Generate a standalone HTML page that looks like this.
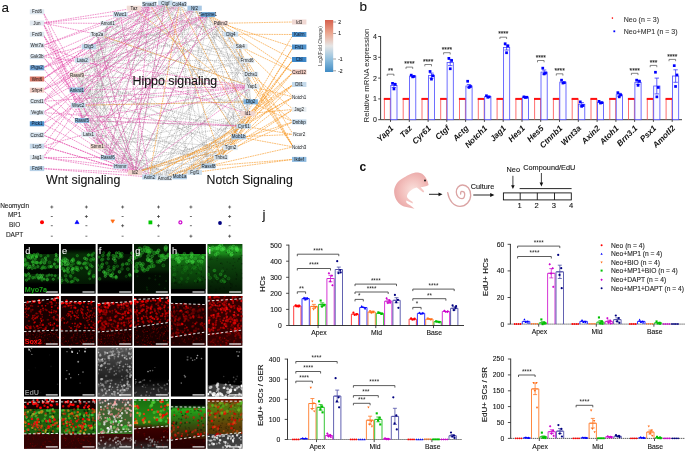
<!DOCTYPE html>
<html><head><meta charset="utf-8"><style>
html,body{margin:0;padding:0;background:#fff;width:685px;height:451px;overflow:hidden}
svg{display:block;will-change:transform;font-family:"Liberation Sans", sans-serif}
text{paint-order:stroke}
</style></head><body>
<svg width="685" height="451" viewBox="0 0 685 451">
<text x="1.6" y="11.6" font-size="13.5" fill="#111" text-anchor="start" stroke="#111" stroke-width="0.1">a</text>
<g stroke="#808080" stroke-width="0.45" stroke-dasharray="1.2 0.8" fill="none" opacity="0.9"><line x1="165.3" y1="3" x2="247" y2="60.6"/><line x1="165.3" y1="3" x2="247.6" y2="113.7"/><line x1="165.3" y1="3" x2="238.6" y2="136.8"/><line x1="165.3" y1="3" x2="208.5" y2="166"/><line x1="165.3" y1="3" x2="135" y2="172.6"/><line x1="165.3" y1="3" x2="120.4" y2="166.3"/><line x1="165.3" y1="3" x2="97.2" y2="146.6"/><line x1="165.3" y1="3" x2="88.6" y2="134.3"/><line x1="165.3" y1="3" x2="82" y2="120.5"/><line x1="165.3" y1="3" x2="78.2" y2="105.3"/><line x1="179.5" y1="4.2" x2="247" y2="60.6"/><line x1="179.5" y1="4.2" x2="252" y2="86.6"/><line x1="179.5" y1="4.2" x2="208.5" y2="166"/><line x1="179.5" y1="4.2" x2="194.8" y2="172.4"/><line x1="179.5" y1="4.2" x2="120.4" y2="166.3"/><line x1="179.5" y1="4.2" x2="88.6" y2="134.3"/><line x1="179.5" y1="4.2" x2="82" y2="120.5"/><line x1="179.5" y1="4.2" x2="82.2" y2="60.3"/><line x1="179.5" y1="4.2" x2="89" y2="46.8"/><line x1="179.5" y1="4.2" x2="97.2" y2="34.3"/><line x1="179.5" y1="4.2" x2="107.7" y2="23.4"/><line x1="179.5" y1="4.2" x2="134" y2="8.2"/><line x1="194.6" y1="8.2" x2="240.3" y2="46.5"/><line x1="194.6" y1="8.2" x2="251" y2="74.3"/><line x1="194.6" y1="8.2" x2="250.7" y2="101.8"/><line x1="194.6" y1="8.2" x2="247.6" y2="113.7"/><line x1="194.6" y1="8.2" x2="208.5" y2="166"/><line x1="194.6" y1="8.2" x2="149.4" y2="177"/><line x1="194.6" y1="8.2" x2="120.4" y2="166.3"/><line x1="194.6" y1="8.2" x2="107.8" y2="157.6"/><line x1="194.6" y1="8.2" x2="78.2" y2="105.3"/><line x1="194.6" y1="8.2" x2="76.8" y2="90"/><line x1="194.6" y1="8.2" x2="82.2" y2="60.3"/><line x1="208" y1="14.6" x2="240.3" y2="46.5"/><line x1="208" y1="14.6" x2="252" y2="86.6"/><line x1="208" y1="14.6" x2="250.7" y2="101.8"/><line x1="208" y1="14.6" x2="238.6" y2="136.8"/><line x1="208" y1="14.6" x2="179.7" y2="176.8"/><line x1="208" y1="14.6" x2="164.7" y2="178"/><line x1="208" y1="14.6" x2="135" y2="172.6"/><line x1="208" y1="14.6" x2="107.8" y2="157.6"/><line x1="208" y1="14.6" x2="78.2" y2="105.3"/><line x1="208" y1="14.6" x2="77" y2="74.9"/><line x1="208" y1="14.6" x2="82.2" y2="60.3"/><line x1="208" y1="14.6" x2="149.4" y2="4.2"/><line x1="220.6" y1="23.3" x2="251" y2="74.3"/><line x1="220.6" y1="23.3" x2="252" y2="86.6"/><line x1="220.6" y1="23.3" x2="243.7" y2="126.2"/><line x1="220.6" y1="23.3" x2="164.7" y2="178"/><line x1="220.6" y1="23.3" x2="149.4" y2="177"/><line x1="220.6" y1="23.3" x2="135" y2="172.6"/><line x1="220.6" y1="23.3" x2="88.6" y2="134.3"/><line x1="220.6" y1="23.3" x2="89" y2="46.8"/><line x1="231" y1="34.2" x2="149.4" y2="177"/><line x1="231" y1="34.2" x2="82.2" y2="60.3"/><line x1="231" y1="34.2" x2="97.2" y2="34.3"/><line x1="231" y1="34.2" x2="134" y2="8.2"/><line x1="240.3" y1="46.5" x2="250.7" y2="101.8"/><line x1="240.3" y1="46.5" x2="247.6" y2="113.7"/><line x1="240.3" y1="46.5" x2="230.5" y2="147.6"/><line x1="240.3" y1="46.5" x2="221" y2="157.3"/><line x1="240.3" y1="46.5" x2="120.4" y2="166.3"/><line x1="240.3" y1="46.5" x2="82.2" y2="60.3"/><line x1="240.3" y1="46.5" x2="149.4" y2="4.2"/><line x1="247" y1="60.6" x2="250.7" y2="101.8"/><line x1="247" y1="60.6" x2="247.6" y2="113.7"/><line x1="247" y1="60.6" x2="164.7" y2="178"/><line x1="247" y1="60.6" x2="149.4" y2="177"/><line x1="247" y1="60.6" x2="120.4" y2="166.3"/><line x1="247" y1="60.6" x2="78.2" y2="105.3"/><line x1="247" y1="60.6" x2="76.8" y2="90"/><line x1="247" y1="60.6" x2="82.2" y2="60.3"/><line x1="247" y1="60.6" x2="97.2" y2="34.3"/><line x1="247" y1="60.6" x2="107.7" y2="23.4"/><line x1="247" y1="60.6" x2="120.4" y2="14.6"/><line x1="251" y1="74.3" x2="230.5" y2="147.6"/><line x1="251" y1="74.3" x2="208.5" y2="166"/><line x1="251" y1="74.3" x2="194.8" y2="172.4"/><line x1="251" y1="74.3" x2="149.4" y2="177"/><line x1="251" y1="74.3" x2="135" y2="172.6"/><line x1="251" y1="74.3" x2="82.2" y2="60.3"/><line x1="251" y1="74.3" x2="107.7" y2="23.4"/><line x1="252" y1="86.6" x2="194.8" y2="172.4"/><line x1="252" y1="86.6" x2="120.4" y2="166.3"/><line x1="252" y1="86.6" x2="97.2" y2="34.3"/><line x1="250.7" y1="101.8" x2="238.6" y2="136.8"/><line x1="250.7" y1="101.8" x2="221" y2="157.3"/><line x1="250.7" y1="101.8" x2="179.7" y2="176.8"/><line x1="250.7" y1="101.8" x2="164.7" y2="178"/><line x1="250.7" y1="101.8" x2="78.2" y2="105.3"/><line x1="250.7" y1="101.8" x2="76.8" y2="90"/><line x1="247.6" y1="113.7" x2="221" y2="157.3"/><line x1="247.6" y1="113.7" x2="149.4" y2="177"/><line x1="247.6" y1="113.7" x2="97.2" y2="146.6"/><line x1="247.6" y1="113.7" x2="97.2" y2="34.3"/><line x1="243.7" y1="126.2" x2="221" y2="157.3"/><line x1="243.7" y1="126.2" x2="135" y2="172.6"/><line x1="243.7" y1="126.2" x2="97.2" y2="146.6"/><line x1="243.7" y1="126.2" x2="82" y2="120.5"/><line x1="243.7" y1="126.2" x2="78.2" y2="105.3"/><line x1="243.7" y1="126.2" x2="76.8" y2="90"/><line x1="243.7" y1="126.2" x2="107.7" y2="23.4"/><line x1="243.7" y1="126.2" x2="134" y2="8.2"/><line x1="238.6" y1="136.8" x2="135" y2="172.6"/><line x1="238.6" y1="136.8" x2="120.4" y2="166.3"/><line x1="238.6" y1="136.8" x2="77" y2="74.9"/><line x1="238.6" y1="136.8" x2="149.4" y2="4.2"/><line x1="230.5" y1="147.6" x2="194.8" y2="172.4"/><line x1="230.5" y1="147.6" x2="179.7" y2="176.8"/><line x1="230.5" y1="147.6" x2="149.4" y2="177"/><line x1="230.5" y1="147.6" x2="135" y2="172.6"/><line x1="230.5" y1="147.6" x2="88.6" y2="134.3"/><line x1="230.5" y1="147.6" x2="76.8" y2="90"/><line x1="230.5" y1="147.6" x2="77" y2="74.9"/><line x1="230.5" y1="147.6" x2="107.7" y2="23.4"/><line x1="221" y1="157.3" x2="179.7" y2="176.8"/><line x1="221" y1="157.3" x2="164.7" y2="178"/><line x1="221" y1="157.3" x2="149.4" y2="177"/><line x1="221" y1="157.3" x2="97.2" y2="146.6"/><line x1="221" y1="157.3" x2="88.6" y2="134.3"/><line x1="221" y1="157.3" x2="82" y2="120.5"/><line x1="221" y1="157.3" x2="82.2" y2="60.3"/><line x1="221" y1="157.3" x2="89" y2="46.8"/><line x1="208.5" y1="166" x2="149.4" y2="177"/><line x1="208.5" y1="166" x2="107.8" y2="157.6"/><line x1="208.5" y1="166" x2="78.2" y2="105.3"/><line x1="208.5" y1="166" x2="76.8" y2="90"/><line x1="208.5" y1="166" x2="82.2" y2="60.3"/><line x1="194.8" y1="172.4" x2="120.4" y2="166.3"/><line x1="194.8" y1="172.4" x2="134" y2="8.2"/><line x1="179.7" y1="176.8" x2="97.2" y2="146.6"/><line x1="164.7" y1="178" x2="107.8" y2="157.6"/><line x1="164.7" y1="178" x2="88.6" y2="134.3"/><line x1="164.7" y1="178" x2="82" y2="120.5"/><line x1="164.7" y1="178" x2="76.8" y2="90"/><line x1="164.7" y1="178" x2="77" y2="74.9"/><line x1="149.4" y1="177" x2="88.6" y2="134.3"/><line x1="149.4" y1="177" x2="78.2" y2="105.3"/><line x1="149.4" y1="177" x2="77" y2="74.9"/><line x1="149.4" y1="177" x2="97.2" y2="34.3"/><line x1="135" y1="172.6" x2="77" y2="74.9"/><line x1="135" y1="172.6" x2="82.2" y2="60.3"/><line x1="135" y1="172.6" x2="89" y2="46.8"/><line x1="135" y1="172.6" x2="97.2" y2="34.3"/><line x1="120.4" y1="166.3" x2="82" y2="120.5"/><line x1="120.4" y1="166.3" x2="89" y2="46.8"/><line x1="107.8" y1="157.6" x2="82" y2="120.5"/><line x1="107.8" y1="157.6" x2="77" y2="74.9"/><line x1="107.8" y1="157.6" x2="82.2" y2="60.3"/><line x1="107.8" y1="157.6" x2="97.2" y2="34.3"/><line x1="107.8" y1="157.6" x2="149.4" y2="4.2"/><line x1="97.2" y1="146.6" x2="97.2" y2="34.3"/><line x1="97.2" y1="146.6" x2="107.7" y2="23.4"/><line x1="88.6" y1="134.3" x2="107.7" y2="23.4"/><line x1="88.6" y1="134.3" x2="120.4" y2="14.6"/><line x1="82" y1="120.5" x2="77" y2="74.9"/><line x1="82" y1="120.5" x2="82.2" y2="60.3"/><line x1="82" y1="120.5" x2="107.7" y2="23.4"/><line x1="82" y1="120.5" x2="134" y2="8.2"/><line x1="82" y1="120.5" x2="149.4" y2="4.2"/><line x1="78.2" y1="105.3" x2="107.7" y2="23.4"/><line x1="76.8" y1="90" x2="120.4" y2="14.6"/><line x1="76.8" y1="90" x2="149.4" y2="4.2"/><line x1="82.2" y1="60.3" x2="120.4" y2="14.6"/><line x1="82.2" y1="60.3" x2="149.4" y2="4.2"/><line x1="97.2" y1="34.3" x2="134" y2="8.2"/></g>
<g stroke="#f7961f" stroke-width="0.62" stroke-dasharray="1.8 0.7" fill="none"><line x1="293.2" y1="22" x2="220.6" y2="23.3"/><line x1="293.2" y1="34.5" x2="231" y2="34.2"/><line x1="293.2" y1="34.5" x2="221" y2="157.3"/><line x1="293.2" y1="47" x2="238.6" y2="136.8"/><line x1="293.2" y1="47" x2="230.5" y2="147.6"/><line x1="293.2" y1="47" x2="220.6" y2="23.3"/><line x1="293.2" y1="59.5" x2="208.5" y2="166"/><line x1="293.2" y1="59.5" x2="243.7" y2="126.2"/><line x1="293.2" y1="59.5" x2="221" y2="157.3"/><line x1="293.2" y1="59.5" x2="208" y2="14.6"/><line x1="293.2" y1="72" x2="208" y2="14.6"/><line x1="293.2" y1="72" x2="179.7" y2="176.8"/><line x1="293.2" y1="72" x2="194.8" y2="172.4"/><line x1="293.2" y1="72" x2="221" y2="157.3"/><line x1="293.2" y1="72" x2="240.3" y2="46.5"/><line x1="293.2" y1="84.5" x2="164.7" y2="178"/><line x1="293.2" y1="84.5" x2="179.7" y2="176.8"/><line x1="293.2" y1="84.5" x2="247.6" y2="113.7"/><line x1="293.2" y1="84.5" x2="230.5" y2="147.6"/><line x1="293.2" y1="96.9" x2="208" y2="14.6"/><line x1="293.2" y1="96.9" x2="149.4" y2="177"/><line x1="293.2" y1="96.9" x2="194.8" y2="172.4"/><line x1="293.2" y1="96.9" x2="243.7" y2="126.2"/><line x1="293.2" y1="96.9" x2="252" y2="86.6"/><line x1="293.2" y1="109.4" x2="179.7" y2="176.8"/><line x1="293.2" y1="109.4" x2="247.6" y2="113.7"/><line x1="293.2" y1="109.4" x2="208.5" y2="166"/><line x1="293.2" y1="109.4" x2="251" y2="74.3"/><line x1="293.2" y1="121.9" x2="252" y2="86.6"/><line x1="293.2" y1="121.9" x2="164.7" y2="178"/><line x1="293.2" y1="121.9" x2="135" y2="172.6"/><line x1="293.2" y1="121.9" x2="250.7" y2="101.8"/><line x1="293.2" y1="134.4" x2="238.6" y2="136.8"/><line x1="293.2" y1="134.4" x2="243.7" y2="126.2"/><line x1="293.2" y1="134.4" x2="247" y2="60.6"/><line x1="293.2" y1="146.9" x2="208" y2="14.6"/><line x1="293.2" y1="146.9" x2="220.6" y2="23.3"/><line x1="293.2" y1="146.9" x2="231" y2="34.2"/><line x1="293.2" y1="146.9" x2="238.6" y2="136.8"/><line x1="293.2" y1="146.9" x2="208.5" y2="166"/><line x1="293.2" y1="146.9" x2="252" y2="86.6"/><line x1="293.2" y1="159.4" x2="194.8" y2="172.4"/><line x1="293.2" y1="159.4" x2="208.5" y2="166"/><line x1="179.5" y1="4.2" x2="149.4" y2="177"/><line x1="165.3" y1="3" x2="221" y2="157.3"/><line x1="149.4" y1="4.2" x2="238.6" y2="136.8"/><line x1="179.5" y1="4.2" x2="243.7" y2="126.2"/><line x1="97.2" y1="34.3" x2="252" y2="86.6"/><line x1="78.2" y1="105.3" x2="250.7" y2="101.8"/><line x1="135" y1="172.6" x2="230.5" y2="147.6"/><line x1="135" y1="172.6" x2="238.6" y2="136.8"/><line x1="149.4" y1="177" x2="243.7" y2="126.2"/><line x1="164.7" y1="178" x2="221" y2="157.3"/><line x1="194.6" y1="8.2" x2="247.6" y2="113.7"/><line x1="134" y1="8.2" x2="250.7" y2="101.8"/></g>
<g stroke="#e23fa3" stroke-width="0.55" stroke-dasharray="1.7 0.8" fill="none"><line x1="43" y1="11.8" x2="77" y2="74.9"/><line x1="43" y1="11.8" x2="88.6" y2="134.3"/><line x1="43" y1="23" x2="134" y2="8.2"/><line x1="43" y1="23" x2="120.4" y2="14.6"/><line x1="43" y1="23" x2="107.7" y2="23.4"/><line x1="43" y1="23" x2="97.2" y2="34.3"/><line x1="43" y1="23" x2="88.6" y2="134.3"/><line x1="43" y1="23" x2="135" y2="172.6"/><line x1="43" y1="23" x2="107.8" y2="157.6"/><line x1="43" y1="34.2" x2="76.8" y2="90"/><line x1="43" y1="34.2" x2="135" y2="172.6"/><line x1="43" y1="34.2" x2="97.2" y2="146.6"/><line x1="43" y1="45.4" x2="165.3" y2="3"/><line x1="43" y1="45.4" x2="149.4" y2="4.2"/><line x1="43" y1="45.4" x2="120.4" y2="166.3"/><line x1="43" y1="45.4" x2="82.2" y2="60.3"/><line x1="43" y1="56.6" x2="208" y2="14.6"/><line x1="43" y1="56.6" x2="165.3" y2="3"/><line x1="43" y1="56.6" x2="252" y2="86.6"/><line x1="43" y1="56.6" x2="135" y2="172.6"/><line x1="43" y1="56.6" x2="149.4" y2="177"/><line x1="43" y1="67.8" x2="208" y2="14.6"/><line x1="43" y1="67.8" x2="149.4" y2="4.2"/><line x1="43" y1="67.8" x2="120.4" y2="166.3"/><line x1="43" y1="67.8" x2="179.5" y2="4.2"/><line x1="43" y1="79" x2="149.4" y2="4.2"/><line x1="43" y1="79" x2="165.3" y2="3"/><line x1="43" y1="79" x2="135" y2="172.6"/><line x1="43" y1="79" x2="89" y2="46.8"/><line x1="43" y1="90.2" x2="165.3" y2="3"/><line x1="43" y1="90.2" x2="208" y2="14.6"/><line x1="43" y1="90.2" x2="135" y2="172.6"/><line x1="43" y1="90.2" x2="97.2" y2="34.3"/><line x1="43" y1="90.2" x2="194.6" y2="8.2"/><line x1="43" y1="101.4" x2="208" y2="14.6"/><line x1="43" y1="101.4" x2="149.4" y2="4.2"/><line x1="43" y1="101.4" x2="252" y2="86.6"/><line x1="43" y1="101.4" x2="135" y2="172.6"/><line x1="43" y1="101.4" x2="149.4" y2="177"/><line x1="43" y1="101.4" x2="120.4" y2="14.6"/><line x1="43" y1="101.4" x2="179.5" y2="4.2"/><line x1="43" y1="112.6" x2="208" y2="14.6"/><line x1="43" y1="112.6" x2="135" y2="172.6"/><line x1="43" y1="112.6" x2="243.7" y2="126.2"/><line x1="43" y1="112.6" x2="194.6" y2="8.2"/><line x1="43" y1="123.8" x2="165.3" y2="3"/><line x1="43" y1="123.8" x2="135" y2="172.6"/><line x1="43" y1="123.8" x2="220.6" y2="23.3"/><line x1="43" y1="135" x2="165.3" y2="3"/><line x1="43" y1="135" x2="135" y2="172.6"/><line x1="43" y1="135" x2="120.4" y2="166.3"/><line x1="43" y1="135" x2="179.5" y2="4.2"/><line x1="43" y1="146.2" x2="149.4" y2="4.2"/><line x1="43" y1="146.2" x2="135" y2="172.6"/><line x1="43" y1="146.2" x2="149.4" y2="177"/><line x1="43" y1="146.2" x2="252" y2="86.6"/><line x1="43" y1="157.4" x2="135" y2="172.6"/><line x1="43" y1="157.4" x2="149.4" y2="4.2"/><line x1="43" y1="157.4" x2="120.4" y2="166.3"/><line x1="43" y1="157.4" x2="107.8" y2="157.6"/><line x1="43" y1="157.4" x2="194.6" y2="8.2"/><line x1="43" y1="168.6" x2="135" y2="172.6"/><line x1="43" y1="168.6" x2="149.4" y2="177"/><line x1="165.3" y1="3" x2="135" y2="172.6"/><line x1="149.4" y1="4.2" x2="135" y2="172.6"/><line x1="208" y1="14.6" x2="135" y2="172.6"/><line x1="135" y1="172.6" x2="252" y2="86.6"/><line x1="76.8" y1="90" x2="252" y2="86.6"/><line x1="82" y1="120.5" x2="243.7" y2="126.2"/><line x1="78.2" y1="105.3" x2="252" y2="86.6"/><line x1="88.6" y1="134.3" x2="208" y2="14.6"/><line x1="97.2" y1="146.6" x2="149.4" y2="4.2"/><line x1="77" y1="74.9" x2="252" y2="86.6"/><line x1="82.2" y1="60.3" x2="247.6" y2="113.7"/><line x1="89" y1="46.8" x2="135" y2="172.6"/><line x1="97.2" y1="34.3" x2="135" y2="172.6"/><line x1="120.4" y1="14.6" x2="149.4" y2="177"/><line x1="149.4" y1="4.2" x2="107.8" y2="157.6"/><line x1="97.2" y1="146.6" x2="208" y2="14.6"/><line x1="107.8" y1="157.6" x2="194.6" y2="8.2"/><line x1="120.4" y1="166.3" x2="179.5" y2="4.2"/><line x1="88.6" y1="134.3" x2="220.6" y2="23.3"/><line x1="82" y1="120.5" x2="252" y2="86.6"/></g>
<rect x="29.8" y="9.3" width="14.4" height="5" fill="#dde7ef"/>
<text x="37" y="13.4" font-size="4.5" fill="#1a1a1a" text-anchor="middle">Fzd6</text>
<rect x="29.8" y="20.5" width="14.4" height="5" fill="#e2e9f0"/>
<text x="37" y="24.6" font-size="4.5" fill="#1a1a1a" text-anchor="middle">Jun</text>
<rect x="29.8" y="31.8" width="14.4" height="5" fill="#dde7ef"/>
<text x="37" y="35.9" font-size="4.5" fill="#1a1a1a" text-anchor="middle">Fzd9</text>
<rect x="29.8" y="42.9" width="14.4" height="5" fill="#dde7ef"/>
<text x="37" y="47" font-size="4.5" fill="#1a1a1a" text-anchor="middle">Wnt7a</text>
<rect x="29.8" y="54.1" width="14.4" height="5" fill="#d9e4ee"/>
<text x="37" y="58.2" font-size="4.5" fill="#1a1a1a" text-anchor="middle">Gsk3b</text>
<rect x="29.8" y="65.3" width="14.4" height="5" fill="#6d9fcf"/>
<text x="37" y="69.4" font-size="4.5" fill="#101828" text-anchor="middle">Ptgs2</text>
<rect x="29.8" y="76.5" width="14.4" height="5" fill="#dc7a6a"/>
<text x="37" y="80.6" font-size="4.5" fill="#1a1a1a" text-anchor="middle">Wnt6</text>
<rect x="29.8" y="87.7" width="14.4" height="5" fill="#f0cbc2"/>
<text x="37" y="91.8" font-size="4.5" fill="#1a1a1a" text-anchor="middle">Sfrp4</text>
<rect x="29.8" y="98.9" width="14.4" height="5" fill="#dce6ee"/>
<text x="37" y="103" font-size="4.5" fill="#1a1a1a" text-anchor="middle">Ccnd1</text>
<rect x="29.8" y="110.1" width="14.4" height="5" fill="#d8e4ee"/>
<text x="37" y="114.2" font-size="4.5" fill="#1a1a1a" text-anchor="middle">Vegfa</text>
<rect x="29.8" y="121.3" width="14.4" height="5" fill="#4f92cc"/>
<text x="37" y="125.4" font-size="4.5" fill="#101828" text-anchor="middle">Pick1</text>
<rect x="29.8" y="132.5" width="14.4" height="5" fill="#d3e1ec"/>
<text x="37" y="136.6" font-size="4.5" fill="#1a1a1a" text-anchor="middle">Ccnd2</text>
<rect x="29.8" y="143.7" width="14.4" height="5" fill="#c5d9ea"/>
<text x="37" y="147.8" font-size="4.5" fill="#1a1a1a" text-anchor="middle">Lrp5</text>
<rect x="29.8" y="154.9" width="14.4" height="5" fill="#dfe8ef"/>
<text x="37" y="159" font-size="4.5" fill="#1a1a1a" text-anchor="middle">Jag1</text>
<rect x="29.8" y="166.1" width="14.4" height="5" fill="#b6d0e6"/>
<text x="37" y="170.2" font-size="4.5" fill="#1a1a1a" text-anchor="middle">Fzd4</text>
<rect x="292" y="19.5" width="14.4" height="5" fill="#f0d8d3"/>
<text x="299.2" y="23.6" font-size="4.5" fill="#1a1a1a" text-anchor="middle">Id3</text>
<rect x="292" y="32" width="14.4" height="5" fill="#4e92cc"/>
<text x="299.2" y="36.1" font-size="4.5" fill="#101828" text-anchor="middle">Kalrn</text>
<rect x="292" y="44.5" width="14.4" height="5" fill="#4e92cc"/>
<text x="299.2" y="48.6" font-size="4.5" fill="#101828" text-anchor="middle">Fhl1</text>
<rect x="292" y="57" width="14.4" height="5" fill="#3d87c8"/>
<text x="299.2" y="61.1" font-size="4.5" fill="#101828" text-anchor="middle">Cbl</text>
<rect x="292" y="69.5" width="14.4" height="5" fill="#ecc5bb"/>
<text x="299.2" y="73.6" font-size="4.5" fill="#1a1a1a" text-anchor="middle">Cxcl12</text>
<rect x="292" y="82" width="14.4" height="5" fill="#c4d9ea"/>
<text x="299.2" y="86" font-size="4.5" fill="#1a1a1a" text-anchor="middle">Dll1</text>
<rect x="292" y="94.4" width="14.4" height="5" fill="#f4f6f8"/>
<text x="299.2" y="98.5" font-size="4.5" fill="#1a1a1a" text-anchor="middle">Notch1</text>
<rect x="292" y="106.9" width="14.4" height="5" fill="#e8eef2"/>
<text x="299.2" y="111" font-size="4.5" fill="#1a1a1a" text-anchor="middle">Jag2</text>
<rect x="292" y="119.4" width="14.4" height="5" fill="#c4d9ea"/>
<text x="299.2" y="123.5" font-size="4.5" fill="#1a1a1a" text-anchor="middle">Dnbbp</text>
<rect x="292" y="131.9" width="14.4" height="5" fill="#f7f8f9"/>
<text x="299.2" y="136" font-size="4.5" fill="#1a1a1a" text-anchor="middle">Ncor2</text>
<rect x="292" y="144.4" width="14.4" height="5" fill="#f3f5f7"/>
<text x="299.2" y="148.5" font-size="4.5" fill="#1a1a1a" text-anchor="middle">Notch3</text>
<rect x="292" y="156.9" width="14.4" height="5" fill="#8fbbe0"/>
<text x="299.2" y="161" font-size="4.5" fill="#1a1a1a" text-anchor="middle">Ikdef</text>
<rect x="158.1" y="0.5" width="14.4" height="5" fill="#c8dcec"/>
<text x="165.3" y="4.6" font-size="4.5" fill="#1a1a1a" text-anchor="middle">Ctgf</text>
<rect x="172.3" y="1.7" width="14.4" height="5" fill="#c3d8ea"/>
<text x="179.5" y="5.8" font-size="4.5" fill="#1a1a1a" text-anchor="middle">Col4a3</text>
<rect x="187.4" y="5.7" width="14.4" height="5" fill="#a8c8e4"/>
<text x="194.6" y="9.8" font-size="4.5" fill="#1a1a1a" text-anchor="middle">Nf2</text>
<rect x="200.8" y="12.1" width="14.4" height="5" fill="#6aa2d2"/>
<text x="208" y="16.2" font-size="4.5" fill="#101828" text-anchor="middle">Serpine1</text>
<rect x="213.4" y="20.8" width="14.4" height="5" fill="#eed5cf"/>
<text x="220.6" y="24.9" font-size="4.5" fill="#1a1a1a" text-anchor="middle">Pdlim2</text>
<rect x="223.8" y="31.7" width="14.4" height="5" fill="#c8dcec"/>
<text x="231" y="35.8" font-size="4.5" fill="#1a1a1a" text-anchor="middle">Dlg4</text>
<rect x="233.1" y="44" width="14.4" height="5" fill="#dde6ee"/>
<text x="240.3" y="48.1" font-size="4.5" fill="#1a1a1a" text-anchor="middle">Stk4</text>
<rect x="239.8" y="58.1" width="14.4" height="5" fill="#e2e9ef"/>
<text x="247" y="62.2" font-size="4.5" fill="#1a1a1a" text-anchor="middle">Frmd6</text>
<rect x="243.8" y="71.8" width="14.4" height="5" fill="#d8e4ee"/>
<text x="251" y="75.9" font-size="4.5" fill="#1a1a1a" text-anchor="middle">Dchs1</text>
<rect x="244.8" y="84.1" width="14.4" height="5" fill="#e5ebf0"/>
<text x="252" y="88.2" font-size="4.5" fill="#1a1a1a" text-anchor="middle">Yap1</text>
<rect x="243.5" y="99.3" width="14.4" height="5" fill="#7aaed9"/>
<text x="250.7" y="103.4" font-size="4.5" fill="#1a1a1a" text-anchor="middle">Dlg2</text>
<rect x="240.4" y="111.2" width="14.4" height="5" fill="#f0d5d0"/>
<text x="247.6" y="115.3" font-size="4.5" fill="#1a1a1a" text-anchor="middle">Id1</text>
<rect x="236.5" y="123.7" width="14.4" height="5" fill="#c8dced"/>
<text x="243.7" y="127.8" font-size="4.5" fill="#1a1a1a" text-anchor="middle">Cyr61</text>
<rect x="231.4" y="134.3" width="14.4" height="5" fill="#aecbe5"/>
<text x="238.6" y="138.4" font-size="4.5" fill="#1a1a1a" text-anchor="middle">Mob1b</text>
<rect x="223.3" y="145.1" width="14.4" height="5" fill="#dde6ee"/>
<text x="230.5" y="149.2" font-size="4.5" fill="#1a1a1a" text-anchor="middle">Tgm2</text>
<rect x="213.8" y="154.8" width="14.4" height="5" fill="#d8e4ee"/>
<text x="221" y="158.9" font-size="4.5" fill="#1a1a1a" text-anchor="middle">Thbs1</text>
<rect x="201.3" y="163.5" width="14.4" height="5" fill="#b5d0e7"/>
<text x="208.5" y="167.6" font-size="4.5" fill="#1a1a1a" text-anchor="middle">Rassf8</text>
<rect x="187.6" y="169.9" width="14.4" height="5" fill="#cfe0ed"/>
<text x="194.8" y="174" font-size="4.5" fill="#1a1a1a" text-anchor="middle">Fgf1</text>
<rect x="172.5" y="174.3" width="14.4" height="5" fill="#b0cde6"/>
<text x="179.7" y="178.4" font-size="4.5" fill="#1a1a1a" text-anchor="middle">Mob1a</text>
<rect x="157.5" y="175.5" width="14.4" height="5" fill="#d9e4ee"/>
<text x="164.7" y="179.6" font-size="4.5" fill="#1a1a1a" text-anchor="middle">Amotl2</text>
<rect x="142.2" y="174.5" width="14.4" height="5" fill="#c0d7ea"/>
<text x="149.4" y="178.6" font-size="4.5" fill="#1a1a1a" text-anchor="middle">Axin2</text>
<rect x="127.8" y="170.1" width="14.4" height="5" fill="#f0d3cb"/>
<text x="135" y="174.2" font-size="4.5" fill="#1a1a1a" text-anchor="middle">Id2</text>
<rect x="113.2" y="163.8" width="14.4" height="5" fill="#c5d9eb"/>
<text x="120.4" y="167.9" font-size="4.5" fill="#1a1a1a" text-anchor="middle">Hmmr</text>
<rect x="100.6" y="155.1" width="14.4" height="5" fill="#b7d1e8"/>
<text x="107.8" y="159.2" font-size="4.5" fill="#1a1a1a" text-anchor="middle">Rassf6</text>
<rect x="90" y="144.1" width="14.4" height="5" fill="#efd8d0"/>
<text x="97.2" y="148.2" font-size="4.5" fill="#1a1a1a" text-anchor="middle">Stmn1</text>
<rect x="81.4" y="131.8" width="14.4" height="5" fill="#dde6ee"/>
<text x="88.6" y="135.9" font-size="4.5" fill="#1a1a1a" text-anchor="middle">Lats1</text>
<rect x="74.8" y="118" width="14.4" height="5" fill="#8fbadf"/>
<text x="82" y="122.1" font-size="4.5" fill="#1a1a1a" text-anchor="middle">Rassf5</text>
<rect x="71" y="102.8" width="14.4" height="5" fill="#c5d9ea"/>
<text x="78.2" y="106.9" font-size="4.5" fill="#1a1a1a" text-anchor="middle">Wwc2</text>
<rect x="69.6" y="87.5" width="14.4" height="5" fill="#98c0e1"/>
<text x="76.8" y="91.6" font-size="4.5" fill="#1a1a1a" text-anchor="middle">Ankrd1</text>
<rect x="69.8" y="72.4" width="14.4" height="5" fill="#eddad3"/>
<text x="77" y="76.5" font-size="4.5" fill="#1a1a1a" text-anchor="middle">Rassf9</text>
<rect x="75" y="57.8" width="14.4" height="5" fill="#c8dcec"/>
<text x="82.2" y="61.9" font-size="4.5" fill="#1a1a1a" text-anchor="middle">Lats2</text>
<rect x="81.8" y="44.3" width="14.4" height="5" fill="#bcd5e9"/>
<text x="89" y="48.4" font-size="4.5" fill="#1a1a1a" text-anchor="middle">Dlg5</text>
<rect x="90" y="31.8" width="14.4" height="5" fill="#dfe7ee"/>
<text x="97.2" y="35.9" font-size="4.5" fill="#1a1a1a" text-anchor="middle">Top2a</text>
<rect x="100.5" y="20.9" width="14.4" height="5" fill="#dde6ee"/>
<text x="107.7" y="25" font-size="4.5" fill="#1a1a1a" text-anchor="middle">Amotl1</text>
<rect x="113.2" y="12.1" width="14.4" height="5" fill="#c7dbea"/>
<text x="120.4" y="16.2" font-size="4.5" fill="#1a1a1a" text-anchor="middle">Wwc1</text>
<rect x="126.8" y="5.7" width="14.4" height="5" fill="#f2ddd7"/>
<text x="134" y="9.8" font-size="4.5" fill="#1a1a1a" text-anchor="middle">Taz</text>
<rect x="142.2" y="1.7" width="14.4" height="5" fill="#c5d9ea"/>
<text x="149.4" y="5.8" font-size="4.5" fill="#1a1a1a" text-anchor="middle">Smad7</text>
<text x="132.5" y="84.6" font-size="12.4" fill="#111" text-anchor="start" stroke="#111" stroke-width="0.1">Hippo signaling</text>
<text x="46" y="183.7" font-size="12.4" fill="#111" text-anchor="start" stroke="#111" stroke-width="0.1">Wnt signaling</text>
<text x="206.6" y="183.7" font-size="12.3" fill="#111" text-anchor="start" stroke="#111" stroke-width="0.1">Notch Signaling</text>
<defs><linearGradient id="cb" x1="0" y1="0" x2="0" y2="1"><stop offset="0" stop-color="#d6604d"/><stop offset="0.25" stop-color="#eba68f"/><stop offset="0.5" stop-color="#e6e6e6"/><stop offset="0.75" stop-color="#92c0de"/><stop offset="1" stop-color="#3f8bc4"/></linearGradient></defs>
<rect x="325" y="20" width="8.2" height="52" fill="url(#cb)" stroke="none" stroke-width="0.8"/>
<line x1="333.2" y1="22" x2="336" y2="22" stroke="#444" stroke-width="0.5"/>
<text x="338.2" y="23.7" font-size="5" fill="#222" text-anchor="start" stroke="#222" stroke-width="0.1">2</text>
<line x1="333.2" y1="33.5" x2="336" y2="33.5" stroke="#444" stroke-width="0.5"/>
<text x="338.2" y="35.2" font-size="5" fill="#222" text-anchor="start" stroke="#222" stroke-width="0.1">1</text>
<line x1="333.2" y1="59" x2="336" y2="59" stroke="#444" stroke-width="0.5"/>
<text x="338.2" y="60.7" font-size="5" fill="#222" text-anchor="start" stroke="#222" stroke-width="0.1">-1</text>
<line x1="333.2" y1="70.8" x2="336" y2="70.8" stroke="#444" stroke-width="0.5"/>
<text x="338.2" y="72.5" font-size="5" fill="#222" text-anchor="start" stroke="#222" stroke-width="0.1">-2</text>
<text x="0" y="0" font-size="4.6" fill="#333" text-anchor="middle" transform="translate(321.7,46) rotate(-90)">Log2(Fold Change)</text>
<text x="359.6" y="10.6" font-size="13.5" fill="#111" text-anchor="start" stroke="#111" stroke-width="0.1">b</text>
<line x1="380.6" y1="36.2" x2="380.6" y2="119.7" stroke="#222" stroke-width="0.9"/>
<line x1="378.2" y1="119.7" x2="380.6" y2="119.7" stroke="#222" stroke-width="0.8"/>
<text x="377" y="122.2" font-size="7" fill="#222" text-anchor="end" stroke="#222" stroke-width="0.1">0</text>
<line x1="378.2" y1="98.9" x2="380.6" y2="98.9" stroke="#222" stroke-width="0.8"/>
<text x="377" y="101.4" font-size="7" fill="#222" text-anchor="end" stroke="#222" stroke-width="0.1">1</text>
<line x1="378.2" y1="78.1" x2="380.6" y2="78.1" stroke="#222" stroke-width="0.8"/>
<text x="377" y="80.6" font-size="7" fill="#222" text-anchor="end" stroke="#222" stroke-width="0.1">2</text>
<line x1="378.2" y1="57.3" x2="380.6" y2="57.3" stroke="#222" stroke-width="0.8"/>
<text x="377" y="59.8" font-size="7" fill="#222" text-anchor="end" stroke="#222" stroke-width="0.1">3</text>
<line x1="378.2" y1="36.5" x2="380.6" y2="36.5" stroke="#222" stroke-width="0.8"/>
<text x="377" y="39" font-size="7" fill="#222" text-anchor="end" stroke="#222" stroke-width="0.1">4</text>
<text x="0" y="0" font-size="7.9" fill="#222" text-anchor="middle" transform="translate(369.0,75.5) rotate(-90)">Relative mRNA expression</text>
<line x1="380.6" y1="119.7" x2="682" y2="119.7" stroke="#222" stroke-width="0.9"/>
<path d="M384.4 119.7 V98.9 H390.3 V119.7" fill="none" stroke="#ff4a4a" stroke-width="0.8"/>
<rect x="383.8" y="97.9" width="6.7" height="2" fill="#ff1010"/>
<rect x="390.8" y="85.4" width="6.2" height="34.3" fill="#fbfbff" stroke="#4a4aff" stroke-width="0.8"/>
<line x1="393.9" y1="83.3" x2="393.9" y2="87.5" stroke="#2020ff" stroke-width="0.7"/>
<line x1="391.7" y1="83.3" x2="396.1" y2="83.3" stroke="#2020ff" stroke-width="0.7"/>
<line x1="391.7" y1="87.5" x2="396.1" y2="87.5" stroke="#2020ff" stroke-width="0.7"/>
<rect x="391.2" y="82" width="2.7" height="2.7" fill="#0000ff"/>
<rect x="393.9" y="83" width="2.7" height="2.7" fill="#0000ff"/>
<rect x="392.6" y="87.6" width="2.7" height="2.7" fill="#0000ff"/>
<line x1="390.5" y1="119.7" x2="390.5" y2="121.9" stroke="#222" stroke-width="0.8"/>
<text x="0" y="0" font-size="8.2" font-weight="bold" font-style="italic" fill="#111" text-anchor="end" transform="translate(393.9,128.7) rotate(-45)">Yap1</text>
<path d="M387.2 76 V74.2 H393.9 V76" fill="none" stroke="#333" stroke-width="0.6"/>
<text x="390.6" y="73.4" font-size="6.6" fill="#222" text-anchor="middle" stroke="#222" stroke-width="0.1">**</text>
<path d="M403.2 119.7 V98.9 H409.1 V119.7" fill="none" stroke="#ff4a4a" stroke-width="0.8"/>
<rect x="402.6" y="97.9" width="6.7" height="2" fill="#ff1010"/>
<rect x="409.6" y="76" width="6.2" height="43.7" fill="#fbfbff" stroke="#4a4aff" stroke-width="0.8"/>
<rect x="409.9" y="73.8" width="2.7" height="2.7" fill="#0000ff"/>
<rect x="412.7" y="75.1" width="2.7" height="2.7" fill="#0000ff"/>
<rect x="411.3" y="75.5" width="2.7" height="2.7" fill="#0000ff"/>
<line x1="409.3" y1="119.7" x2="409.3" y2="121.9" stroke="#222" stroke-width="0.8"/>
<text x="0" y="0" font-size="8.2" font-weight="bold" font-style="italic" fill="#111" text-anchor="end" transform="translate(412.7,128.7) rotate(-45)">Taz</text>
<path d="M406 68.9 V67.1 H412.7 V68.9" fill="none" stroke="#333" stroke-width="0.6"/>
<text x="409.4" y="66.3" font-size="6.6" fill="#222" text-anchor="middle" stroke="#222" stroke-width="0.1">****</text>
<path d="M422 119.7 V98.9 H427.9 V119.7" fill="none" stroke="#ff4a4a" stroke-width="0.8"/>
<rect x="421.4" y="97.9" width="6.7" height="2" fill="#ff1010"/>
<rect x="428.4" y="75.6" width="6.2" height="44.1" fill="#fbfbff" stroke="#4a4aff" stroke-width="0.8"/>
<line x1="431.5" y1="73.1" x2="431.5" y2="78.1" stroke="#2020ff" stroke-width="0.7"/>
<line x1="429.3" y1="73.1" x2="433.7" y2="73.1" stroke="#2020ff" stroke-width="0.7"/>
<line x1="429.3" y1="78.1" x2="433.7" y2="78.1" stroke="#2020ff" stroke-width="0.7"/>
<rect x="428.7" y="70.1" width="2.7" height="2.7" fill="#0000ff"/>
<rect x="431.5" y="74.3" width="2.7" height="2.7" fill="#0000ff"/>
<rect x="430.1" y="77.8" width="2.7" height="2.7" fill="#0000ff"/>
<line x1="428.1" y1="119.7" x2="428.1" y2="121.9" stroke="#222" stroke-width="0.8"/>
<text x="0" y="0" font-size="8.2" font-weight="bold" font-style="italic" fill="#111" text-anchor="end" transform="translate(431.5,128.7) rotate(-45)">Cyr61</text>
<path d="M424.8 66.3 V64.5 H431.5 V66.3" fill="none" stroke="#333" stroke-width="0.6"/>
<text x="428.1" y="63.7" font-size="6.6" fill="#222" text-anchor="middle" stroke="#222" stroke-width="0.1">****</text>
<path d="M440.7 119.7 V98.9 H446.6 V119.7" fill="none" stroke="#ff4a4a" stroke-width="0.8"/>
<rect x="440.1" y="97.9" width="6.7" height="2" fill="#ff1010"/>
<rect x="447.1" y="62.5" width="6.2" height="57.2" fill="#fbfbff" stroke="#4a4aff" stroke-width="0.8"/>
<line x1="450.2" y1="59.4" x2="450.2" y2="65.6" stroke="#2020ff" stroke-width="0.7"/>
<line x1="448" y1="59.4" x2="452.4" y2="59.4" stroke="#2020ff" stroke-width="0.7"/>
<line x1="448" y1="65.6" x2="452.4" y2="65.6" stroke="#2020ff" stroke-width="0.7"/>
<rect x="447.5" y="57" width="2.7" height="2.7" fill="#0000ff"/>
<rect x="450.3" y="59.1" width="2.7" height="2.7" fill="#0000ff"/>
<rect x="448.9" y="67.4" width="2.7" height="2.7" fill="#0000ff"/>
<line x1="446.8" y1="119.7" x2="446.8" y2="121.9" stroke="#222" stroke-width="0.8"/>
<text x="0" y="0" font-size="8.2" font-weight="bold" font-style="italic" fill="#111" text-anchor="end" transform="translate(450.2,128.7) rotate(-45)">Ctgf</text>
<path d="M443.6 54.5 V52.7 H450.2 V54.5" fill="none" stroke="#333" stroke-width="0.6"/>
<text x="446.9" y="51.9" font-size="6.6" fill="#222" text-anchor="middle" stroke="#222" stroke-width="0.1">****</text>
<path d="M459.5 119.7 V98.9 H465.4 V119.7" fill="none" stroke="#ff4a4a" stroke-width="0.8"/>
<rect x="458.9" y="97.9" width="6.7" height="2" fill="#ff1010"/>
<rect x="465.9" y="86" width="6.2" height="33.7" fill="#fbfbff" stroke="#4a4aff" stroke-width="0.8"/>
<line x1="469" y1="84.5" x2="469" y2="87.5" stroke="#2020ff" stroke-width="0.7"/>
<line x1="466.8" y1="84.5" x2="471.2" y2="84.5" stroke="#2020ff" stroke-width="0.7"/>
<line x1="466.8" y1="87.5" x2="471.2" y2="87.5" stroke="#2020ff" stroke-width="0.7"/>
<rect x="466.3" y="79.9" width="2.7" height="2.7" fill="#0000ff"/>
<rect x="469.1" y="85.1" width="2.7" height="2.7" fill="#0000ff"/>
<rect x="467.7" y="86.1" width="2.7" height="2.7" fill="#0000ff"/>
<line x1="465.6" y1="119.7" x2="465.6" y2="121.9" stroke="#222" stroke-width="0.8"/>
<text x="0" y="0" font-size="8.2" font-weight="bold" font-style="italic" fill="#111" text-anchor="end" transform="translate(469,128.7) rotate(-45)">Actg</text>
<path d="M478.3 119.7 V98.9 H484.2 V119.7" fill="none" stroke="#ff4a4a" stroke-width="0.8"/>
<rect x="477.7" y="97.9" width="6.7" height="2" fill="#ff1010"/>
<rect x="484.7" y="96.4" width="6.2" height="23.3" fill="#fbfbff" stroke="#4a4aff" stroke-width="0.8"/>
<rect x="485.1" y="94.4" width="2.7" height="2.7" fill="#0000ff"/>
<rect x="487.8" y="95.5" width="2.7" height="2.7" fill="#0000ff"/>
<rect x="486.4" y="95.9" width="2.7" height="2.7" fill="#0000ff"/>
<line x1="484.4" y1="119.7" x2="484.4" y2="121.9" stroke="#222" stroke-width="0.8"/>
<text x="0" y="0" font-size="8.2" font-weight="bold" font-style="italic" fill="#111" text-anchor="end" transform="translate(487.8,128.7) rotate(-45)">Notch1</text>
<path d="M497.1 119.7 V98.9 H503 V119.7" fill="none" stroke="#ff4a4a" stroke-width="0.8"/>
<rect x="496.5" y="97.9" width="6.7" height="2" fill="#ff1010"/>
<rect x="503.5" y="47.5" width="6.2" height="72.2" fill="#fbfbff" stroke="#4a4aff" stroke-width="0.8"/>
<line x1="506.6" y1="45" x2="506.6" y2="50" stroke="#2020ff" stroke-width="0.7"/>
<line x1="504.4" y1="45" x2="508.8" y2="45" stroke="#2020ff" stroke-width="0.7"/>
<line x1="504.4" y1="50" x2="508.8" y2="50" stroke="#2020ff" stroke-width="0.7"/>
<rect x="503.8" y="42.4" width="2.7" height="2.7" fill="#0000ff"/>
<rect x="506.6" y="44.5" width="2.7" height="2.7" fill="#0000ff"/>
<rect x="505.2" y="51.4" width="2.7" height="2.7" fill="#0000ff"/>
<line x1="503.2" y1="119.7" x2="503.2" y2="121.9" stroke="#222" stroke-width="0.8"/>
<text x="0" y="0" font-size="8.2" font-weight="bold" font-style="italic" fill="#111" text-anchor="end" transform="translate(506.6,128.7) rotate(-45)">Jag1</text>
<path d="M499.9 39 V37.2 H506.6 V39" fill="none" stroke="#333" stroke-width="0.6"/>
<text x="503.3" y="36.4" font-size="6.6" fill="#222" text-anchor="middle" stroke="#222" stroke-width="0.1">****</text>
<path d="M515.9 119.7 V98.9 H521.8 V119.7" fill="none" stroke="#ff4a4a" stroke-width="0.8"/>
<rect x="515.3" y="97.9" width="6.7" height="2" fill="#ff1010"/>
<rect x="522.3" y="97" width="6.2" height="22.7" fill="#fbfbff" stroke="#4a4aff" stroke-width="0.8"/>
<rect x="522.6" y="95.5" width="2.7" height="2.7" fill="#0000ff"/>
<rect x="525.4" y="95.9" width="2.7" height="2.7" fill="#0000ff"/>
<rect x="524" y="96.1" width="2.7" height="2.7" fill="#0000ff"/>
<line x1="522" y1="119.7" x2="522" y2="121.9" stroke="#222" stroke-width="0.8"/>
<text x="0" y="0" font-size="8.2" font-weight="bold" font-style="italic" fill="#111" text-anchor="end" transform="translate(525.4,128.7) rotate(-45)">Hes1</text>
<path d="M534.6 119.7 V98.9 H540.5 V119.7" fill="none" stroke="#ff4a4a" stroke-width="0.8"/>
<rect x="534" y="97.9" width="6.7" height="2" fill="#ff1010"/>
<rect x="541" y="72.1" width="6.2" height="47.6" fill="#fbfbff" stroke="#4a4aff" stroke-width="0.8"/>
<line x1="544.1" y1="70" x2="544.1" y2="74.1" stroke="#2020ff" stroke-width="0.7"/>
<line x1="541.9" y1="70" x2="546.3" y2="70" stroke="#2020ff" stroke-width="0.7"/>
<line x1="541.9" y1="74.1" x2="546.3" y2="74.1" stroke="#2020ff" stroke-width="0.7"/>
<rect x="541.4" y="66.8" width="2.7" height="2.7" fill="#0000ff"/>
<rect x="544.2" y="71.6" width="2.7" height="2.7" fill="#0000ff"/>
<rect x="542.8" y="72.6" width="2.7" height="2.7" fill="#0000ff"/>
<line x1="540.7" y1="119.7" x2="540.7" y2="121.9" stroke="#222" stroke-width="0.8"/>
<text x="0" y="0" font-size="8.2" font-weight="bold" font-style="italic" fill="#111" text-anchor="end" transform="translate(544.1,128.7) rotate(-45)">Hes5</text>
<path d="M537.5 62.3 V60.5 H544.1 V62.3" fill="none" stroke="#333" stroke-width="0.6"/>
<text x="540.8" y="59.7" font-size="6.6" fill="#222" text-anchor="middle" stroke="#222" stroke-width="0.1">****</text>
<path d="M553.4 119.7 V98.9 H559.3 V119.7" fill="none" stroke="#ff4a4a" stroke-width="0.8"/>
<rect x="552.8" y="97.9" width="6.7" height="2" fill="#ff1010"/>
<rect x="559.8" y="82.1" width="6.2" height="37.6" fill="#fbfbff" stroke="#4a4aff" stroke-width="0.8"/>
<rect x="560.2" y="78.8" width="2.7" height="2.7" fill="#0000ff"/>
<rect x="563" y="81.3" width="2.7" height="2.7" fill="#0000ff"/>
<rect x="561.6" y="81.7" width="2.7" height="2.7" fill="#0000ff"/>
<line x1="559.5" y1="119.7" x2="559.5" y2="121.9" stroke="#222" stroke-width="0.8"/>
<text x="0" y="0" font-size="8.2" font-weight="bold" font-style="italic" fill="#111" text-anchor="end" transform="translate(562.9,128.7) rotate(-45)">Ctnnb1</text>
<path d="M556.3 75.6 V73.8 H562.9 V75.6" fill="none" stroke="#333" stroke-width="0.6"/>
<text x="559.6" y="73" font-size="6.6" fill="#222" text-anchor="middle" stroke="#222" stroke-width="0.1">****</text>
<path d="M572.2 119.7 V98.9 H578.1 V119.7" fill="none" stroke="#ff4a4a" stroke-width="0.8"/>
<rect x="571.6" y="97.9" width="6.7" height="2" fill="#ff1010"/>
<rect x="578.6" y="104.3" width="6.2" height="15.4" fill="#fbfbff" stroke="#4a4aff" stroke-width="0.8"/>
<line x1="581.7" y1="102.6" x2="581.7" y2="106" stroke="#2020ff" stroke-width="0.7"/>
<line x1="579.5" y1="102.6" x2="583.9" y2="102.6" stroke="#2020ff" stroke-width="0.7"/>
<line x1="579.5" y1="106" x2="583.9" y2="106" stroke="#2020ff" stroke-width="0.7"/>
<rect x="578.9" y="100.5" width="2.7" height="2.7" fill="#0000ff"/>
<rect x="581.7" y="104.2" width="2.7" height="2.7" fill="#0000ff"/>
<rect x="580.3" y="105" width="2.7" height="2.7" fill="#0000ff"/>
<line x1="578.3" y1="119.7" x2="578.3" y2="121.9" stroke="#222" stroke-width="0.8"/>
<text x="0" y="0" font-size="8.2" font-weight="bold" font-style="italic" fill="#111" text-anchor="end" transform="translate(581.7,128.7) rotate(-45)">Wnt3a</text>
<path d="M591 119.7 V98.9 H596.9 V119.7" fill="none" stroke="#ff4a4a" stroke-width="0.8"/>
<rect x="590.4" y="97.9" width="6.7" height="2" fill="#ff1010"/>
<rect x="597.4" y="102.2" width="6.2" height="17.5" fill="#fbfbff" stroke="#4a4aff" stroke-width="0.8"/>
<rect x="597.7" y="100" width="2.7" height="2.7" fill="#0000ff"/>
<rect x="600.5" y="101.3" width="2.7" height="2.7" fill="#0000ff"/>
<rect x="599.1" y="101.7" width="2.7" height="2.7" fill="#0000ff"/>
<line x1="597.1" y1="119.7" x2="597.1" y2="121.9" stroke="#222" stroke-width="0.8"/>
<text x="0" y="0" font-size="8.2" font-weight="bold" font-style="italic" fill="#111" text-anchor="end" transform="translate(600.5,128.7) rotate(-45)">Axin2</text>
<path d="M609.8 119.7 V98.9 H615.7 V119.7" fill="none" stroke="#ff4a4a" stroke-width="0.8"/>
<rect x="609.2" y="97.9" width="6.7" height="2" fill="#ff1010"/>
<rect x="616.2" y="94.7" width="6.2" height="25" fill="#fbfbff" stroke="#4a4aff" stroke-width="0.8"/>
<line x1="619.3" y1="93.3" x2="619.3" y2="96.2" stroke="#2020ff" stroke-width="0.7"/>
<line x1="617.1" y1="93.3" x2="621.5" y2="93.3" stroke="#2020ff" stroke-width="0.7"/>
<line x1="617.1" y1="96.2" x2="621.5" y2="96.2" stroke="#2020ff" stroke-width="0.7"/>
<rect x="616.5" y="91.3" width="2.7" height="2.7" fill="#0000ff"/>
<rect x="619.3" y="93.4" width="2.7" height="2.7" fill="#0000ff"/>
<rect x="617.9" y="95.5" width="2.7" height="2.7" fill="#0000ff"/>
<line x1="615.9" y1="119.7" x2="615.9" y2="121.9" stroke="#222" stroke-width="0.8"/>
<text x="0" y="0" font-size="8.2" font-weight="bold" font-style="italic" fill="#111" text-anchor="end" transform="translate(619.3,128.7) rotate(-45)">Atoh1</text>
<path d="M628.5 119.7 V98.9 H634.4 V119.7" fill="none" stroke="#ff4a4a" stroke-width="0.8"/>
<rect x="627.9" y="97.9" width="6.7" height="2" fill="#ff1010"/>
<rect x="634.9" y="82.3" width="6.2" height="37.4" fill="#fbfbff" stroke="#4a4aff" stroke-width="0.8"/>
<line x1="638" y1="80.2" x2="638" y2="84.3" stroke="#2020ff" stroke-width="0.7"/>
<line x1="635.8" y1="80.2" x2="640.2" y2="80.2" stroke="#2020ff" stroke-width="0.7"/>
<line x1="635.8" y1="84.3" x2="640.2" y2="84.3" stroke="#2020ff" stroke-width="0.7"/>
<rect x="635.3" y="78.8" width="2.7" height="2.7" fill="#0000ff"/>
<rect x="638.1" y="79.9" width="2.7" height="2.7" fill="#0000ff"/>
<rect x="636.7" y="84" width="2.7" height="2.7" fill="#0000ff"/>
<line x1="634.6" y1="119.7" x2="634.6" y2="121.9" stroke="#222" stroke-width="0.8"/>
<text x="0" y="0" font-size="8.2" font-weight="bold" font-style="italic" fill="#111" text-anchor="end" transform="translate(638,128.7) rotate(-45)">Brn3.1</text>
<path d="M631.4 75.1 V73.3 H638 V75.1" fill="none" stroke="#333" stroke-width="0.6"/>
<text x="634.7" y="72.5" font-size="6.6" fill="#222" text-anchor="middle" stroke="#222" stroke-width="0.1">****</text>
<path d="M647.3 119.7 V98.9 H653.2 V119.7" fill="none" stroke="#ff4a4a" stroke-width="0.8"/>
<rect x="646.7" y="97.9" width="6.7" height="2" fill="#ff1010"/>
<rect x="653.7" y="86" width="6.2" height="33.7" fill="#fbfbff" stroke="#4a4aff" stroke-width="0.8"/>
<line x1="656.8" y1="78.1" x2="656.8" y2="93.9" stroke="#2020ff" stroke-width="0.7"/>
<line x1="654.6" y1="78.1" x2="659" y2="78.1" stroke="#2020ff" stroke-width="0.7"/>
<line x1="654.6" y1="93.9" x2="659" y2="93.9" stroke="#2020ff" stroke-width="0.7"/>
<rect x="654.1" y="70.9" width="2.7" height="2.7" fill="#0000ff"/>
<rect x="656.9" y="86.1" width="2.7" height="2.7" fill="#0000ff"/>
<rect x="655.5" y="95.5" width="2.7" height="2.7" fill="#0000ff"/>
<line x1="653.4" y1="119.7" x2="653.4" y2="121.9" stroke="#222" stroke-width="0.8"/>
<text x="0" y="0" font-size="8.2" font-weight="bold" font-style="italic" fill="#111" text-anchor="end" transform="translate(656.8,128.7) rotate(-45)">Psx1</text>
<path d="M650.2 67.2 V65.4 H656.8 V67.2" fill="none" stroke="#333" stroke-width="0.6"/>
<text x="653.5" y="64.6" font-size="6.6" fill="#222" text-anchor="middle" stroke="#222" stroke-width="0.1">***</text>
<path d="M666.1 119.7 V98.9 H672 V119.7" fill="none" stroke="#ff4a4a" stroke-width="0.8"/>
<rect x="665.5" y="97.9" width="6.7" height="2" fill="#ff1010"/>
<rect x="672.5" y="76" width="6.2" height="43.7" fill="#fbfbff" stroke="#4a4aff" stroke-width="0.8"/>
<line x1="675.6" y1="69.8" x2="675.6" y2="82.3" stroke="#2020ff" stroke-width="0.7"/>
<line x1="673.4" y1="69.8" x2="677.8" y2="69.8" stroke="#2020ff" stroke-width="0.7"/>
<line x1="673.4" y1="82.3" x2="677.8" y2="82.3" stroke="#2020ff" stroke-width="0.7"/>
<rect x="672.9" y="64.3" width="2.7" height="2.7" fill="#0000ff"/>
<rect x="675.6" y="73.6" width="2.7" height="2.7" fill="#0000ff"/>
<rect x="674.2" y="85.1" width="2.7" height="2.7" fill="#0000ff"/>
<line x1="672.2" y1="119.7" x2="672.2" y2="121.9" stroke="#222" stroke-width="0.8"/>
<text x="0" y="0" font-size="8.2" font-weight="bold" font-style="italic" fill="#111" text-anchor="end" transform="translate(675.6,128.7) rotate(-45)">Amotl2</text>
<path d="M669 61.2 V59.4 H675.6 V61.2" fill="none" stroke="#333" stroke-width="0.6"/>
<text x="672.3" y="58.6" font-size="6.6" fill="#222" text-anchor="middle" stroke="#222" stroke-width="0.1">****</text>
<circle cx="612.4" cy="18.1" r="0.8" fill="#ff0000"/>
<text x="623.8" y="22.4" font-size="7" fill="#333" text-anchor="start" stroke="#333" stroke-width="0.1">Neo (n = 3)</text>
<rect x="613.4" y="30.4" width="1.8" height="1.8" fill="#0000ff"/>
<text x="623.8" y="33.6" font-size="7" fill="#333" text-anchor="start" stroke="#333" stroke-width="0.1">Neo+MP1 (n = 3)</text>
<text x="359.6" y="171.2" font-size="12" fill="#111" text-anchor="start" font-weight="bold">c</text>
<defs><radialGradient id="mg" cx="0.55" cy="0.5" r="0.6"><stop offset="0" stop-color="#fae2de"/><stop offset="0.55" stop-color="#f3c0bd"/><stop offset="1" stop-color="#e8a3a3"/></radialGradient></defs>
<path d="M428.6 185 C428 180 424 172.6 418 172.4 C412 172.3 408 175 404 177.5 C397 181 393.6 187 394.2 193 C394.8 199 398 204 404 206.5 L414.5 208.8 L410.5 205.4 C407.5 204.2 405.5 202.6 406.3 200.6 L413 203.6 L412.4 201.8 C409 199.6 406.8 198 406.9 196 C408 192 412 189 416.8 187.6 L423.2 192.6 L424.2 191.2 L420.6 187.2 C423 186.6 426.5 187 428.6 185 Z" fill="url(#mg)"/>
<circle cx="425.0" cy="180.6" r="1.0" fill="#111"/>
<line x1="429" y1="194.3" x2="439.5" y2="194.3" stroke="#111" stroke-width="0.9"/>
<path d="M442.5 194.3 L438.5 192.4 L438.5 196.2 Z" fill="#111"/>
<path d="M447.7 192.7 C449 201 454 206.3 460 206.3 C466 206.3 470.7 201 470.7 195.3 C470.7 189 467 185 462.6 185 C459 185 456.3 188 456.3 192 C456.3 196 459 198.7 462 198.7 C464 198.7 464.7 196 464.7 194 C464.7 192 463 191.3 461.8 191.3 C460.8 191.3 460.5 193 460.7 194" fill="none" stroke="#dba4a4" stroke-width="1.3" stroke-linecap="round"/>
<text x="470.8" y="189.2" font-size="7.3" fill="#111" text-anchor="start" stroke="#111" stroke-width="0.1">Culture</text>
<line x1="473.3" y1="195" x2="491" y2="195" stroke="#111" stroke-width="0.9"/>
<path d="M494.4 195.0 L490.2 193.1 L490.2 196.9 Z" fill="#111"/>
<rect x="503.4" y="192.9" width="67.9" height="7" fill="#fff" stroke="#111" stroke-width="0.9"/>
<line x1="520.2" y1="192.9" x2="520.2" y2="199.9" stroke="#111" stroke-width="0.9"/>
<line x1="537.3" y1="192.9" x2="537.3" y2="199.9" stroke="#111" stroke-width="0.9"/>
<line x1="554.5" y1="192.9" x2="554.5" y2="199.9" stroke="#111" stroke-width="0.9"/>
<text x="519.6" y="208.4" font-size="7.6" fill="#111" text-anchor="middle" stroke="#111" stroke-width="0.1">1</text>
<text x="536.7" y="208.4" font-size="7.6" fill="#111" text-anchor="middle" stroke="#111" stroke-width="0.1">2</text>
<text x="553.9" y="208.4" font-size="7.6" fill="#111" text-anchor="middle" stroke="#111" stroke-width="0.1">3</text>
<text x="571" y="208.4" font-size="7.6" fill="#111" text-anchor="middle" stroke="#111" stroke-width="0.1">4</text>
<text x="506.6" y="172.4" font-size="7.3" fill="#111" text-anchor="start" stroke="#111" stroke-width="0.1">Neo</text>
<line x1="512.9" y1="175.8" x2="512.9" y2="186" stroke="#111" stroke-width="0.8"/>
<path d="M512.9 189.0 L511.1 185.2 L514.7 185.2 Z" fill="#111"/>
<line x1="519.6" y1="188.6" x2="571.6" y2="188.6" stroke="#111" stroke-width="0.9"/>
<text x="523.3" y="169.9" font-size="7.3" fill="#111" text-anchor="start" stroke="#111" stroke-width="0.1">Compound/EdU</text>
<line x1="541.4" y1="173" x2="541.4" y2="183.4" stroke="#111" stroke-width="0.8"/>
<path d="M541.4 186.4 L539.6 182.6 L543.2 182.6 Z" fill="#111"/>
<text x="14.6" y="208" font-size="6.5" fill="#222" text-anchor="middle" stroke="#222" stroke-width="0.1">Neomycin</text>
<text x="14.6" y="217.3" font-size="6.5" fill="#222" text-anchor="middle" stroke="#222" stroke-width="0.1">MP1</text>
<text x="14.6" y="226.9" font-size="6.5" fill="#222" text-anchor="middle" stroke="#222" stroke-width="0.1">BIO</text>
<text x="14.6" y="237" font-size="6.5" fill="#222" text-anchor="middle" stroke="#222" stroke-width="0.1">DAPT</text>
<line x1="50.3" y1="207" x2="53.3" y2="207" stroke="#333" stroke-width="0.7"/>
<line x1="51.8" y1="205.5" x2="51.8" y2="208.5" stroke="#333" stroke-width="0.7"/>
<line x1="50.8" y1="216.5" x2="52.8" y2="216.5" stroke="#333" stroke-width="0.7"/>
<line x1="50.8" y1="225.7" x2="52.8" y2="225.7" stroke="#333" stroke-width="0.7"/>
<line x1="50.8" y1="236.2" x2="52.8" y2="236.2" stroke="#333" stroke-width="0.7"/>
<line x1="84.9" y1="207" x2="87.9" y2="207" stroke="#333" stroke-width="0.7"/>
<line x1="86.4" y1="205.5" x2="86.4" y2="208.5" stroke="#333" stroke-width="0.7"/>
<line x1="84.9" y1="216.5" x2="87.9" y2="216.5" stroke="#333" stroke-width="0.7"/>
<line x1="86.4" y1="215" x2="86.4" y2="218" stroke="#333" stroke-width="0.7"/>
<line x1="85.4" y1="225.7" x2="87.4" y2="225.7" stroke="#333" stroke-width="0.7"/>
<line x1="85.4" y1="236.2" x2="87.4" y2="236.2" stroke="#333" stroke-width="0.7"/>
<line x1="121.1" y1="207" x2="124.1" y2="207" stroke="#333" stroke-width="0.7"/>
<line x1="122.6" y1="205.5" x2="122.6" y2="208.5" stroke="#333" stroke-width="0.7"/>
<line x1="121.6" y1="216.5" x2="123.6" y2="216.5" stroke="#333" stroke-width="0.7"/>
<line x1="121.1" y1="225.7" x2="124.1" y2="225.7" stroke="#333" stroke-width="0.7"/>
<line x1="122.6" y1="224.2" x2="122.6" y2="227.2" stroke="#333" stroke-width="0.7"/>
<line x1="121.6" y1="236.2" x2="123.6" y2="236.2" stroke="#333" stroke-width="0.7"/>
<line x1="157" y1="207" x2="160" y2="207" stroke="#333" stroke-width="0.7"/>
<line x1="158.5" y1="205.5" x2="158.5" y2="208.5" stroke="#333" stroke-width="0.7"/>
<line x1="157" y1="216.5" x2="160" y2="216.5" stroke="#333" stroke-width="0.7"/>
<line x1="158.5" y1="215" x2="158.5" y2="218" stroke="#333" stroke-width="0.7"/>
<line x1="157" y1="225.7" x2="160" y2="225.7" stroke="#333" stroke-width="0.7"/>
<line x1="158.5" y1="224.2" x2="158.5" y2="227.2" stroke="#333" stroke-width="0.7"/>
<line x1="157.5" y1="236.2" x2="159.5" y2="236.2" stroke="#333" stroke-width="0.7"/>
<line x1="189.4" y1="207" x2="192.4" y2="207" stroke="#333" stroke-width="0.7"/>
<line x1="190.9" y1="205.5" x2="190.9" y2="208.5" stroke="#333" stroke-width="0.7"/>
<line x1="189.9" y1="216.5" x2="191.9" y2="216.5" stroke="#333" stroke-width="0.7"/>
<line x1="189.9" y1="225.7" x2="191.9" y2="225.7" stroke="#333" stroke-width="0.7"/>
<line x1="189.4" y1="236.2" x2="192.4" y2="236.2" stroke="#333" stroke-width="0.7"/>
<line x1="190.9" y1="234.7" x2="190.9" y2="237.7" stroke="#333" stroke-width="0.7"/>
<line x1="228.1" y1="207" x2="231.1" y2="207" stroke="#333" stroke-width="0.7"/>
<line x1="229.6" y1="205.5" x2="229.6" y2="208.5" stroke="#333" stroke-width="0.7"/>
<line x1="228.1" y1="216.5" x2="231.1" y2="216.5" stroke="#333" stroke-width="0.7"/>
<line x1="229.6" y1="215" x2="229.6" y2="218" stroke="#333" stroke-width="0.7"/>
<line x1="228.6" y1="225.7" x2="230.6" y2="225.7" stroke="#333" stroke-width="0.7"/>
<line x1="228.1" y1="236.2" x2="231.1" y2="236.2" stroke="#333" stroke-width="0.7"/>
<line x1="229.6" y1="234.7" x2="229.6" y2="237.7" stroke="#333" stroke-width="0.7"/>
<circle cx="42.0" cy="222.3" r="2.0" fill="#ff0000"/>
<path d="M77 220.2 L79 223.6 L75 223.6 Z" fill="#0000ff" stroke="#0000ff" stroke-width="0.7" stroke-linejoin="round"/>
<path d="M110.9 219.9 L114.5 219.9 L112.7 223.1 Z" fill="#ff6a13" stroke="#ff6a13" stroke-width="0.7" stroke-linejoin="round"/>
<rect x="148.5" y="220.5" width="3.8" height="3.8" fill="#00c800"/>
<circle cx="180.4" cy="222.4" r="1.5" fill="none" stroke="#cc00cc" stroke-width="1.2"/>
<circle cx="220.0" cy="223.0" r="1.9" fill="#000080"/>
<defs><clipPath id="cp0_0"><rect x="24" y="244" width="35.1" height="49.8"/></clipPath><clipPath id="cp0_1"><rect x="60.7" y="244" width="35.1" height="49.8"/></clipPath><clipPath id="cp0_2"><rect x="97.4" y="244" width="35.1" height="49.8"/></clipPath><clipPath id="cp0_3"><rect x="134" y="244" width="35.1" height="49.8"/></clipPath><clipPath id="cp0_4"><rect x="170.7" y="244" width="35.1" height="49.8"/></clipPath><clipPath id="cp0_5"><rect x="207.4" y="244" width="35.1" height="49.8"/></clipPath><clipPath id="cp1_0"><rect x="24" y="296" width="35.1" height="49.8"/></clipPath><clipPath id="cp1_1"><rect x="60.7" y="296" width="35.1" height="49.8"/></clipPath><clipPath id="cp1_2"><rect x="97.4" y="296" width="35.1" height="49.8"/></clipPath><clipPath id="cp1_3"><rect x="134" y="296" width="35.1" height="49.8"/></clipPath><clipPath id="cp1_4"><rect x="170.7" y="296" width="35.1" height="49.8"/></clipPath><clipPath id="cp1_5"><rect x="207.4" y="296" width="35.1" height="49.8"/></clipPath><clipPath id="cp2_0"><rect x="24" y="347.4" width="35.1" height="49.3"/></clipPath><clipPath id="cp2_1"><rect x="60.7" y="347.4" width="35.1" height="49.3"/></clipPath><clipPath id="cp2_2"><rect x="97.4" y="347.4" width="35.1" height="49.3"/></clipPath><clipPath id="cp2_3"><rect x="134" y="347.4" width="35.1" height="49.3"/></clipPath><clipPath id="cp2_4"><rect x="170.7" y="347.4" width="35.1" height="49.3"/></clipPath><clipPath id="cp2_5"><rect x="207.4" y="347.4" width="35.1" height="49.3"/></clipPath><clipPath id="cp3_0"><rect x="24" y="398.9" width="35.1" height="49.8"/></clipPath><clipPath id="cp3_1"><rect x="60.7" y="398.9" width="35.1" height="49.8"/></clipPath><clipPath id="cp3_2"><rect x="97.4" y="398.9" width="35.1" height="49.8"/></clipPath><clipPath id="cp3_3"><rect x="134" y="398.9" width="35.1" height="49.8"/></clipPath><clipPath id="cp3_4"><rect x="170.7" y="398.9" width="35.1" height="49.8"/></clipPath><clipPath id="cp3_5"><rect x="207.4" y="398.9" width="35.1" height="49.8"/></clipPath></defs>
<g clip-path="url(#cp0_0)"><rect x="24" y="244" width="35.1" height="49.8" fill="#000"/><linearGradient id="mg1" x1="0" y1="0" x2="0" y2="1"><stop offset="0" stop-color="#000" stop-opacity="0"/><stop offset="0.2" stop-color="#0a4a0a" stop-opacity="0"/><stop offset="0.2" stop-color="#0a4a0a" stop-opacity="0.6"/><stop offset="0.5" stop-color="#0a4a0a" stop-opacity="0.5"/><stop offset="0.5" stop-color="#0a4a0a" stop-opacity="0.1"/><stop offset="0.6" stop-color="#0a4a0a" stop-opacity="0.1"/><stop offset="0.6" stop-color="#0a4a0a" stop-opacity="0.5"/><stop offset="0.7" stop-color="#0a4a0a" stop-opacity="0.5"/><stop offset="0.8" stop-color="#0a4a0a" stop-opacity="0"/><stop offset="1" stop-color="#000" stop-opacity="0"/></linearGradient><polygon points="24,244 59.1,244 59.1,294 24,294" fill="url(#mg1)"/><circle cx="32.4" cy="261.9" r="1.1" fill="#40d040" fill-opacity="0.4" stroke="#40d040" stroke-width="0.55" stroke-opacity="0.8"/><circle cx="44.4" cy="262.8" r="1.4" fill="#40d040" fill-opacity="0.4" stroke="#40d040" stroke-width="0.55" stroke-opacity="0.8"/><circle cx="32.2" cy="268.4" r="1.2" fill="#229a22" fill-opacity="0.4" stroke="#229a22" stroke-width="0.55" stroke-opacity="0.9"/><circle cx="37.9" cy="266.5" r="1.1" fill="#40d040" fill-opacity="0.3" stroke="#40d040" stroke-width="0.55" stroke-opacity="0.7"/><circle cx="37.7" cy="254.2" r="1.3" fill="#40d040" fill-opacity="0.3" stroke="#40d040" stroke-width="0.55" stroke-opacity="0.7"/><circle cx="25.5" cy="265.3" r="1.3" fill="#40d040" fill-opacity="0.3" stroke="#40d040" stroke-width="0.55" stroke-opacity="0.7"/><circle cx="49.2" cy="266.7" r="1.3" fill="#229a22" fill-opacity="0.4" stroke="#229a22" stroke-width="0.55" stroke-opacity="1"/><circle cx="49.6" cy="262.4" r="1.4" fill="#229a22" fill-opacity="0.3" stroke="#229a22" stroke-width="0.55" stroke-opacity="0.7"/><circle cx="27.4" cy="256" r="1.1" fill="#229a22" fill-opacity="0.4" stroke="#229a22" stroke-width="0.55" stroke-opacity="1"/><circle cx="51.3" cy="266.4" r="1.2" fill="#40d040" fill-opacity="0.4" stroke="#40d040" stroke-width="0.55" stroke-opacity="0.9"/><circle cx="36.3" cy="262.5" r="1.2" fill="#40d040" fill-opacity="0.4" stroke="#40d040" stroke-width="0.55" stroke-opacity="1"/><circle cx="56.1" cy="254.4" r="1.1" fill="#40d040" fill-opacity="0.4" stroke="#40d040" stroke-width="0.55" stroke-opacity="0.8"/><circle cx="29.7" cy="266.5" r="1.4" fill="#40d040" fill-opacity="0.4" stroke="#40d040" stroke-width="0.55" stroke-opacity="1"/><circle cx="27.7" cy="263.5" r="1.3" fill="#229a22" fill-opacity="0.4" stroke="#229a22" stroke-width="0.55" stroke-opacity="1"/><circle cx="34" cy="254.9" r="1.3" fill="#2cb82c" fill-opacity="0.4" stroke="#2cb82c" stroke-width="0.55" stroke-opacity="1"/><circle cx="36.1" cy="255" r="1.4" fill="#229a22" fill-opacity="0.3" stroke="#229a22" stroke-width="0.55" stroke-opacity="0.6"/><circle cx="51" cy="266.7" r="1" fill="#2cb82c" fill-opacity="0.4" stroke="#2cb82c" stroke-width="0.55" stroke-opacity="0.8"/><circle cx="37.3" cy="262.5" r="1.2" fill="#229a22" fill-opacity="0.4" stroke="#229a22" stroke-width="0.55" stroke-opacity="1"/><circle cx="41.7" cy="268.5" r="1.1" fill="#40d040" fill-opacity="0.3" stroke="#40d040" stroke-width="0.55" stroke-opacity="0.6"/><circle cx="42.8" cy="267.8" r="1.4" fill="#229a22" fill-opacity="0.3" stroke="#229a22" stroke-width="0.55" stroke-opacity="0.7"/><circle cx="29.5" cy="254.6" r="1.3" fill="#2cb82c" fill-opacity="0.3" stroke="#2cb82c" stroke-width="0.55" stroke-opacity="0.7"/><circle cx="55.5" cy="259.5" r="1.2" fill="#40d040" fill-opacity="0.4" stroke="#40d040" stroke-width="0.55" stroke-opacity="0.8"/><circle cx="54.4" cy="263.9" r="1" fill="#40d040" fill-opacity="0.4" stroke="#40d040" stroke-width="0.55" stroke-opacity="1"/><circle cx="33.5" cy="263.2" r="1.3" fill="#229a22" fill-opacity="0.4" stroke="#229a22" stroke-width="0.55" stroke-opacity="1"/><circle cx="58.3" cy="261.6" r="1.2" fill="#229a22" fill-opacity="0.3" stroke="#229a22" stroke-width="0.55" stroke-opacity="0.6"/><circle cx="58.7" cy="258.6" r="1.2" fill="#2cb82c" fill-opacity="0.4" stroke="#2cb82c" stroke-width="0.55" stroke-opacity="0.8"/><circle cx="26.1" cy="263.1" r="1.2" fill="#229a22" fill-opacity="0.4" stroke="#229a22" stroke-width="0.55" stroke-opacity="0.9"/><circle cx="45.4" cy="258" r="1.2" fill="#40d040" fill-opacity="0.4" stroke="#40d040" stroke-width="0.55" stroke-opacity="0.8"/><circle cx="24.7" cy="259.4" r="1.3" fill="#40d040" fill-opacity="0.3" stroke="#40d040" stroke-width="0.55" stroke-opacity="0.7"/><circle cx="35.2" cy="259.3" r="1.1" fill="#40d040" fill-opacity="0.3" stroke="#40d040" stroke-width="0.55" stroke-opacity="0.7"/><circle cx="33.3" cy="265.4" r="1" fill="#40d040" fill-opacity="0.4" stroke="#40d040" stroke-width="0.55" stroke-opacity="0.9"/><circle cx="48" cy="255.9" r="1.2" fill="#229a22" fill-opacity="0.4" stroke="#229a22" stroke-width="0.55" stroke-opacity="0.9"/><circle cx="32.4" cy="256.7" r="1.2" fill="#2cb82c" fill-opacity="0.4" stroke="#2cb82c" stroke-width="0.55" stroke-opacity="0.9"/><circle cx="45.1" cy="267.8" r="1.3" fill="#2cb82c" fill-opacity="0.3" stroke="#2cb82c" stroke-width="0.55" stroke-opacity="0.7"/><circle cx="26.8" cy="264.8" r="1.1" fill="#229a22" fill-opacity="0.4" stroke="#229a22" stroke-width="0.55" stroke-opacity="0.8"/><circle cx="31.9" cy="255.8" r="1.2" fill="#40d040" fill-opacity="0.3" stroke="#40d040" stroke-width="0.55" stroke-opacity="0.7"/><circle cx="30.4" cy="258" r="1.3" fill="#40d040" fill-opacity="0.4" stroke="#40d040" stroke-width="0.55" stroke-opacity="0.9"/><circle cx="36.1" cy="255.9" r="1.1" fill="#229a22" fill-opacity="0.4" stroke="#229a22" stroke-width="0.55" stroke-opacity="0.9"/><circle cx="40.3" cy="263.2" r="1.1" fill="#2cb82c" fill-opacity="0.4" stroke="#2cb82c" stroke-width="0.55" stroke-opacity="0.8"/><circle cx="56.3" cy="256.3" r="1" fill="#40d040" fill-opacity="0.4" stroke="#40d040" stroke-width="0.55" stroke-opacity="1"/><circle cx="58.6" cy="260.3" r="1.4" fill="#2cb82c" fill-opacity="0.4" stroke="#2cb82c" stroke-width="0.55" stroke-opacity="1"/><circle cx="25.1" cy="260.6" r="1.3" fill="#229a22" fill-opacity="0.4" stroke="#229a22" stroke-width="0.55" stroke-opacity="0.9"/><circle cx="43.1" cy="266.9" r="1.3" fill="#229a22" fill-opacity="0.4" stroke="#229a22" stroke-width="0.55" stroke-opacity="0.9"/><circle cx="28.2" cy="257.5" r="1" fill="#40d040" fill-opacity="0.4" stroke="#40d040" stroke-width="0.55" stroke-opacity="0.9"/><circle cx="56.4" cy="267" r="1.4" fill="#2cb82c" fill-opacity="0.4" stroke="#2cb82c" stroke-width="0.55" stroke-opacity="0.8"/><circle cx="40.9" cy="255.8" r="1.2" fill="#2cb82c" fill-opacity="0.3" stroke="#2cb82c" stroke-width="0.55" stroke-opacity="0.7"/><circle cx="42.4" cy="260" r="1.4" fill="#229a22" fill-opacity="0.4" stroke="#229a22" stroke-width="0.55" stroke-opacity="0.8"/><circle cx="28.4" cy="268.1" r="1.2" fill="#2cb82c" fill-opacity="0.4" stroke="#2cb82c" stroke-width="0.55" stroke-opacity="0.9"/><circle cx="36.3" cy="256.9" r="1.2" fill="#2cb82c" fill-opacity="0.4" stroke="#2cb82c" stroke-width="0.55" stroke-opacity="0.9"/><circle cx="32.4" cy="258" r="1.4" fill="#2cb82c" fill-opacity="0.3" stroke="#2cb82c" stroke-width="0.55" stroke-opacity="0.7"/><circle cx="41.1" cy="262.3" r="1.2" fill="#2cb82c" fill-opacity="0.4" stroke="#2cb82c" stroke-width="0.55" stroke-opacity="0.9"/><circle cx="33.4" cy="261.6" r="1.2" fill="#2cb82c" fill-opacity="0.4" stroke="#2cb82c" stroke-width="0.55" stroke-opacity="0.8"/><circle cx="54.1" cy="265.2" r="1" fill="#229a22" fill-opacity="0.3" stroke="#229a22" stroke-width="0.55" stroke-opacity="0.6"/><circle cx="58.2" cy="266.4" r="1" fill="#229a22" fill-opacity="0.4" stroke="#229a22" stroke-width="0.55" stroke-opacity="0.8"/><circle cx="29.5" cy="255" r="1.2" fill="#229a22" fill-opacity="0.3" stroke="#229a22" stroke-width="0.55" stroke-opacity="0.8"/><circle cx="36.7" cy="256.8" r="1.1" fill="#40d040" fill-opacity="0.3" stroke="#40d040" stroke-width="0.55" stroke-opacity="0.6"/><circle cx="24.1" cy="264.5" r="1.3" fill="#2cb82c" fill-opacity="0.4" stroke="#2cb82c" stroke-width="0.55" stroke-opacity="0.8"/><circle cx="37.1" cy="262.8" r="1.3" fill="#2cb82c" fill-opacity="0.3" stroke="#2cb82c" stroke-width="0.55" stroke-opacity="0.8"/><circle cx="45.9" cy="260.3" r="1.1" fill="#40d040" fill-opacity="0.4" stroke="#40d040" stroke-width="0.55" stroke-opacity="0.8"/><circle cx="35.1" cy="267.8" r="1.2" fill="#2cb82c" fill-opacity="0.3" stroke="#2cb82c" stroke-width="0.55" stroke-opacity="0.6"/><circle cx="42.8" cy="278.4" r="0.9" fill="#229a22" fill-opacity="0.3" stroke="#229a22" stroke-width="0.55" stroke-opacity="0.7"/><circle cx="28.6" cy="273.7" r="1" fill="#40d040" fill-opacity="0.4" stroke="#40d040" stroke-width="0.55" stroke-opacity="1"/><circle cx="51.8" cy="275.3" r="1.1" fill="#40d040" fill-opacity="0.3" stroke="#40d040" stroke-width="0.55" stroke-opacity="0.6"/><circle cx="47.2" cy="279.7" r="1.2" fill="#40d040" fill-opacity="0.4" stroke="#40d040" stroke-width="0.55" stroke-opacity="0.9"/><circle cx="35.2" cy="277.2" r="1.2" fill="#229a22" fill-opacity="0.4" stroke="#229a22" stroke-width="0.55" stroke-opacity="0.9"/><circle cx="29" cy="278.9" r="0.9" fill="#2cb82c" fill-opacity="0.3" stroke="#2cb82c" stroke-width="0.55" stroke-opacity="0.6"/><circle cx="47.1" cy="276.1" r="1.2" fill="#2cb82c" fill-opacity="0.3" stroke="#2cb82c" stroke-width="0.55" stroke-opacity="0.7"/><circle cx="24.9" cy="274.3" r="1.1" fill="#229a22" fill-opacity="0.4" stroke="#229a22" stroke-width="0.55" stroke-opacity="0.9"/><circle cx="44.3" cy="279.1" r="0.9" fill="#40d040" fill-opacity="0.4" stroke="#40d040" stroke-width="0.55" stroke-opacity="0.9"/><circle cx="42.6" cy="275.2" r="1.1" fill="#40d040" fill-opacity="0.3" stroke="#40d040" stroke-width="0.55" stroke-opacity="0.6"/><circle cx="26.1" cy="275.8" r="1.1" fill="#2cb82c" fill-opacity="0.4" stroke="#2cb82c" stroke-width="0.55" stroke-opacity="0.9"/><circle cx="59" cy="278" r="1.1" fill="#229a22" fill-opacity="0.4" stroke="#229a22" stroke-width="0.55" stroke-opacity="0.9"/><circle cx="32.9" cy="277.7" r="1.3" fill="#2cb82c" fill-opacity="0.4" stroke="#2cb82c" stroke-width="0.55" stroke-opacity="0.8"/><circle cx="37.2" cy="275.1" r="1.3" fill="#2cb82c" fill-opacity="0.4" stroke="#2cb82c" stroke-width="0.55" stroke-opacity="0.9"/><circle cx="38.6" cy="277.5" r="1.1" fill="#40d040" fill-opacity="0.4" stroke="#40d040" stroke-width="0.55" stroke-opacity="1"/><circle cx="41" cy="278" r="1.3" fill="#2cb82c" fill-opacity="0.3" stroke="#2cb82c" stroke-width="0.55" stroke-opacity="0.6"/><circle cx="41.5" cy="276.9" r="1.2" fill="#40d040" fill-opacity="0.4" stroke="#40d040" stroke-width="0.55" stroke-opacity="1"/><circle cx="49.2" cy="274.8" r="1" fill="#40d040" fill-opacity="0.3" stroke="#40d040" stroke-width="0.55" stroke-opacity="0.6"/><circle cx="42.1" cy="280" r="1.2" fill="#229a22" fill-opacity="0.4" stroke="#229a22" stroke-width="0.55" stroke-opacity="0.8"/><circle cx="47.6" cy="279.5" r="1.1" fill="#229a22" fill-opacity="0.4" stroke="#229a22" stroke-width="0.55" stroke-opacity="0.8"/><circle cx="55.2" cy="275.7" r="1" fill="#2cb82c" fill-opacity="0.4" stroke="#2cb82c" stroke-width="0.55" stroke-opacity="0.9"/><circle cx="30" cy="276" r="1" fill="#2cb82c" fill-opacity="0.4" stroke="#2cb82c" stroke-width="0.55" stroke-opacity="0.9"/><circle cx="38.7" cy="278.4" r="1.2" fill="#40d040" fill-opacity="0.3" stroke="#40d040" stroke-width="0.55" stroke-opacity="0.6"/><circle cx="53.3" cy="279.3" r="1.1" fill="#40d040" fill-opacity="0.3" stroke="#40d040" stroke-width="0.55" stroke-opacity="0.8"/><circle cx="26.5" cy="280.1" r="1.2" fill="#2cb82c" fill-opacity="0.4" stroke="#2cb82c" stroke-width="0.55" stroke-opacity="0.9"/><circle cx="40.4" cy="275.1" r="1" fill="#40d040" fill-opacity="0.4" stroke="#40d040" stroke-width="0.55" stroke-opacity="0.9"/><circle cx="26.4" cy="275" r="1" fill="#229a22" fill-opacity="0.4" stroke="#229a22" stroke-width="0.55" stroke-opacity="1"/><circle cx="28.8" cy="277.9" r="1.2" fill="#229a22" fill-opacity="0.3" stroke="#229a22" stroke-width="0.55" stroke-opacity="0.6"/><rect x="45.8" y="291.4" width="12" height="1.2" fill="#f0f0f0"/></g>
<text x="25.3" y="254" font-size="9.2" fill="#f0f0f0" text-anchor="start" stroke="#f0f0f0" stroke-width="0.1">d</text>
<text x="24.7" y="292.1" font-size="7.2" fill="#18a818" text-anchor="start" font-weight="bold">Myo7a</text>
<g clip-path="url(#cp0_1)"><rect x="60.7" y="244" width="35.1" height="49.8" fill="#000"/><linearGradient id="mg2" x1="0" y1="0" x2="0" y2="1"><stop offset="0" stop-color="#000" stop-opacity="0"/><stop offset="0.1" stop-color="#0a4a0a" stop-opacity="0"/><stop offset="0.2" stop-color="#0a4a0a" stop-opacity="0.6"/><stop offset="0.6" stop-color="#0a4a0a" stop-opacity="0.5"/><stop offset="0.8" stop-color="#0a4a0a" stop-opacity="0.3"/><stop offset="0.8" stop-color="#000" stop-opacity="0"/><stop offset="1" stop-color="#000" stop-opacity="0"/></linearGradient><polygon points="60.7,244 95.8,244 95.8,294 60.7,294" fill="url(#mg2)"/><circle cx="88.7" cy="254.8" r="1.1" fill="#2cb82c" fill-opacity="0.4" stroke="#2cb82c" stroke-width="0.55" stroke-opacity="1"/><circle cx="73.2" cy="263.8" r="1.3" fill="#229a22" fill-opacity="0.3" stroke="#229a22" stroke-width="0.55" stroke-opacity="0.6"/><circle cx="72.3" cy="259.9" r="1" fill="#40d040" fill-opacity="0.4" stroke="#40d040" stroke-width="0.55" stroke-opacity="0.9"/><circle cx="94.2" cy="260.1" r="1.2" fill="#229a22" fill-opacity="0.3" stroke="#229a22" stroke-width="0.55" stroke-opacity="0.6"/><circle cx="63.4" cy="260.9" r="1.2" fill="#229a22" fill-opacity="0.4" stroke="#229a22" stroke-width="0.55" stroke-opacity="0.8"/><circle cx="64.1" cy="270.9" r="1.1" fill="#229a22" fill-opacity="0.4" stroke="#229a22" stroke-width="0.55" stroke-opacity="0.9"/><circle cx="71.1" cy="265.7" r="1.3" fill="#229a22" fill-opacity="0.4" stroke="#229a22" stroke-width="0.55" stroke-opacity="0.9"/><circle cx="64.4" cy="270.9" r="1.1" fill="#40d040" fill-opacity="0.4" stroke="#40d040" stroke-width="0.55" stroke-opacity="0.8"/><circle cx="64.7" cy="262.1" r="1.1" fill="#40d040" fill-opacity="0.4" stroke="#40d040" stroke-width="0.55" stroke-opacity="0.9"/><circle cx="86.2" cy="267" r="1.3" fill="#2cb82c" fill-opacity="0.4" stroke="#2cb82c" stroke-width="0.55" stroke-opacity="0.9"/><circle cx="67" cy="269.9" r="1.3" fill="#40d040" fill-opacity="0.3" stroke="#40d040" stroke-width="0.55" stroke-opacity="0.6"/><circle cx="65.6" cy="259" r="1.3" fill="#40d040" fill-opacity="0.4" stroke="#40d040" stroke-width="0.55" stroke-opacity="0.8"/><circle cx="77.6" cy="267.8" r="1.3" fill="#2cb82c" fill-opacity="0.3" stroke="#2cb82c" stroke-width="0.55" stroke-opacity="0.6"/><circle cx="87.2" cy="263.1" r="1.3" fill="#229a22" fill-opacity="0.3" stroke="#229a22" stroke-width="0.55" stroke-opacity="0.7"/><circle cx="65.5" cy="261.8" r="1.1" fill="#40d040" fill-opacity="0.4" stroke="#40d040" stroke-width="0.55" stroke-opacity="0.9"/><circle cx="73.1" cy="259" r="1.2" fill="#2cb82c" fill-opacity="0.4" stroke="#2cb82c" stroke-width="0.55" stroke-opacity="0.8"/><circle cx="73.1" cy="269" r="1" fill="#2cb82c" fill-opacity="0.3" stroke="#2cb82c" stroke-width="0.55" stroke-opacity="0.7"/><circle cx="84.6" cy="263.5" r="1.4" fill="#40d040" fill-opacity="0.3" stroke="#40d040" stroke-width="0.55" stroke-opacity="0.6"/><circle cx="67.3" cy="260.6" r="1.3" fill="#40d040" fill-opacity="0.4" stroke="#40d040" stroke-width="0.55" stroke-opacity="0.9"/><circle cx="65.2" cy="264.4" r="1.3" fill="#40d040" fill-opacity="0.4" stroke="#40d040" stroke-width="0.55" stroke-opacity="0.9"/><circle cx="79.2" cy="263.6" r="1.1" fill="#229a22" fill-opacity="0.3" stroke="#229a22" stroke-width="0.55" stroke-opacity="0.7"/><circle cx="61.7" cy="268.2" r="1.4" fill="#229a22" fill-opacity="0.4" stroke="#229a22" stroke-width="0.55" stroke-opacity="1"/><circle cx="71.8" cy="270.2" r="1.1" fill="#40d040" fill-opacity="0.4" stroke="#40d040" stroke-width="0.55" stroke-opacity="0.8"/><circle cx="84.8" cy="258.3" r="1.3" fill="#40d040" fill-opacity="0.4" stroke="#40d040" stroke-width="0.55" stroke-opacity="0.8"/><circle cx="67.4" cy="264.9" r="1" fill="#2cb82c" fill-opacity="0.4" stroke="#2cb82c" stroke-width="0.55" stroke-opacity="0.9"/><circle cx="77.9" cy="262.7" r="1.2" fill="#40d040" fill-opacity="0.3" stroke="#40d040" stroke-width="0.55" stroke-opacity="0.7"/><circle cx="68.1" cy="268.3" r="1.4" fill="#2cb82c" fill-opacity="0.4" stroke="#2cb82c" stroke-width="0.55" stroke-opacity="1"/><circle cx="92" cy="255.1" r="1.3" fill="#2cb82c" fill-opacity="0.4" stroke="#2cb82c" stroke-width="0.55" stroke-opacity="0.8"/><circle cx="61.6" cy="264.6" r="1.2" fill="#2cb82c" fill-opacity="0.4" stroke="#2cb82c" stroke-width="0.55" stroke-opacity="0.8"/><circle cx="93.3" cy="258.8" r="1.3" fill="#2cb82c" fill-opacity="0.4" stroke="#2cb82c" stroke-width="0.55" stroke-opacity="0.9"/><circle cx="63.5" cy="268.9" r="1.3" fill="#2cb82c" fill-opacity="0.3" stroke="#2cb82c" stroke-width="0.55" stroke-opacity="0.6"/><circle cx="86.6" cy="259.2" r="1.3" fill="#2cb82c" fill-opacity="0.4" stroke="#2cb82c" stroke-width="0.55" stroke-opacity="1"/><circle cx="76" cy="267.3" r="1.2" fill="#2cb82c" fill-opacity="0.3" stroke="#2cb82c" stroke-width="0.55" stroke-opacity="0.6"/><circle cx="75" cy="269" r="1.3" fill="#229a22" fill-opacity="0.3" stroke="#229a22" stroke-width="0.55" stroke-opacity="0.8"/><circle cx="85.2" cy="263" r="1.2" fill="#229a22" fill-opacity="0.4" stroke="#229a22" stroke-width="0.55" stroke-opacity="0.9"/><circle cx="61.5" cy="261.4" r="1.3" fill="#229a22" fill-opacity="0.3" stroke="#229a22" stroke-width="0.55" stroke-opacity="0.8"/><circle cx="92.2" cy="266.5" r="1.1" fill="#40d040" fill-opacity="0.3" stroke="#40d040" stroke-width="0.55" stroke-opacity="0.7"/><circle cx="73.4" cy="260.3" r="1.4" fill="#229a22" fill-opacity="0.4" stroke="#229a22" stroke-width="0.55" stroke-opacity="0.9"/><circle cx="88.2" cy="255.3" r="1.2" fill="#2cb82c" fill-opacity="0.3" stroke="#2cb82c" stroke-width="0.55" stroke-opacity="0.7"/><circle cx="61.5" cy="263.9" r="1.2" fill="#2cb82c" fill-opacity="0.4" stroke="#2cb82c" stroke-width="0.55" stroke-opacity="0.9"/><circle cx="61.5" cy="261.2" r="1.2" fill="#2cb82c" fill-opacity="0.4" stroke="#2cb82c" stroke-width="0.55" stroke-opacity="0.9"/><circle cx="78" cy="270.2" r="1.4" fill="#229a22" fill-opacity="0.3" stroke="#229a22" stroke-width="0.55" stroke-opacity="0.7"/><circle cx="77.3" cy="255.7" r="1.2" fill="#2cb82c" fill-opacity="0.3" stroke="#2cb82c" stroke-width="0.55" stroke-opacity="0.7"/><circle cx="81.5" cy="268.2" r="1.1" fill="#229a22" fill-opacity="0.4" stroke="#229a22" stroke-width="0.55" stroke-opacity="1"/><circle cx="77.8" cy="263.4" r="1" fill="#229a22" fill-opacity="0.3" stroke="#229a22" stroke-width="0.55" stroke-opacity="0.7"/><circle cx="78.3" cy="261.9" r="1.1" fill="#229a22" fill-opacity="0.4" stroke="#229a22" stroke-width="0.55" stroke-opacity="0.8"/><circle cx="67.7" cy="271.5" r="1.2" fill="#229a22" fill-opacity="0.4" stroke="#229a22" stroke-width="0.55" stroke-opacity="0.9"/><circle cx="93.7" cy="253.2" r="1.1" fill="#229a22" fill-opacity="0.4" stroke="#229a22" stroke-width="0.55" stroke-opacity="0.8"/><circle cx="63.8" cy="258.2" r="1.3" fill="#229a22" fill-opacity="0.3" stroke="#229a22" stroke-width="0.55" stroke-opacity="0.6"/><circle cx="79.9" cy="263" r="1.3" fill="#40d040" fill-opacity="0.3" stroke="#40d040" stroke-width="0.55" stroke-opacity="0.8"/><circle cx="91" cy="260" r="1.4" fill="#2cb82c" fill-opacity="0.3" stroke="#2cb82c" stroke-width="0.55" stroke-opacity="0.7"/><circle cx="73.4" cy="260.6" r="1.1" fill="#229a22" fill-opacity="0.4" stroke="#229a22" stroke-width="0.55" stroke-opacity="0.9"/><circle cx="72.8" cy="268.5" r="1.2" fill="#40d040" fill-opacity="0.4" stroke="#40d040" stroke-width="0.55" stroke-opacity="0.9"/><circle cx="87.1" cy="268.5" r="1" fill="#40d040" fill-opacity="0.4" stroke="#40d040" stroke-width="0.55" stroke-opacity="0.9"/><circle cx="90.3" cy="265" r="1.4" fill="#229a22" fill-opacity="0.4" stroke="#229a22" stroke-width="0.55" stroke-opacity="0.9"/><circle cx="77.1" cy="269.4" r="1.3" fill="#2cb82c" fill-opacity="0.4" stroke="#2cb82c" stroke-width="0.55" stroke-opacity="1"/><circle cx="63.2" cy="260.3" r="1.4" fill="#40d040" fill-opacity="0.3" stroke="#40d040" stroke-width="0.55" stroke-opacity="0.6"/><circle cx="71.6" cy="261.3" r="1.3" fill="#40d040" fill-opacity="0.3" stroke="#40d040" stroke-width="0.55" stroke-opacity="0.7"/><circle cx="83.3" cy="263.9" r="1" fill="#2cb82c" fill-opacity="0.3" stroke="#2cb82c" stroke-width="0.55" stroke-opacity="0.7"/><circle cx="68.4" cy="263.5" r="1.2" fill="#40d040" fill-opacity="0.4" stroke="#40d040" stroke-width="0.55" stroke-opacity="0.9"/><circle cx="71.9" cy="281.5" r="1.3" fill="#2cb82c" fill-opacity="0.3" stroke="#2cb82c" stroke-width="0.55" stroke-opacity="0.7"/><circle cx="62.1" cy="280.5" r="1.2" fill="#2cb82c" fill-opacity="0.4" stroke="#2cb82c" stroke-width="0.55" stroke-opacity="0.8"/><circle cx="67.7" cy="281.6" r="1" fill="#2cb82c" fill-opacity="0.3" stroke="#2cb82c" stroke-width="0.55" stroke-opacity="0.7"/><circle cx="89.7" cy="278.8" r="1" fill="#229a22" fill-opacity="0.3" stroke="#229a22" stroke-width="0.55" stroke-opacity="0.7"/><circle cx="74.8" cy="278.6" r="1.3" fill="#229a22" fill-opacity="0.3" stroke="#229a22" stroke-width="0.55" stroke-opacity="0.6"/><circle cx="89.3" cy="272.7" r="1.2" fill="#2cb82c" fill-opacity="0.3" stroke="#2cb82c" stroke-width="0.55" stroke-opacity="0.7"/><circle cx="72.7" cy="272.5" r="1.3" fill="#229a22" fill-opacity="0.4" stroke="#229a22" stroke-width="0.55" stroke-opacity="0.9"/><circle cx="75.5" cy="278.4" r="1.2" fill="#229a22" fill-opacity="0.2" stroke="#229a22" stroke-width="0.55" stroke-opacity="0.5"/><circle cx="90.1" cy="270.8" r="1.1" fill="#229a22" fill-opacity="0.3" stroke="#229a22" stroke-width="0.55" stroke-opacity="0.6"/><circle cx="68.3" cy="272.1" r="1.4" fill="#229a22" fill-opacity="0.3" stroke="#229a22" stroke-width="0.55" stroke-opacity="0.8"/><circle cx="93.4" cy="277" r="1.2" fill="#229a22" fill-opacity="0.4" stroke="#229a22" stroke-width="0.55" stroke-opacity="0.9"/><circle cx="77.7" cy="280.1" r="1.2" fill="#2cb82c" fill-opacity="0.4" stroke="#2cb82c" stroke-width="0.55" stroke-opacity="0.9"/><circle cx="70.9" cy="282.1" r="1.1" fill="#2cb82c" fill-opacity="0.2" stroke="#2cb82c" stroke-width="0.55" stroke-opacity="0.5"/><circle cx="71" cy="276.8" r="1.3" fill="#2cb82c" fill-opacity="0.2" stroke="#2cb82c" stroke-width="0.55" stroke-opacity="0.5"/><circle cx="70.4" cy="275.6" r="1.1" fill="#229a22" fill-opacity="0.4" stroke="#229a22" stroke-width="0.55" stroke-opacity="0.8"/><circle cx="65.7" cy="275.8" r="1.4" fill="#2cb82c" fill-opacity="0.3" stroke="#2cb82c" stroke-width="0.55" stroke-opacity="0.6"/><circle cx="66.1" cy="279.9" r="1.3" fill="#229a22" fill-opacity="0.4" stroke="#229a22" stroke-width="0.55" stroke-opacity="0.9"/><circle cx="93.8" cy="275.6" r="1.4" fill="#2cb82c" fill-opacity="0.3" stroke="#2cb82c" stroke-width="0.55" stroke-opacity="0.7"/><circle cx="73.3" cy="281.1" r="1.1" fill="#229a22" fill-opacity="0.3" stroke="#229a22" stroke-width="0.55" stroke-opacity="0.7"/><circle cx="89" cy="273.9" r="1.1" fill="#2cb82c" fill-opacity="0.4" stroke="#2cb82c" stroke-width="0.55" stroke-opacity="0.8"/><circle cx="61.2" cy="278.2" r="1.1" fill="#2cb82c" fill-opacity="0.2" stroke="#2cb82c" stroke-width="0.55" stroke-opacity="0.5"/><circle cx="60.7" cy="282.8" r="1.3" fill="#229a22" fill-opacity="0.3" stroke="#229a22" stroke-width="0.55" stroke-opacity="0.6"/><rect x="82.5" y="291.4" width="12" height="1.2" fill="#f0f0f0"/></g>
<text x="62" y="254" font-size="9.2" fill="#f0f0f0" text-anchor="start" stroke="#f0f0f0" stroke-width="0.1">e</text>
<g clip-path="url(#cp0_2)"><rect x="97.4" y="244" width="35.1" height="49.8" fill="#000"/><linearGradient id="mg3" x1="0" y1="0" x2="0" y2="1"><stop offset="0" stop-color="#000" stop-opacity="0"/><stop offset="0.2" stop-color="#062a06" stop-opacity="0"/><stop offset="0.2" stop-color="#062a06" stop-opacity="0.5"/><stop offset="0.7" stop-color="#062a06" stop-opacity="0.4"/><stop offset="0.8" stop-color="#000" stop-opacity="0"/><stop offset="1" stop-color="#000" stop-opacity="0"/></linearGradient><polygon points="97.4,244 132.5,244 132.5,294 97.4,294" fill="url(#mg3)"/><circle cx="131.7" cy="252.8" r="1.2" fill="#229a22" fill-opacity="0.2" stroke="#229a22" stroke-width="0.55" stroke-opacity="0.6"/><circle cx="129.1" cy="260.4" r="1.3" fill="#229a22" fill-opacity="0.4" stroke="#229a22" stroke-width="0.55" stroke-opacity="0.9"/><circle cx="108.3" cy="254.8" r="1.4" fill="#229a22" fill-opacity="0.3" stroke="#229a22" stroke-width="0.55" stroke-opacity="0.7"/><circle cx="109.3" cy="252.8" r="1.1" fill="#2cb82c" fill-opacity="0.4" stroke="#2cb82c" stroke-width="0.55" stroke-opacity="0.9"/><circle cx="129.4" cy="260.2" r="1.2" fill="#229a22" fill-opacity="0.3" stroke="#229a22" stroke-width="0.55" stroke-opacity="0.6"/><circle cx="115.2" cy="260.4" r="1.3" fill="#2cb82c" fill-opacity="0.3" stroke="#2cb82c" stroke-width="0.55" stroke-opacity="0.7"/><circle cx="99" cy="257.1" r="1.1" fill="#229a22" fill-opacity="0.4" stroke="#229a22" stroke-width="0.55" stroke-opacity="0.9"/><circle cx="113.8" cy="258.8" r="1.5" fill="#40d040" fill-opacity="0.4" stroke="#40d040" stroke-width="0.55" stroke-opacity="0.9"/><circle cx="115.4" cy="256" r="1.4" fill="#2cb82c" fill-opacity="0.3" stroke="#2cb82c" stroke-width="0.55" stroke-opacity="0.7"/><circle cx="116.6" cy="256.4" r="1.2" fill="#229a22" fill-opacity="0.3" stroke="#229a22" stroke-width="0.55" stroke-opacity="0.7"/><circle cx="102.8" cy="255.5" r="1.3" fill="#2cb82c" fill-opacity="0.3" stroke="#2cb82c" stroke-width="0.55" stroke-opacity="0.7"/><circle cx="118.9" cy="252.8" r="1.3" fill="#229a22" fill-opacity="0.3" stroke="#229a22" stroke-width="0.55" stroke-opacity="0.8"/><circle cx="101.8" cy="260" r="1.4" fill="#229a22" fill-opacity="0.3" stroke="#229a22" stroke-width="0.55" stroke-opacity="0.7"/><circle cx="120.8" cy="256" r="1.3" fill="#40d040" fill-opacity="0.4" stroke="#40d040" stroke-width="0.55" stroke-opacity="0.9"/><circle cx="113.1" cy="255.5" r="1.2" fill="#229a22" fill-opacity="0.4" stroke="#229a22" stroke-width="0.55" stroke-opacity="0.8"/><circle cx="108.5" cy="255.1" r="1.5" fill="#229a22" fill-opacity="0.4" stroke="#229a22" stroke-width="0.55" stroke-opacity="0.9"/><circle cx="118.8" cy="257.8" r="1.1" fill="#229a22" fill-opacity="0.3" stroke="#229a22" stroke-width="0.55" stroke-opacity="0.7"/><circle cx="131.8" cy="253.3" r="1.2" fill="#2cb82c" fill-opacity="0.3" stroke="#2cb82c" stroke-width="0.55" stroke-opacity="0.6"/><circle cx="121.9" cy="253.6" r="1.4" fill="#2cb82c" fill-opacity="0.3" stroke="#2cb82c" stroke-width="0.55" stroke-opacity="0.6"/><circle cx="121.7" cy="256.6" r="1.5" fill="#229a22" fill-opacity="0.3" stroke="#229a22" stroke-width="0.55" stroke-opacity="0.7"/><circle cx="116.5" cy="252.9" r="1.2" fill="#2cb82c" fill-opacity="0.4" stroke="#2cb82c" stroke-width="0.55" stroke-opacity="0.9"/><circle cx="102.6" cy="259.2" r="1.4" fill="#229a22" fill-opacity="0.3" stroke="#229a22" stroke-width="0.55" stroke-opacity="0.7"/><circle cx="120.1" cy="253.9" r="1.1" fill="#2cb82c" fill-opacity="0.4" stroke="#2cb82c" stroke-width="0.55" stroke-opacity="0.9"/><circle cx="108.3" cy="258.7" r="1.2" fill="#40d040" fill-opacity="0.3" stroke="#40d040" stroke-width="0.55" stroke-opacity="0.6"/><circle cx="131.1" cy="257.6" r="1.3" fill="#229a22" fill-opacity="0.3" stroke="#229a22" stroke-width="0.55" stroke-opacity="0.6"/><circle cx="103.7" cy="252.7" r="1.1" fill="#229a22" fill-opacity="0.3" stroke="#229a22" stroke-width="0.55" stroke-opacity="0.6"/><circle cx="101.8" cy="265.2" r="1.5" fill="#2cb82c" fill-opacity="0.2" stroke="#2cb82c" stroke-width="0.55" stroke-opacity="0.5"/><circle cx="97.6" cy="265.3" r="1.2" fill="#2cb82c" fill-opacity="0.3" stroke="#2cb82c" stroke-width="0.55" stroke-opacity="0.6"/><circle cx="109.8" cy="270.6" r="1.3" fill="#229a22" fill-opacity="0.3" stroke="#229a22" stroke-width="0.55" stroke-opacity="0.7"/><circle cx="114" cy="268.7" r="1.3" fill="#229a22" fill-opacity="0.4" stroke="#229a22" stroke-width="0.55" stroke-opacity="0.8"/><circle cx="117.3" cy="266.2" r="1.3" fill="#229a22" fill-opacity="0.3" stroke="#229a22" stroke-width="0.55" stroke-opacity="0.6"/><circle cx="126.6" cy="263.8" r="1.3" fill="#2cb82c" fill-opacity="0.4" stroke="#2cb82c" stroke-width="0.55" stroke-opacity="0.8"/><circle cx="107.9" cy="269.7" r="1.5" fill="#2cb82c" fill-opacity="0.3" stroke="#2cb82c" stroke-width="0.55" stroke-opacity="0.6"/><circle cx="101.9" cy="267.4" r="1.1" fill="#2cb82c" fill-opacity="0.3" stroke="#2cb82c" stroke-width="0.55" stroke-opacity="0.7"/><circle cx="127.9" cy="269.1" r="1.5" fill="#229a22" fill-opacity="0.3" stroke="#229a22" stroke-width="0.55" stroke-opacity="0.7"/><circle cx="100.6" cy="266.9" r="1.3" fill="#2cb82c" fill-opacity="0.2" stroke="#2cb82c" stroke-width="0.55" stroke-opacity="0.5"/><circle cx="108.7" cy="266.6" r="1.2" fill="#229a22" fill-opacity="0.3" stroke="#229a22" stroke-width="0.55" stroke-opacity="0.6"/><circle cx="122" cy="268.9" r="1.4" fill="#229a22" fill-opacity="0.3" stroke="#229a22" stroke-width="0.55" stroke-opacity="0.6"/><circle cx="106.8" cy="263.1" r="1.3" fill="#229a22" fill-opacity="0.3" stroke="#229a22" stroke-width="0.55" stroke-opacity="0.7"/><circle cx="122.9" cy="264.2" r="1.3" fill="#2cb82c" fill-opacity="0.3" stroke="#2cb82c" stroke-width="0.55" stroke-opacity="0.6"/><circle cx="114.1" cy="266.8" r="1.4" fill="#229a22" fill-opacity="0.4" stroke="#229a22" stroke-width="0.55" stroke-opacity="0.8"/><circle cx="132.3" cy="262.5" r="1.3" fill="#229a22" fill-opacity="0.3" stroke="#229a22" stroke-width="0.55" stroke-opacity="0.7"/><circle cx="99.4" cy="269.7" r="1.3" fill="#229a22" fill-opacity="0.4" stroke="#229a22" stroke-width="0.55" stroke-opacity="0.8"/><circle cx="115.4" cy="262.5" r="1.3" fill="#229a22" fill-opacity="0.2" stroke="#229a22" stroke-width="0.55" stroke-opacity="0.5"/><circle cx="122.3" cy="265.3" r="1.2" fill="#229a22" fill-opacity="0.3" stroke="#229a22" stroke-width="0.55" stroke-opacity="0.7"/><circle cx="112.8" cy="270.2" r="1.4" fill="#229a22" fill-opacity="0.2" stroke="#229a22" stroke-width="0.55" stroke-opacity="0.5"/><circle cx="102.5" cy="264" r="1.2" fill="#2cb82c" fill-opacity="0.3" stroke="#2cb82c" stroke-width="0.55" stroke-opacity="0.7"/><circle cx="128.4" cy="263.9" r="1.3" fill="#2cb82c" fill-opacity="0.2" stroke="#2cb82c" stroke-width="0.55" stroke-opacity="0.5"/><circle cx="116.1" cy="277.6" r="1.4" fill="#2cb82c" fill-opacity="0.4" stroke="#2cb82c" stroke-width="0.55" stroke-opacity="0.9"/><circle cx="112.9" cy="277.1" r="1.1" fill="#229a22" fill-opacity="0.4" stroke="#229a22" stroke-width="0.55" stroke-opacity="0.9"/><circle cx="105.3" cy="272.3" r="1.2" fill="#2cb82c" fill-opacity="0.3" stroke="#2cb82c" stroke-width="0.55" stroke-opacity="0.7"/><circle cx="126.3" cy="276.4" r="1.1" fill="#229a22" fill-opacity="0.2" stroke="#229a22" stroke-width="0.55" stroke-opacity="0.5"/><circle cx="110.8" cy="275.4" r="1.5" fill="#2cb82c" fill-opacity="0.3" stroke="#2cb82c" stroke-width="0.55" stroke-opacity="0.7"/><circle cx="111" cy="275.6" r="1.3" fill="#40d040" fill-opacity="0.4" stroke="#40d040" stroke-width="0.55" stroke-opacity="0.8"/><circle cx="107.8" cy="273.6" r="1.4" fill="#2cb82c" fill-opacity="0.4" stroke="#2cb82c" stroke-width="0.55" stroke-opacity="0.8"/><circle cx="99.6" cy="278.9" r="1.4" fill="#2cb82c" fill-opacity="0.3" stroke="#2cb82c" stroke-width="0.55" stroke-opacity="0.6"/><circle cx="119.5" cy="271.8" r="1.4" fill="#40d040" fill-opacity="0.4" stroke="#40d040" stroke-width="0.55" stroke-opacity="0.8"/><circle cx="105.3" cy="273.9" r="1.4" fill="#2cb82c" fill-opacity="0.4" stroke="#2cb82c" stroke-width="0.55" stroke-opacity="0.9"/><circle cx="130.2" cy="275.7" r="1.3" fill="#2cb82c" fill-opacity="0.2" stroke="#2cb82c" stroke-width="0.55" stroke-opacity="0.5"/><circle cx="129.6" cy="274.6" r="1.2" fill="#40d040" fill-opacity="0.3" stroke="#40d040" stroke-width="0.55" stroke-opacity="0.7"/><circle cx="105.3" cy="276.2" r="1.2" fill="#40d040" fill-opacity="0.3" stroke="#40d040" stroke-width="0.55" stroke-opacity="0.8"/><circle cx="116" cy="276.6" r="1.2" fill="#40d040" fill-opacity="0.4" stroke="#40d040" stroke-width="0.55" stroke-opacity="0.8"/><circle cx="112.6" cy="273.8" r="1.2" fill="#2cb82c" fill-opacity="0.4" stroke="#2cb82c" stroke-width="0.55" stroke-opacity="0.9"/><circle cx="103.8" cy="271.9" r="1.3" fill="#40d040" fill-opacity="0.4" stroke="#40d040" stroke-width="0.55" stroke-opacity="0.9"/><rect x="119.2" y="291.4" width="12" height="1.2" fill="#f0f0f0"/></g>
<text x="98.7" y="254" font-size="9.2" fill="#f0f0f0" text-anchor="start" stroke="#f0f0f0" stroke-width="0.1">f</text>
<g clip-path="url(#cp0_3)"><rect x="134" y="244" width="35.1" height="49.8" fill="#000"/><linearGradient id="mg4" x1="0" y1="0" x2="0" y2="1"><stop offset="0" stop-color="#0a4a0a" stop-opacity="0.3"/><stop offset="0.5" stop-color="#0a4a0a" stop-opacity="0.5"/><stop offset="0.6" stop-color="#031503" stop-opacity="0.5"/><stop offset="1" stop-color="#031503" stop-opacity="0.5"/></linearGradient><polygon points="134,244 169.1,244 169.1,294 134,294" fill="url(#mg4)"/><circle cx="148" cy="251.5" r="1.5" fill="#40d040" fill-opacity="0.3" stroke="#40d040" stroke-width="0.55" stroke-opacity="0.6"/><circle cx="142.7" cy="268.9" r="1.7" fill="#2cb82c" fill-opacity="0.4" stroke="#2cb82c" stroke-width="0.55" stroke-opacity="0.8"/><circle cx="148.1" cy="256.1" r="1.5" fill="#40d040" fill-opacity="0.3" stroke="#40d040" stroke-width="0.55" stroke-opacity="0.7"/><circle cx="135.9" cy="271.1" r="1.7" fill="#40d040" fill-opacity="0.3" stroke="#40d040" stroke-width="0.55" stroke-opacity="0.6"/><circle cx="149.6" cy="260.7" r="1.5" fill="#2cb82c" fill-opacity="0.4" stroke="#2cb82c" stroke-width="0.55" stroke-opacity="0.8"/><circle cx="162.5" cy="255.5" r="1.5" fill="#2cb82c" fill-opacity="0.4" stroke="#2cb82c" stroke-width="0.55" stroke-opacity="0.8"/><circle cx="147.9" cy="260" r="1.6" fill="#40d040" fill-opacity="0.4" stroke="#40d040" stroke-width="0.55" stroke-opacity="0.8"/><circle cx="147.2" cy="248" r="1.6" fill="#2cb82c" fill-opacity="0.3" stroke="#2cb82c" stroke-width="0.55" stroke-opacity="0.7"/><circle cx="154.4" cy="253" r="1.8" fill="#2cb82c" fill-opacity="0.4" stroke="#2cb82c" stroke-width="0.55" stroke-opacity="0.8"/><circle cx="147.7" cy="259" r="1.6" fill="#2cb82c" fill-opacity="0.3" stroke="#2cb82c" stroke-width="0.55" stroke-opacity="0.7"/><circle cx="151" cy="250.6" r="1.7" fill="#2cb82c" fill-opacity="0.3" stroke="#2cb82c" stroke-width="0.55" stroke-opacity="0.7"/><circle cx="139.1" cy="254.4" r="1.5" fill="#40d040" fill-opacity="0.3" stroke="#40d040" stroke-width="0.55" stroke-opacity="0.6"/><circle cx="150.8" cy="260" r="1.7" fill="#40d040" fill-opacity="0.3" stroke="#40d040" stroke-width="0.55" stroke-opacity="0.7"/><circle cx="135.5" cy="255" r="1.7" fill="#2cb82c" fill-opacity="0.4" stroke="#2cb82c" stroke-width="0.55" stroke-opacity="0.8"/><circle cx="160.8" cy="260.4" r="1.5" fill="#40d040" fill-opacity="0.4" stroke="#40d040" stroke-width="0.55" stroke-opacity="0.9"/><circle cx="163.4" cy="265.4" r="1.5" fill="#2cb82c" fill-opacity="0.2" stroke="#2cb82c" stroke-width="0.55" stroke-opacity="0.6"/><circle cx="153.6" cy="265.9" r="1.6" fill="#2cb82c" fill-opacity="0.3" stroke="#2cb82c" stroke-width="0.55" stroke-opacity="0.7"/><circle cx="142.8" cy="264.1" r="1.6" fill="#2cb82c" fill-opacity="0.3" stroke="#2cb82c" stroke-width="0.55" stroke-opacity="0.7"/><circle cx="145.4" cy="250.2" r="1.8" fill="#2cb82c" fill-opacity="0.3" stroke="#2cb82c" stroke-width="0.55" stroke-opacity="0.7"/><circle cx="147.9" cy="251.1" r="1.6" fill="#2cb82c" fill-opacity="0.4" stroke="#2cb82c" stroke-width="0.55" stroke-opacity="0.8"/><circle cx="159.4" cy="261.8" r="1.7" fill="#2cb82c" fill-opacity="0.3" stroke="#2cb82c" stroke-width="0.55" stroke-opacity="0.6"/><circle cx="139.9" cy="248.6" r="1.6" fill="#2cb82c" fill-opacity="0.4" stroke="#2cb82c" stroke-width="0.55" stroke-opacity="0.9"/><circle cx="152.1" cy="256.3" r="1.4" fill="#40d040" fill-opacity="0.3" stroke="#40d040" stroke-width="0.55" stroke-opacity="0.7"/><circle cx="142.1" cy="252.8" r="1.5" fill="#40d040" fill-opacity="0.3" stroke="#40d040" stroke-width="0.55" stroke-opacity="0.6"/><circle cx="149.3" cy="252.8" r="1.8" fill="#2cb82c" fill-opacity="0.3" stroke="#2cb82c" stroke-width="0.55" stroke-opacity="0.6"/><circle cx="157.4" cy="252.4" r="1.5" fill="#40d040" fill-opacity="0.3" stroke="#40d040" stroke-width="0.55" stroke-opacity="0.7"/><circle cx="165.7" cy="248.6" r="1.7" fill="#2cb82c" fill-opacity="0.4" stroke="#2cb82c" stroke-width="0.55" stroke-opacity="0.9"/><circle cx="168.6" cy="254.7" r="1.4" fill="#2cb82c" fill-opacity="0.4" stroke="#2cb82c" stroke-width="0.55" stroke-opacity="0.9"/><circle cx="139.8" cy="263.3" r="1.5" fill="#40d040" fill-opacity="0.3" stroke="#40d040" stroke-width="0.55" stroke-opacity="0.8"/><circle cx="165.6" cy="257.5" r="1.6" fill="#2cb82c" fill-opacity="0.3" stroke="#2cb82c" stroke-width="0.55" stroke-opacity="0.8"/><circle cx="149.1" cy="266.9" r="1.5" fill="#2cb82c" fill-opacity="0.3" stroke="#2cb82c" stroke-width="0.55" stroke-opacity="0.8"/><circle cx="165.7" cy="250" r="1.4" fill="#2cb82c" fill-opacity="0.3" stroke="#2cb82c" stroke-width="0.55" stroke-opacity="0.7"/><circle cx="141.5" cy="265.7" r="1.6" fill="#2cb82c" fill-opacity="0.4" stroke="#2cb82c" stroke-width="0.55" stroke-opacity="0.9"/><circle cx="159.6" cy="255.7" r="1.4" fill="#2cb82c" fill-opacity="0.3" stroke="#2cb82c" stroke-width="0.55" stroke-opacity="0.8"/><circle cx="167.9" cy="255.3" r="1.4" fill="#2cb82c" fill-opacity="0.3" stroke="#2cb82c" stroke-width="0.55" stroke-opacity="0.6"/><circle cx="136.6" cy="257.1" r="1.5" fill="#40d040" fill-opacity="0.3" stroke="#40d040" stroke-width="0.55" stroke-opacity="0.6"/><circle cx="157.5" cy="261.7" r="1.5" fill="#2cb82c" fill-opacity="0.3" stroke="#2cb82c" stroke-width="0.55" stroke-opacity="0.6"/><circle cx="136.8" cy="263.7" r="1.4" fill="#2cb82c" fill-opacity="0.4" stroke="#2cb82c" stroke-width="0.55" stroke-opacity="0.8"/><circle cx="161.6" cy="256.2" r="1.6" fill="#2cb82c" fill-opacity="0.4" stroke="#2cb82c" stroke-width="0.55" stroke-opacity="0.9"/><circle cx="149.6" cy="250.6" r="1.7" fill="#2cb82c" fill-opacity="0.3" stroke="#2cb82c" stroke-width="0.55" stroke-opacity="0.6"/><circle cx="158.6" cy="250.4" r="1.4" fill="#40d040" fill-opacity="0.3" stroke="#40d040" stroke-width="0.55" stroke-opacity="0.8"/><circle cx="163.3" cy="255.4" r="1.4" fill="#2cb82c" fill-opacity="0.3" stroke="#2cb82c" stroke-width="0.55" stroke-opacity="0.6"/><circle cx="162.3" cy="257.6" r="1.7" fill="#2cb82c" fill-opacity="0.3" stroke="#2cb82c" stroke-width="0.55" stroke-opacity="0.7"/><circle cx="149.5" cy="252.2" r="1.4" fill="#2cb82c" fill-opacity="0.3" stroke="#2cb82c" stroke-width="0.55" stroke-opacity="0.6"/><circle cx="148.6" cy="248.5" r="1.5" fill="#2cb82c" fill-opacity="0.4" stroke="#2cb82c" stroke-width="0.55" stroke-opacity="0.8"/><circle cx="157.4" cy="252.3" r="1.4" fill="#2cb82c" fill-opacity="0.3" stroke="#2cb82c" stroke-width="0.55" stroke-opacity="0.7"/><circle cx="145.9" cy="251.1" r="1.6" fill="#2cb82c" fill-opacity="0.3" stroke="#2cb82c" stroke-width="0.55" stroke-opacity="0.7"/><circle cx="147.4" cy="269.4" r="1.5" fill="#2cb82c" fill-opacity="0.4" stroke="#2cb82c" stroke-width="0.55" stroke-opacity="0.8"/><circle cx="144.9" cy="247.6" r="1.7" fill="#2cb82c" fill-opacity="0.3" stroke="#2cb82c" stroke-width="0.55" stroke-opacity="0.8"/><circle cx="144" cy="270.4" r="1.8" fill="#2cb82c" fill-opacity="0.3" stroke="#2cb82c" stroke-width="0.55" stroke-opacity="0.6"/><circle cx="139.9" cy="255.5" r="1.8" fill="#40d040" fill-opacity="0.3" stroke="#40d040" stroke-width="0.55" stroke-opacity="0.6"/><circle cx="136.4" cy="266.9" r="1.7" fill="#2cb82c" fill-opacity="0.4" stroke="#2cb82c" stroke-width="0.55" stroke-opacity="0.9"/><circle cx="134.4" cy="258.3" r="1.4" fill="#40d040" fill-opacity="0.4" stroke="#40d040" stroke-width="0.55" stroke-opacity="0.8"/><circle cx="165.8" cy="247.2" r="1.7" fill="#40d040" fill-opacity="0.3" stroke="#40d040" stroke-width="0.55" stroke-opacity="0.7"/><circle cx="151.3" cy="266.2" r="1.7" fill="#2cb82c" fill-opacity="0.3" stroke="#2cb82c" stroke-width="0.55" stroke-opacity="0.7"/><circle cx="137.1" cy="271.1" r="1.4" fill="#2cb82c" fill-opacity="0.4" stroke="#2cb82c" stroke-width="0.55" stroke-opacity="0.9"/><circle cx="142.4" cy="250.1" r="1.6" fill="#2cb82c" fill-opacity="0.4" stroke="#2cb82c" stroke-width="0.55" stroke-opacity="0.8"/><circle cx="151.9" cy="262.4" r="1.4" fill="#2cb82c" fill-opacity="0.4" stroke="#2cb82c" stroke-width="0.55" stroke-opacity="0.8"/><circle cx="164" cy="259.3" r="1.6" fill="#40d040" fill-opacity="0.3" stroke="#40d040" stroke-width="0.55" stroke-opacity="0.7"/><circle cx="166.5" cy="257" r="1.7" fill="#40d040" fill-opacity="0.3" stroke="#40d040" stroke-width="0.55" stroke-opacity="0.8"/><path d="M149.3 278.2h0" stroke="#229a22" stroke-width="2.4" stroke-opacity="0.2" stroke-linecap="round"/><path d="M159.9 276.2h0M137.5 276.3h0M159.3 284.4h0M166.1 280.9h0M147.3 289.7h0M146.8 287.4h0M155.3 279.6h0" stroke="#229a22" stroke-width="2" stroke-opacity="0.2" stroke-linecap="round"/><path d="M155.5 275.8h0M164.9 288.4h0" stroke="#229a22" stroke-width="1.6" stroke-opacity="0.2" stroke-linecap="round"/><rect x="155.8" y="291.4" width="12" height="1.2" fill="#f0f0f0"/></g>
<text x="135.3" y="254" font-size="9.2" fill="#f0f0f0" text-anchor="start" stroke="#f0f0f0" stroke-width="0.1">g</text>
<g clip-path="url(#cp0_4)"><rect x="170.7" y="244" width="35.1" height="49.8" fill="#000"/><linearGradient id="mg5" x1="0" y1="0" x2="0" y2="1"><stop offset="0" stop-color="#000" stop-opacity="0"/><stop offset="0.2" stop-color="#000" stop-opacity="0"/><stop offset="0.2" stop-color="#22a822" stop-opacity="0.9"/><stop offset="0.3" stop-color="#188818" stop-opacity="0.9"/><stop offset="0.5" stop-color="#106410" stop-opacity="0.8"/><stop offset="0.7" stop-color="#0b4c0b" stop-opacity="0.8"/><stop offset="0.9" stop-color="#062806" stop-opacity="0.7"/><stop offset="0.9" stop-color="#000" stop-opacity="0"/><stop offset="1" stop-color="#000" stop-opacity="0"/></linearGradient><polygon points="170.7,244 205.8,244 205.8,294 170.7,294" fill="url(#mg5)"/><polygon points="170.7,244 181.7,244 181.7,252.8 170.7,252.4" fill="['#000']" opacity="1"/><polygon points="181.7,244 192.7,244 192.7,252 181.7,252" fill="['#000']" opacity="0.6"/><polygon points="192.7,244 205.8,244 205.8,254 192.7,253.6" fill="['#000']" opacity="1"/><path d="M202.5 268.2h0M199.5 255.5h0M180.5 282.7h0M190.5 271.7h0M181.7 265.7h0M183 270h0M194.1 260.1h0M197.6 280.2h0M195.7 260.1h0M187.4 264.4h0M194.8 282.6h0M179.3 258.5h0M201.8 279.6h0M190.3 268.2h0M198.1 256.8h0M194.4 282.7h0" stroke="#000" stroke-width="1.2" stroke-opacity="0.2" stroke-linecap="round"/><path d="M188.2 274.9h0M191.5 265h0M180.6 256h0M201.3 264.7h0M186.7 261.8h0M199.8 271.4h0M194.1 256.7h0M171.6 283.5h0M172.4 280.3h0M171.7 260.4h0M182.2 268.6h0M177.5 271.8h0M173.5 279.5h0M179.2 284.8h0M192.4 270.3h0M194.4 257.2h0M170.8 268.4h0M200.9 271.2h0M183.5 271.8h0M187.4 270.8h0M201 281.7h0M194.2 267.2h0M185 254.5h0M177.2 284.8h0M183.7 265.4h0M181.4 284.7h0M181.7 265.5h0M199 269.5h0M199.3 265.4h0M187 259.8h0M177.6 260.9h0M173.3 270h0M193.3 262.7h0" stroke="#000" stroke-width="1.6" stroke-opacity="0.2" stroke-linecap="round"/><path d="M192.2 269.6h0M197.9 282.2h0M182.8 260.6h0M198.6 280.3h0M187.7 257.2h0M183.4 265.8h0M174.7 283.3h0M172.6 266.3h0M201.4 272.2h0M196.5 268.4h0M170.7 259.2h0M185.4 265.8h0M197.4 266.7h0M176.1 265h0M201.3 262.2h0M180 255.4h0M201.1 254.7h0M202.3 281.7h0" stroke="#000" stroke-width="1.2" stroke-opacity="0.4" stroke-linecap="round"/><path d="M202.8 259.8h0M205.1 257.8h0M174.4 260.5h0M188.5 263.4h0M190.2 253.7h0M175.2 282.6h0M175.5 278.5h0M196.3 273.8h0M173.8 277.2h0M198.2 259.3h0M194.5 264.2h0M203.4 277.5h0M203.3 277.4h0M205.1 279.6h0M201.7 258.8h0M201.4 276.2h0M193.6 260.5h0M205.2 256.9h0M200.7 254.1h0M176.4 283h0M177.5 265.4h0M197.3 281.9h0M189.4 256h0" stroke="#000" stroke-width="1.6" stroke-opacity="0.4" stroke-linecap="round"/><circle cx="192.6" cy="261.2" r="1.3" fill="#40d040" fill-opacity="0.2" stroke="#40d040" stroke-width="0.55" stroke-opacity="0.5"/><circle cx="176.3" cy="259.2" r="1.4" fill="#40d040" fill-opacity="0.3" stroke="#40d040" stroke-width="0.55" stroke-opacity="0.8"/><circle cx="201.5" cy="261.6" r="1.5" fill="#48e048" fill-opacity="0.3" stroke="#48e048" stroke-width="0.55" stroke-opacity="0.7"/><circle cx="195.2" cy="258.6" r="1.4" fill="#40d040" fill-opacity="0.2" stroke="#40d040" stroke-width="0.55" stroke-opacity="0.5"/><circle cx="186.1" cy="258" r="1.3" fill="#40d040" fill-opacity="0.3" stroke="#40d040" stroke-width="0.55" stroke-opacity="0.6"/><circle cx="178.7" cy="261.9" r="1.6" fill="#40d040" fill-opacity="0.3" stroke="#40d040" stroke-width="0.55" stroke-opacity="0.6"/><circle cx="187.2" cy="261.6" r="1.6" fill="#40d040" fill-opacity="0.4" stroke="#40d040" stroke-width="0.55" stroke-opacity="0.8"/><circle cx="191.9" cy="254.1" r="1.3" fill="#40d040" fill-opacity="0.3" stroke="#40d040" stroke-width="0.55" stroke-opacity="0.6"/><circle cx="179" cy="261.2" r="1.5" fill="#48e048" fill-opacity="0.4" stroke="#48e048" stroke-width="0.55" stroke-opacity="0.8"/><circle cx="202.8" cy="257.6" r="1.2" fill="#48e048" fill-opacity="0.4" stroke="#48e048" stroke-width="0.55" stroke-opacity="0.8"/><circle cx="191.5" cy="253.6" r="1.6" fill="#40d040" fill-opacity="0.3" stroke="#40d040" stroke-width="0.55" stroke-opacity="0.6"/><circle cx="177" cy="254.2" r="1.5" fill="#48e048" fill-opacity="0.3" stroke="#48e048" stroke-width="0.55" stroke-opacity="0.7"/><circle cx="192.9" cy="261.5" r="1.5" fill="#48e048" fill-opacity="0.3" stroke="#48e048" stroke-width="0.55" stroke-opacity="0.7"/><circle cx="172.5" cy="256.4" r="1.5" fill="#40d040" fill-opacity="0.3" stroke="#40d040" stroke-width="0.55" stroke-opacity="0.6"/><circle cx="182" cy="258.8" r="1.4" fill="#40d040" fill-opacity="0.3" stroke="#40d040" stroke-width="0.55" stroke-opacity="0.7"/><circle cx="184.4" cy="253.8" r="1.4" fill="#40d040" fill-opacity="0.3" stroke="#40d040" stroke-width="0.55" stroke-opacity="0.6"/><circle cx="192.3" cy="262.4" r="1.4" fill="#40d040" fill-opacity="0.3" stroke="#40d040" stroke-width="0.55" stroke-opacity="0.8"/><circle cx="177.6" cy="258.2" r="1.4" fill="#48e048" fill-opacity="0.3" stroke="#48e048" stroke-width="0.55" stroke-opacity="0.6"/><circle cx="198.6" cy="261.1" r="1.3" fill="#40d040" fill-opacity="0.3" stroke="#40d040" stroke-width="0.55" stroke-opacity="0.7"/><circle cx="179.2" cy="258.1" r="1.4" fill="#48e048" fill-opacity="0.3" stroke="#48e048" stroke-width="0.55" stroke-opacity="0.7"/><circle cx="191.5" cy="257" r="1.4" fill="#48e048" fill-opacity="0.3" stroke="#48e048" stroke-width="0.55" stroke-opacity="0.7"/><circle cx="189.4" cy="260.9" r="1.3" fill="#48e048" fill-opacity="0.3" stroke="#48e048" stroke-width="0.55" stroke-opacity="0.7"/><circle cx="201.6" cy="263.8" r="1.4" fill="#2cb82c" fill-opacity="0.1" stroke="#2cb82c" stroke-width="0.55" stroke-opacity="0.3"/><circle cx="195.5" cy="268.5" r="1.4" fill="#2cb82c" fill-opacity="0.1" stroke="#2cb82c" stroke-width="0.55" stroke-opacity="0.2"/><circle cx="176.4" cy="264.4" r="1.2" fill="#2cb82c" fill-opacity="0.1" stroke="#2cb82c" stroke-width="0.55" stroke-opacity="0.2"/><circle cx="181.2" cy="278.2" r="1.2" fill="#2cb82c" fill-opacity="0.1" stroke="#2cb82c" stroke-width="0.55" stroke-opacity="0.2"/><circle cx="173.3" cy="275" r="1.1" fill="#2cb82c" fill-opacity="0.1" stroke="#2cb82c" stroke-width="0.55" stroke-opacity="0.2"/><circle cx="185.2" cy="270.5" r="1.3" fill="#2cb82c" fill-opacity="0.1" stroke="#2cb82c" stroke-width="0.55" stroke-opacity="0.3"/><circle cx="198.2" cy="265.4" r="1" fill="#2cb82c" fill-opacity="0.2" stroke="#2cb82c" stroke-width="0.55" stroke-opacity="0.3"/><circle cx="186.5" cy="267.4" r="1.3" fill="#2cb82c" fill-opacity="0.1" stroke="#2cb82c" stroke-width="0.55" stroke-opacity="0.3"/><circle cx="174.7" cy="274.5" r="1.4" fill="#2cb82c" fill-opacity="0.1" stroke="#2cb82c" stroke-width="0.55" stroke-opacity="0.3"/><circle cx="192.7" cy="268.8" r="1.3" fill="#2cb82c" fill-opacity="0.1" stroke="#2cb82c" stroke-width="0.55" stroke-opacity="0.3"/><circle cx="187.9" cy="278.5" r="1.1" fill="#2cb82c" fill-opacity="0.1" stroke="#2cb82c" stroke-width="0.55" stroke-opacity="0.3"/><circle cx="171" cy="267.5" r="1.1" fill="#2cb82c" fill-opacity="0.1" stroke="#2cb82c" stroke-width="0.55" stroke-opacity="0.2"/><circle cx="200.5" cy="268.7" r="1.4" fill="#2cb82c" fill-opacity="0.1" stroke="#2cb82c" stroke-width="0.55" stroke-opacity="0.3"/><circle cx="194.1" cy="267.4" r="1.2" fill="#2cb82c" fill-opacity="0.1" stroke="#2cb82c" stroke-width="0.55" stroke-opacity="0.3"/><circle cx="173.3" cy="264.6" r="1.3" fill="#2cb82c" fill-opacity="0.1" stroke="#2cb82c" stroke-width="0.55" stroke-opacity="0.2"/><circle cx="181.7" cy="279.4" r="1" fill="#2cb82c" fill-opacity="0.1" stroke="#2cb82c" stroke-width="0.55" stroke-opacity="0.2"/><circle cx="182.7" cy="272.5" r="1.3" fill="#2cb82c" fill-opacity="0.1" stroke="#2cb82c" stroke-width="0.55" stroke-opacity="0.2"/><circle cx="200.1" cy="280.2" r="1.1" fill="#2cb82c" fill-opacity="0.2" stroke="#2cb82c" stroke-width="0.55" stroke-opacity="0.3"/><circle cx="183.8" cy="269.3" r="1" fill="#2cb82c" fill-opacity="0.1" stroke="#2cb82c" stroke-width="0.55" stroke-opacity="0.3"/><circle cx="173.7" cy="280.4" r="1.1" fill="#2cb82c" fill-opacity="0.1" stroke="#2cb82c" stroke-width="0.55" stroke-opacity="0.2"/><circle cx="187.2" cy="268.7" r="1.2" fill="#2cb82c" fill-opacity="0.1" stroke="#2cb82c" stroke-width="0.55" stroke-opacity="0.2"/><circle cx="184.7" cy="266.2" r="1.3" fill="#2cb82c" fill-opacity="0.1" stroke="#2cb82c" stroke-width="0.55" stroke-opacity="0.3"/><circle cx="179.6" cy="282.1" r="1.1" fill="#2cb82c" fill-opacity="0.1" stroke="#2cb82c" stroke-width="0.55" stroke-opacity="0.2"/><circle cx="195.4" cy="281" r="1.1" fill="#2cb82c" fill-opacity="0.1" stroke="#2cb82c" stroke-width="0.55" stroke-opacity="0.3"/><circle cx="198.5" cy="278.6" r="1" fill="#2cb82c" fill-opacity="0.1" stroke="#2cb82c" stroke-width="0.55" stroke-opacity="0.3"/><circle cx="195.9" cy="267.4" r="1.1" fill="#2cb82c" fill-opacity="0.1" stroke="#2cb82c" stroke-width="0.55" stroke-opacity="0.2"/><circle cx="186.7" cy="281.8" r="1.1" fill="#2cb82c" fill-opacity="0.1" stroke="#2cb82c" stroke-width="0.55" stroke-opacity="0.2"/><circle cx="174.2" cy="269.4" r="1.3" fill="#2cb82c" fill-opacity="0.1" stroke="#2cb82c" stroke-width="0.55" stroke-opacity="0.3"/><circle cx="191" cy="272.6" r="1.2" fill="#2cb82c" fill-opacity="0.1" stroke="#2cb82c" stroke-width="0.55" stroke-opacity="0.2"/><circle cx="199.2" cy="272.5" r="1" fill="#2cb82c" fill-opacity="0.1" stroke="#2cb82c" stroke-width="0.55" stroke-opacity="0.2"/><rect x="192.5" y="291.4" width="12" height="1.2" fill="#f0f0f0"/></g>
<text x="172" y="254" font-size="9.2" fill="#f0f0f0" text-anchor="start" stroke="#f0f0f0" stroke-width="0.1">h</text>
<g clip-path="url(#cp0_5)"><rect x="207.4" y="244" width="35.1" height="49.8" fill="#000"/><linearGradient id="mg6" x1="0" y1="0" x2="0" y2="1"><stop offset="0" stop-color="#106010" stop-opacity="0.7"/><stop offset="0.1" stop-color="#22a822" stop-opacity="0.9"/><stop offset="0.2" stop-color="#1c921c" stop-opacity="0.9"/><stop offset="0.3" stop-color="#125e12" stop-opacity="0.8"/><stop offset="0.6" stop-color="#0c420c" stop-opacity="0.8"/><stop offset="0.8" stop-color="#082e08" stop-opacity="0.8"/><stop offset="1" stop-color="#041a04" stop-opacity="0.8"/></linearGradient><polygon points="207.4,244 242.5,244 242.5,294 207.4,294" fill="url(#mg6)"/><circle cx="219.3" cy="246.5" r="1.4" fill="#48e048" fill-opacity="0.4" stroke="#48e048" stroke-width="0.55" stroke-opacity="0.9"/><circle cx="207.5" cy="247.4" r="1.4" fill="#48e048" fill-opacity="0.3" stroke="#48e048" stroke-width="0.55" stroke-opacity="0.7"/><circle cx="231.2" cy="254.9" r="1.4" fill="#40d040" fill-opacity="0.4" stroke="#40d040" stroke-width="0.55" stroke-opacity="0.9"/><circle cx="231.9" cy="253.8" r="1.5" fill="#48e048" fill-opacity="0.4" stroke="#48e048" stroke-width="0.55" stroke-opacity="0.8"/><circle cx="215.6" cy="254.8" r="1.3" fill="#40d040" fill-opacity="0.3" stroke="#40d040" stroke-width="0.55" stroke-opacity="0.8"/><circle cx="237.1" cy="250.2" r="1.5" fill="#48e048" fill-opacity="0.3" stroke="#48e048" stroke-width="0.55" stroke-opacity="0.7"/><circle cx="217.3" cy="247.9" r="1.6" fill="#40d040" fill-opacity="0.3" stroke="#40d040" stroke-width="0.55" stroke-opacity="0.6"/><circle cx="211.6" cy="249.3" r="1.6" fill="#40d040" fill-opacity="0.4" stroke="#40d040" stroke-width="0.55" stroke-opacity="0.9"/><circle cx="237.3" cy="249.5" r="1.4" fill="#40d040" fill-opacity="0.4" stroke="#40d040" stroke-width="0.55" stroke-opacity="0.8"/><circle cx="221.2" cy="245.1" r="1.6" fill="#48e048" fill-opacity="0.3" stroke="#48e048" stroke-width="0.55" stroke-opacity="0.8"/><circle cx="230.5" cy="247.6" r="1.7" fill="#40d040" fill-opacity="0.3" stroke="#40d040" stroke-width="0.55" stroke-opacity="0.7"/><circle cx="233.4" cy="246.7" r="1.6" fill="#40d040" fill-opacity="0.4" stroke="#40d040" stroke-width="0.55" stroke-opacity="0.8"/><circle cx="222" cy="249.4" r="1.7" fill="#48e048" fill-opacity="0.4" stroke="#48e048" stroke-width="0.55" stroke-opacity="0.9"/><circle cx="215.8" cy="248.3" r="1.5" fill="#48e048" fill-opacity="0.3" stroke="#48e048" stroke-width="0.55" stroke-opacity="0.7"/><circle cx="208.3" cy="250.9" r="1.5" fill="#48e048" fill-opacity="0.4" stroke="#48e048" stroke-width="0.55" stroke-opacity="0.9"/><circle cx="228.5" cy="251.5" r="1.6" fill="#48e048" fill-opacity="0.4" stroke="#48e048" stroke-width="0.55" stroke-opacity="0.9"/><circle cx="223.6" cy="248.4" r="1.7" fill="#48e048" fill-opacity="0.4" stroke="#48e048" stroke-width="0.55" stroke-opacity="0.9"/><circle cx="236.3" cy="247.5" r="1.5" fill="#40d040" fill-opacity="0.3" stroke="#40d040" stroke-width="0.55" stroke-opacity="0.7"/><circle cx="208.4" cy="250.5" r="1.4" fill="#40d040" fill-opacity="0.4" stroke="#40d040" stroke-width="0.55" stroke-opacity="0.9"/><circle cx="217.7" cy="253.3" r="1.5" fill="#48e048" fill-opacity="0.3" stroke="#48e048" stroke-width="0.55" stroke-opacity="0.6"/><circle cx="217.8" cy="248.6" r="1.4" fill="#48e048" fill-opacity="0.3" stroke="#48e048" stroke-width="0.55" stroke-opacity="0.6"/><circle cx="212.8" cy="247.4" r="1.4" fill="#40d040" fill-opacity="0.3" stroke="#40d040" stroke-width="0.55" stroke-opacity="0.7"/><circle cx="208.2" cy="249.9" r="1.5" fill="#48e048" fill-opacity="0.4" stroke="#48e048" stroke-width="0.55" stroke-opacity="0.8"/><circle cx="231.9" cy="248.8" r="1.4" fill="#40d040" fill-opacity="0.4" stroke="#40d040" stroke-width="0.55" stroke-opacity="0.8"/><circle cx="236.8" cy="249.2" r="1.3" fill="#40d040" fill-opacity="0.4" stroke="#40d040" stroke-width="0.55" stroke-opacity="0.8"/><circle cx="236.3" cy="248.5" r="1.4" fill="#48e048" fill-opacity="0.3" stroke="#48e048" stroke-width="0.55" stroke-opacity="0.7"/><path d="M216.5 289.8h0M228.5 251h0M240.3 252.9h0M213.6 252.8h0M218.1 256.4h0M229.7 282.3h0M210.8 286.4h0M219.9 288.6h0M223.2 267.8h0M234.4 247h0M218.1 280.7h0M221.4 263.1h0M212 281.9h0M217.8 282.4h0M222.2 264h0M210.6 258.7h0M224.1 271.9h0M237.8 261.1h0M217.1 258.2h0M237 275.8h0M226.9 269.2h0M210 290h0M214.1 273.3h0M240.8 280.8h0M208.1 266.8h0M232.5 269.2h0M215.8 289.4h0M232 253.8h0M232.2 284.2h0M232.1 285.9h0M210 274.3h0M235.2 268.2h0M208.8 256.7h0M230.8 284.8h0M235.9 285.9h0M240.9 248h0M238.7 259h0M241.9 273.5h0M234.5 291.4h0M211.5 257.2h0M241.1 269.7h0M242.3 278h0M210 259.7h0M227.3 262.1h0M225.4 271.7h0M212 259.2h0M217.2 281.2h0M227.3 280.3h0M228.6 255.3h0M218.2 254.1h0M240.1 256.1h0M231.8 283.7h0M220.6 277.7h0M230 263.2h0" stroke="#000" stroke-width="1.6" stroke-opacity="0.2" stroke-linecap="round"/><path d="M219.1 273.9h0M217.1 258.2h0M220.9 256h0M234.8 262.4h0M235.9 272.4h0M208.5 266.7h0M241 259.8h0M224.5 288.1h0M221.4 283.5h0M223.6 287.3h0M217.1 260.7h0M211.3 291.4h0M214.1 256.8h0" stroke="#000" stroke-width="1.2" stroke-opacity="0.2" stroke-linecap="round"/><path d="M226.9 277.4h0M233.1 265.8h0M233.7 253h0M236.2 279h0M226.4 252.2h0M215.7 280h0M230.7 287.8h0M241.8 263.8h0M226.5 282.2h0M239.1 258.9h0M236.7 274.3h0M209.2 267.5h0M242 255.5h0M230.8 250h0" stroke="#000" stroke-width="1.6" stroke-opacity="0.4" stroke-linecap="round"/><path d="M220.5 263.3h0M236.4 252.4h0M240.5 257.7h0M230.4 283.6h0M225.3 283.6h0M226 248h0M233.7 258.7h0M215.6 291.6h0M235.4 290.7h0" stroke="#000" stroke-width="1.2" stroke-opacity="0.4" stroke-linecap="round"/><circle cx="214.7" cy="270.5" r="1.3" fill="#2cb82c" fill-opacity="0.2" stroke="#2cb82c" stroke-width="0.55" stroke-opacity="0.5"/><circle cx="222.4" cy="271.1" r="1.2" fill="#2cb82c" fill-opacity="0.2" stroke="#2cb82c" stroke-width="0.55" stroke-opacity="0.4"/><circle cx="215.2" cy="275.9" r="1.4" fill="#2cb82c" fill-opacity="0.2" stroke="#2cb82c" stroke-width="0.55" stroke-opacity="0.5"/><circle cx="217.1" cy="278.4" r="1.4" fill="#2cb82c" fill-opacity="0.2" stroke="#2cb82c" stroke-width="0.55" stroke-opacity="0.5"/><circle cx="208.3" cy="274.6" r="1.4" fill="#2cb82c" fill-opacity="0.3" stroke="#2cb82c" stroke-width="0.55" stroke-opacity="0.7"/><circle cx="220.6" cy="274.3" r="1.4" fill="#2cb82c" fill-opacity="0.3" stroke="#2cb82c" stroke-width="0.55" stroke-opacity="0.7"/><circle cx="224.2" cy="281.9" r="1.2" fill="#2cb82c" fill-opacity="0.2" stroke="#2cb82c" stroke-width="0.55" stroke-opacity="0.4"/><circle cx="214.1" cy="270.6" r="1.3" fill="#2cb82c" fill-opacity="0.2" stroke="#2cb82c" stroke-width="0.55" stroke-opacity="0.4"/><circle cx="225" cy="281.6" r="1.1" fill="#2cb82c" fill-opacity="0.2" stroke="#2cb82c" stroke-width="0.55" stroke-opacity="0.4"/><circle cx="223.1" cy="279.6" r="1.2" fill="#2cb82c" fill-opacity="0.2" stroke="#2cb82c" stroke-width="0.55" stroke-opacity="0.4"/><circle cx="225.3" cy="276.3" r="1.2" fill="#2cb82c" fill-opacity="0.3" stroke="#2cb82c" stroke-width="0.55" stroke-opacity="0.7"/><circle cx="228.5" cy="278.4" r="1.5" fill="#2cb82c" fill-opacity="0.2" stroke="#2cb82c" stroke-width="0.55" stroke-opacity="0.4"/><circle cx="221.4" cy="281.1" r="1.4" fill="#2cb82c" fill-opacity="0.2" stroke="#2cb82c" stroke-width="0.55" stroke-opacity="0.5"/><circle cx="210.1" cy="277.9" r="1.5" fill="#2cb82c" fill-opacity="0.2" stroke="#2cb82c" stroke-width="0.55" stroke-opacity="0.5"/><rect x="229.2" y="291.4" width="12" height="1.2" fill="#f0f0f0"/></g>
<text x="208.7" y="254" font-size="9.2" fill="#f0f0f0" text-anchor="start" stroke="#f0f0f0" stroke-width="0.1">i</text>
<g clip-path="url(#cp1_0)"><rect x="24" y="296" width="35.1" height="49.8" fill="#000"/><polygon points="24,302.5 59.1,298 59.1,330 24,331.6" fill="#1a0000" opacity="0.9"/><polygon points="24,331.6 59.1,330 59.1,346 24,346" fill="#1a0000" opacity="0.9"/><path d="M29 344.9h0M26.5 332.8h0M27.3 335.5h0M52.3 340.2h0M50.2 344.7h0M43.9 338h0M44.6 332.7h0" stroke="#800000" stroke-width="0.8" stroke-opacity="0.4" stroke-linecap="round"/><path d="M57.3 341.5h0M37.1 340.8h0M25 339.5h0M42 333.4h0M47.1 343.4h0M37.7 337.6h0M47.4 335h0" stroke="#a00000" stroke-width="1.2" stroke-opacity="0.4" stroke-linecap="round"/><path d="M34.6 340.8h0M39.4 335.8h0M37.1 341.3h0M30.2 332.1h0M33.4 335.5h0M55.2 338.3h0M30.9 333.8h0M39.3 343.1h0M25.1 340.7h0" stroke="#a00000" stroke-width="0.8" stroke-opacity="0.4" stroke-linecap="round"/><path d="M55 344.8h0M36.9 333.4h0M56.7 343.9h0M43.7 332.4h0M35.2 336.8h0" stroke="#800000" stroke-width="1.2" stroke-opacity="0.4" stroke-linecap="round"/><path d="M25.5 339.6h0M28.8 337.9h0M39.4 332.8h0M37.2 339h0M48.2 340.3h0M54.5 342h0M48 344.7h0M40.1 345h0M42 341.7h0M40.3 344.9h0M25.9 332.4h0M26.1 338.3h0M53.1 340.8h0M30.2 335.8h0M56.6 331.5h0M53.3 345h0M52.6 336.1h0M51.3 333.8h0M39.5 334.7h0" stroke="#a00000" stroke-width="0.8" stroke-opacity="0.6" stroke-linecap="round"/><path d="M43.1 331h0M30.6 334.1h0M43.1 337.6h0M38.9 337.1h0M56.3 334.8h0M43.9 341.1h0M58 330.2h0M56.1 334.6h0M52 346h0M53.7 334.1h0M56.2 334.9h0M37.2 341.1h0" stroke="#800000" stroke-width="0.8" stroke-opacity="0.6" stroke-linecap="round"/><path d="M58.3 343.9h0M36.9 335.1h0M33.5 341.6h0M24.6 344.9h0M35.3 337.5h0M58.6 337.5h0M35.7 336.9h0M49.3 334.6h0M26.7 334.2h0M30.5 342.4h0M44.8 335.7h0" stroke="#a00000" stroke-width="1.2" stroke-opacity="0.6" stroke-linecap="round"/><path d="M29.9 337.5h0M38.9 331.1h0M41.1 345.9h0M26.8 333h0M40.6 342.7h0M24.3 342.8h0M52.7 333.6h0" stroke="#800000" stroke-width="1.2" stroke-opacity="0.6" stroke-linecap="round"/><path d="M38.6 345.5h0M33.1 334.5h0M54 333.9h0M44.6 343.6h0M41.9 343h0M28.2 333.9h0M57.9 337.1h0M41.5 336.8h0M32.5 343.8h0M50.7 332.4h0M35.7 344.5h0M40.9 342.4h0M34.4 332.2h0" stroke="#a00000" stroke-width="1.2" stroke-opacity="0.8" stroke-linecap="round"/><path d="M41.2 334.1h0M36.4 341h0M40 341.6h0M25.6 339.1h0M47.5 338.7h0M34 340.9h0M58 338.1h0M45.1 334.8h0M30.7 338.9h0M31.9 341.5h0M40.6 339.7h0M26.3 335.3h0M56.8 336.4h0M50.6 342.7h0M25.3 338.9h0" stroke="#a00000" stroke-width="0.8" stroke-opacity="0.8" stroke-linecap="round"/><path d="M28.7 331.6h0M44.9 332.6h0M40.2 332.2h0M39.7 344.6h0M53.8 343.4h0M33 344.1h0M40.7 332.4h0M46.8 344h0" stroke="#800000" stroke-width="1.2" stroke-opacity="0.8" stroke-linecap="round"/><path d="M39 336.3h0M29.7 340.2h0M33.1 338.2h0M36.5 339.2h0M50.1 336.6h0M35.6 340.2h0M48.9 334.4h0M39.1 340h0M29.5 341.1h0M44.4 340.1h0M35.8 339.1h0M38.8 331.6h0M39.8 336.5h0M42.7 333.5h0M55.5 332.5h0M33.2 331.9h0M28.9 339.3h0" stroke="#800000" stroke-width="0.8" stroke-opacity="0.8" stroke-linecap="round"/><polygon points="24,296 59.1,296 59.1,298 24,302.5" fill="#1a0000" opacity="0.5"/><path d="M36.9 313.4h0M24.8 316.8h0M40.3 322.5h0M56.5 312.3h0M26.2 328.4h0" stroke="#b00000" stroke-width="1.6" stroke-opacity="0.4" stroke-linecap="round"/><path d="M52.3 317.6h0M37.8 313.8h0M48.4 303.7h0M48.5 319.7h0M49.4 302h0" stroke="#c00000" stroke-width="1.6" stroke-opacity="0.4" stroke-linecap="round"/><path d="M35 322h0M58.4 320.7h0M51.2 304.5h0M50.3 302.2h0" stroke="#d00000" stroke-width="2" stroke-opacity="0.4" stroke-linecap="round"/><path d="M45.4 327.4h0M58.4 317h0M55 305.7h0M36.9 316.7h0M48.8 311.6h0" stroke="#ff0000" stroke-width="1.6" stroke-opacity="0.4" stroke-linecap="round"/><path d="M46.8 326.1h0M25.4 308.8h0M33.1 302.1h0" stroke="#b00000" stroke-width="2" stroke-opacity="0.4" stroke-linecap="round"/><path d="M55.9 305.2h0M46.1 327.5h0" stroke="#d00000" stroke-width="1.6" stroke-opacity="0.4" stroke-linecap="round"/><path d="M35.4 329.9h0M43.2 329h0M47.6 319.7h0M37.6 326.5h0" stroke="#c00000" stroke-width="2" stroke-opacity="0.4" stroke-linecap="round"/><path d="M57.4 315h0M34.5 327.7h0M52.1 304h0" stroke="#ff0000" stroke-width="2" stroke-opacity="0.4" stroke-linecap="round"/><path d="M32.1 318.6h0M52.8 325h0M28.1 309.1h0M46.7 310.2h0M51.8 302.7h0M34.1 322.7h0M30.9 305.8h0M53.9 318.7h0M26.8 316.9h0M28.1 302.6h0M34.6 315.4h0M53.6 327.7h0" stroke="#c00000" stroke-width="2" stroke-opacity="0.6" stroke-linecap="round"/><path d="M34.8 322.4h0M27.7 328.6h0M49.8 312.6h0M45.8 329.3h0M28.9 326.5h0M38.1 328.6h0M55.5 311.2h0M56.5 311.4h0M26.7 314.2h0M28.5 315.4h0M33.4 319.9h0" stroke="#ff0000" stroke-width="1.6" stroke-opacity="0.6" stroke-linecap="round"/><path d="M45.2 328.6h0M28.2 308.7h0M31 311.7h0M26.7 306.9h0M54.5 324.1h0M49.5 312.2h0M43.2 310.4h0M26.4 311h0M31.8 303.6h0M25.7 327h0M46.3 328.1h0M42.3 316.9h0M39.6 325h0M47.2 303.6h0M55.4 313h0M58.5 306h0" stroke="#b00000" stroke-width="1.6" stroke-opacity="0.6" stroke-linecap="round"/><path d="M31 310.1h0M30.6 326.4h0M40.6 323h0M45.6 329.1h0M41 325.1h0M41.7 301.8h0M57.9 319.1h0M30.9 326.4h0M58.5 303.1h0M29.7 327.1h0" stroke="#c00000" stroke-width="1.6" stroke-opacity="0.6" stroke-linecap="round"/><path d="M30.7 328.3h0M42.1 305.7h0M56.9 325.8h0M43 308.4h0M30.6 327.6h0" stroke="#ff0000" stroke-width="2" stroke-opacity="0.6" stroke-linecap="round"/><path d="M53.7 312.2h0M43.1 320.1h0M33.5 326.2h0M38.2 316.1h0M51.6 309.7h0M39.4 327.7h0M32.6 306h0M25.2 312.4h0M49.5 315.3h0M37.3 317.4h0" stroke="#d00000" stroke-width="1.6" stroke-opacity="0.6" stroke-linecap="round"/><path d="M58 308.4h0M32.9 315.7h0M26.9 303h0M36.7 326.3h0M28.9 308.2h0M37.3 326.2h0M48.8 323.7h0M33 317.4h0" stroke="#d00000" stroke-width="2" stroke-opacity="0.6" stroke-linecap="round"/><path d="M36.2 313.5h0M29.3 308.2h0M45.5 309.5h0M54.1 310.7h0M37.1 317.6h0M29 321h0M59 315.6h0M55.9 319.3h0M32.6 309.7h0" stroke="#b00000" stroke-width="2" stroke-opacity="0.6" stroke-linecap="round"/><path d="M40.8 309.7h0M40.6 312.1h0M25.5 305.1h0M56.7 320.1h0M50.4 322.8h0M44.8 329.2h0" stroke="#d00000" stroke-width="1.6" stroke-opacity="0.8" stroke-linecap="round"/><path d="M53.5 299.7h0M41 327.6h0M27.2 325.6h0M42 314.6h0M40.5 313.8h0M56.4 302.9h0" stroke="#b00000" stroke-width="1.6" stroke-opacity="0.8" stroke-linecap="round"/><path d="M50.5 324.9h0M55 300.6h0M51.4 312.4h0M42.9 324.9h0M51.8 306.9h0" stroke="#ff0000" stroke-width="2" stroke-opacity="0.8" stroke-linecap="round"/><path d="M57.9 307.9h0M41.6 321.2h0M41.5 320.6h0M35.8 318.1h0M45.6 305.8h0M54.3 323.4h0M25.6 327h0" stroke="#ff0000" stroke-width="1.6" stroke-opacity="0.8" stroke-linecap="round"/><path d="M39.5 311.5h0M53.9 317h0M25.9 308.7h0M51.2 302h0" stroke="#d00000" stroke-width="2" stroke-opacity="0.8" stroke-linecap="round"/><path d="M38.2 306.3h0M29.8 328.4h0" stroke="#c00000" stroke-width="1.6" stroke-opacity="0.8" stroke-linecap="round"/><path d="M34.9 318.6h0M37.4 326h0M40.8 318.7h0M26.4 327.9h0M57.7 325.7h0" stroke="#c00000" stroke-width="2" stroke-opacity="0.8" stroke-linecap="round"/><path d="M40.5 311.6h0M53.3 328.7h0M42.7 324.6h0" stroke="#b00000" stroke-width="2" stroke-opacity="0.8" stroke-linecap="round"/><path d="M55 299.4h0M38.8 300.8h0M56.4 297.4h0" stroke="#ff1a1a" stroke-width="2" stroke-opacity="0.8" stroke-linecap="round"/><path d="M39.4 302.8h0" stroke="#ff1a1a" stroke-width="2.4" stroke-opacity="0.8" stroke-linecap="round"/><path d="M34.9 301.4h0" stroke="#ff0000" stroke-width="2" stroke-opacity="0.8" stroke-linecap="round"/><path d="M33.9 301.7h0" stroke="#ff0000" stroke-width="2.4" stroke-opacity="0.8" stroke-linecap="round"/><path d="M59 298h0M53.5 300h0M32.5 301.2h0M54.8 298.6h0" stroke="#ff1a1a" stroke-width="2" stroke-opacity="1" stroke-linecap="round"/><path d="M27.8 301.8h0" stroke="#ff0000" stroke-width="2" stroke-opacity="1" stroke-linecap="round"/><path d="M39.2 300.2h0M39.5 302.6h0" stroke="#ff1a1a" stroke-width="2.4" stroke-opacity="1" stroke-linecap="round"/><path d="M58 297.4h0" stroke="#ff0000" stroke-width="2.4" stroke-opacity="1" stroke-linecap="round"/><line x1="24" y1="302.5" x2="59.1" y2="298" stroke="#e4e4e4" stroke-width="1.0" stroke-dasharray="2.5 2.0"/><line x1="24" y1="331.6" x2="59.1" y2="330" stroke="#e4e4e4" stroke-width="1.0" stroke-dasharray="2.5 2.0"/><rect x="45.8" y="343.4" width="12" height="1.2" fill="#f0f0f0"/></g>
<text x="24.7" y="344.1" font-size="7.2" fill="#ff1010" text-anchor="start" font-weight="bold">Sox2</text>
<g clip-path="url(#cp1_1)"><rect x="60.7" y="296" width="35.1" height="49.8" fill="#000"/><polygon points="60.7,301.8 95.8,301.4 95.8,330.6 60.7,331" fill="#1a0000" opacity="0.9"/><polygon points="60.7,331 95.8,330.6 95.8,346 60.7,346" fill="#1a0000" opacity="0.9"/><path d="M77.5 332.8h0M85.3 334.5h0M76.5 337.8h0M82.9 334.4h0M85.7 344.6h0M67.7 343.1h0" stroke="#a00000" stroke-width="1.2" stroke-opacity="0.4" stroke-linecap="round"/><path d="M62.5 333.3h0M85.7 336.1h0M75.8 340.2h0M70.7 332.4h0M80.8 336h0M69.7 331.6h0M80.2 334.9h0M95.6 340.9h0M78.8 343.2h0M70.1 338.2h0M70.4 338.1h0M63.2 335h0" stroke="#a00000" stroke-width="0.8" stroke-opacity="0.4" stroke-linecap="round"/><path d="M88.2 342.4h0M91.5 330.9h0M84.5 344.7h0M89.6 341h0" stroke="#800000" stroke-width="1.2" stroke-opacity="0.4" stroke-linecap="round"/><path d="M62.8 336h0M64.6 338.3h0M93.2 336.9h0M76.1 333.7h0M84.9 342h0M85.3 334.7h0M86.2 338.6h0M82.6 335h0M85.5 331.6h0M62.4 340.6h0M68.7 332.4h0M61.2 342.4h0" stroke="#800000" stroke-width="0.8" stroke-opacity="0.4" stroke-linecap="round"/><path d="M94.1 331.4h0M81.7 343h0M80.5 341.2h0M77.5 343.3h0M72.9 337.8h0M65.6 341.2h0M95.2 331.1h0M92.2 337.1h0M83.4 342.2h0M65.9 341.1h0M69.5 345.4h0M87.2 338.8h0M94.9 335.9h0M92.7 338h0M85 342h0" stroke="#a00000" stroke-width="1.2" stroke-opacity="0.6" stroke-linecap="round"/><path d="M71.3 345h0M61.7 332.7h0M90.1 335.1h0M93.4 341.2h0M71.8 344.1h0M65.1 336.1h0M73.9 342.9h0M88.5 343.7h0M93.5 344.5h0M76.4 343.6h0M77.4 331h0M74 336.4h0M86.5 338.3h0M85.1 332.5h0M62.5 344.1h0M63.1 339.7h0M85.7 336.3h0" stroke="#a00000" stroke-width="0.8" stroke-opacity="0.6" stroke-linecap="round"/><path d="M77.2 333.6h0M92.9 334.3h0M63.1 344.9h0M77.1 335.2h0M83.6 341.4h0M82.3 339.7h0M85.4 345.6h0M64.7 345.6h0M72.3 339.9h0M90.5 332.8h0M84.1 341.3h0" stroke="#800000" stroke-width="1.2" stroke-opacity="0.6" stroke-linecap="round"/><path d="M90.8 340.8h0M91.8 337.1h0M73.3 336.1h0M65.4 331.8h0M62.3 343.1h0M82.8 339.8h0M60.8 342.3h0M90.3 345.3h0M88.6 344.4h0M68.5 341.6h0M92.4 341.6h0M92.9 344.5h0M79.6 340.9h0M64.6 331h0M74.3 333.4h0M87.5 338.2h0M79.6 337h0M92.6 338.5h0M76 337.6h0" stroke="#800000" stroke-width="0.8" stroke-opacity="0.6" stroke-linecap="round"/><path d="M72.9 331.9h0M61.9 338.2h0M94.9 333.6h0M68.5 340.9h0M60.9 338.7h0M83.8 332.7h0M81.5 342.7h0M86.1 340.5h0" stroke="#a00000" stroke-width="0.8" stroke-opacity="0.8" stroke-linecap="round"/><path d="M86.6 340.8h0M71.7 337.9h0M93.3 341.8h0M91 338.4h0M80.4 337.1h0M76 343.3h0M63.3 337.7h0M90.6 342.6h0M92.5 345.7h0M66.4 341.3h0" stroke="#800000" stroke-width="1.2" stroke-opacity="0.8" stroke-linecap="round"/><path d="M89.8 331.5h0M80.7 344.3h0M64.1 342.1h0M72.1 336.4h0M77.9 342.9h0M68 333.2h0M75.9 339.5h0M61.1 343.5h0M72.8 341h0M83.7 336.8h0" stroke="#800000" stroke-width="0.8" stroke-opacity="0.8" stroke-linecap="round"/><path d="M84.5 332.6h0M95.7 345h0M71.9 337.3h0M73.6 334.9h0M82.9 340.8h0M91 334h0" stroke="#a00000" stroke-width="1.2" stroke-opacity="0.8" stroke-linecap="round"/><polygon points="60.7,296 95.8,296 95.8,301.4 60.7,301.8" fill="#1a0000" opacity="0.5"/><path d="M68.7 303.3h0M64.1 306.5h0M78.6 327.3h0M66.5 323.1h0" stroke="#ff0000" stroke-width="2" stroke-opacity="0.4" stroke-linecap="round"/><path d="M72.1 311.5h0M74 305.5h0M75 307h0" stroke="#b00000" stroke-width="2" stroke-opacity="0.4" stroke-linecap="round"/><path d="M69.1 315.2h0M71 308.2h0M68 316.4h0" stroke="#ff0000" stroke-width="1.6" stroke-opacity="0.4" stroke-linecap="round"/><path d="M62.6 307.4h0M94.7 328.6h0M69.9 315.2h0M91.7 304.9h0M76.8 327.5h0M72.1 329.3h0M87.8 306.9h0" stroke="#c00000" stroke-width="1.6" stroke-opacity="0.4" stroke-linecap="round"/><path d="M87.4 306.9h0M88.1 322.7h0M80 323.1h0M91.1 310.9h0" stroke="#d00000" stroke-width="1.6" stroke-opacity="0.4" stroke-linecap="round"/><path d="M60.8 318.5h0M61.5 318.8h0M77.6 312.8h0M84.9 318.9h0" stroke="#b00000" stroke-width="1.6" stroke-opacity="0.4" stroke-linecap="round"/><path d="M76.2 315.9h0M93.8 328.7h0M70.2 315.1h0" stroke="#c00000" stroke-width="2" stroke-opacity="0.4" stroke-linecap="round"/><path d="M69.2 313.7h0" stroke="#d00000" stroke-width="2" stroke-opacity="0.4" stroke-linecap="round"/><path d="M92.1 317.4h0M90.8 327.3h0M69.7 303.6h0M75.7 308.4h0M78.4 315.2h0M85.6 313.7h0M69.3 326.7h0M68.7 315.2h0M82.8 315.9h0M72.3 311.2h0" stroke="#d00000" stroke-width="1.6" stroke-opacity="0.6" stroke-linecap="round"/><path d="M66.1 302.4h0M71.5 305.4h0M71 316.7h0M85.1 327.4h0M74.2 307.7h0M74.8 315.9h0" stroke="#ff0000" stroke-width="2" stroke-opacity="0.6" stroke-linecap="round"/><path d="M74.8 326.5h0M61.8 329.6h0M95.1 323.6h0M91.4 327.6h0M72.4 323.5h0M89.1 316.9h0M74.6 302.5h0M86.2 317.7h0" stroke="#ff0000" stroke-width="1.6" stroke-opacity="0.6" stroke-linecap="round"/><path d="M80.6 310.4h0M83.6 307h0M92.5 308.4h0M76.2 303.7h0M75.6 312h0M76.5 326.5h0M89.2 312h0M70.8 319.1h0M71.3 307.5h0M84.8 325.3h0" stroke="#c00000" stroke-width="1.6" stroke-opacity="0.6" stroke-linecap="round"/><path d="M93.3 325.4h0M79.8 323.4h0M78 324.2h0M93.2 322.3h0M86.6 318.2h0M85.1 328.2h0M78.4 309.8h0M61.5 320.4h0M66.6 315.3h0M60.8 326.9h0" stroke="#b00000" stroke-width="1.6" stroke-opacity="0.6" stroke-linecap="round"/><path d="M62.9 317.7h0M93.6 324.6h0M87.3 327.9h0M82 313.3h0M88.5 310.2h0" stroke="#c00000" stroke-width="2" stroke-opacity="0.6" stroke-linecap="round"/><path d="M87.8 320.4h0M92.7 314.9h0M90.8 311.1h0M95 326.3h0M88.6 303.4h0M93.9 313.2h0M64.3 319.1h0M83 314h0M88 316.6h0" stroke="#b00000" stroke-width="2" stroke-opacity="0.6" stroke-linecap="round"/><path d="M90.7 303.4h0M61 318.4h0M82.3 312.8h0M92.2 327.8h0M61.9 303.8h0" stroke="#d00000" stroke-width="2" stroke-opacity="0.6" stroke-linecap="round"/><path d="M78.3 317.7h0M69.1 311.6h0M83.4 317.9h0M79.7 326.6h0M91.4 321.2h0" stroke="#d00000" stroke-width="1.6" stroke-opacity="0.8" stroke-linecap="round"/><path d="M65.7 303.4h0M86.7 315h0M87.3 313h0M87.1 307.1h0M74.2 315.2h0M70.5 311.6h0M64.3 323h0M90.1 315.3h0" stroke="#ff0000" stroke-width="1.6" stroke-opacity="0.8" stroke-linecap="round"/><path d="M80.8 324h0M68.3 305.8h0M76.4 329.6h0M75.4 307.8h0" stroke="#ff0000" stroke-width="2" stroke-opacity="0.8" stroke-linecap="round"/><path d="M95.1 307.8h0M87.7 309.2h0M94.7 316.2h0M67.7 322h0" stroke="#c00000" stroke-width="1.6" stroke-opacity="0.8" stroke-linecap="round"/><path d="M89.3 319.2h0M63.2 302.4h0M76.8 313.3h0M75.6 318.9h0M87 320.8h0M83 306.1h0M95.5 308.3h0" stroke="#b00000" stroke-width="1.6" stroke-opacity="0.8" stroke-linecap="round"/><path d="M75 323.4h0M72.5 313h0M77.6 325.6h0M68.1 313.8h0M69.9 305.6h0M82.6 309.8h0M77.6 310.8h0M65.4 306.5h0M89.2 324.8h0" stroke="#c00000" stroke-width="2" stroke-opacity="0.8" stroke-linecap="round"/><path d="M81.5 312h0M71 328h0M77.1 317.3h0M88.4 303.5h0M75.4 302.7h0" stroke="#d00000" stroke-width="2" stroke-opacity="0.8" stroke-linecap="round"/><path d="M81.4 308.8h0" stroke="#b00000" stroke-width="2" stroke-opacity="0.8" stroke-linecap="round"/><path d="M81.3 302.8h0M71.7 301.4h0" stroke="#ff0000" stroke-width="2" stroke-opacity="0.8" stroke-linecap="round"/><path d="M70.2 302.9h0" stroke="#ff0000" stroke-width="2.4" stroke-opacity="0.8" stroke-linecap="round"/><path d="M63.7 302.7h0M74.5 302.6h0M78.2 303h0" stroke="#ff1a1a" stroke-width="2" stroke-opacity="0.8" stroke-linecap="round"/><path d="M91.6 301.9h0M66.8 303.6h0M66.6 300.8h0M80 303.6h0" stroke="#ff0000" stroke-width="2.4" stroke-opacity="1" stroke-linecap="round"/><path d="M63.2 303.1h0M78.9 302.4h0M84 302.6h0" stroke="#ff0000" stroke-width="2" stroke-opacity="1" stroke-linecap="round"/><path d="M61.5 303.2h0" stroke="#ff1a1a" stroke-width="2" stroke-opacity="1" stroke-linecap="round"/><line x1="60.7" y1="301.8" x2="95.8" y2="301.4" stroke="#e4e4e4" stroke-width="1.0" stroke-dasharray="2.5 2.0"/><line x1="60.7" y1="331" x2="95.8" y2="330.6" stroke="#e4e4e4" stroke-width="1.0" stroke-dasharray="2.5 2.0"/><rect x="82.5" y="343.4" width="12" height="1.2" fill="#f0f0f0"/></g>
<g clip-path="url(#cp1_2)"><rect x="97.4" y="296" width="35.1" height="49.8" fill="#000"/><polygon points="97.4,303.5 132.5,301.6 132.5,329.4 97.4,332" fill="#2a0000" opacity="0.9"/><polygon points="97.4,332 132.5,329.4 132.5,346 97.4,346" fill="#200000" opacity="0.9"/><path d="M123.7 345.8h0M98.7 342.9h0M99.2 345.1h0M118.1 333.5h0M129.6 336h0M111.9 334.3h0M113.6 339.3h0M112.2 333.6h0M113.1 339.8h0M115.7 333.3h0" stroke="#800000" stroke-width="1.2" stroke-opacity="0.4" stroke-linecap="round"/><path d="M122.6 338h0M97.8 336.3h0M125.8 335.2h0M125.5 337.1h0M118.2 341.9h0M122.4 336.3h0M119.1 338.8h0M102.5 343.7h0" stroke="#800000" stroke-width="0.8" stroke-opacity="0.4" stroke-linecap="round"/><path d="M130.8 336.6h0M123 333.6h0M97.4 345.2h0M103.8 331.6h0M123 340.6h0M119.5 341.2h0M99.1 340h0M115.5 343.2h0" stroke="#a00000" stroke-width="1.2" stroke-opacity="0.4" stroke-linecap="round"/><path d="M108 338.5h0M111.2 343.6h0M124.4 340.2h0M115.3 334h0M105.3 336.5h0" stroke="#a00000" stroke-width="0.8" stroke-opacity="0.4" stroke-linecap="round"/><path d="M128.1 334.1h0M111 341.4h0M112.9 338.2h0M122.2 338.7h0M120.1 338.1h0M107.7 335.1h0M107.8 341.2h0M101.3 332.5h0M115.4 333.3h0M119.5 345.1h0M99 341.1h0M101.7 345.6h0M102.8 334h0M130.9 334.5h0M110.9 335.6h0M131.6 335.8h0M115.7 341.9h0M124.5 338.1h0M130.4 339.7h0M109.5 336.1h0M114.6 334.1h0M109.1 343.6h0M130.3 330h0M112.4 344.6h0M128.7 335.1h0M106 332.6h0M118.7 336.2h0M122.1 337.5h0" stroke="#a00000" stroke-width="0.8" stroke-opacity="0.6" stroke-linecap="round"/><path d="M119 340.9h0M124.8 344.1h0M119 331.8h0M126.7 343.5h0M128.4 343.1h0M119.4 334.3h0M119.3 333.5h0M121.8 345.3h0M117.1 337.2h0M122.7 331.1h0M118.2 332.3h0M109.1 331.5h0M112.6 337.4h0M105.2 345.5h0" stroke="#800000" stroke-width="1.2" stroke-opacity="0.6" stroke-linecap="round"/><path d="M101.5 341.7h0M105.7 338.6h0M108.5 334.8h0M101.2 334.5h0M110.2 334.6h0M130 335.8h0M106.8 344.9h0M114.1 343.1h0M124.3 343.7h0M131.5 332.1h0M109.5 334.8h0M123.6 345.8h0M125.6 344.6h0M114 340.9h0M101.1 342.2h0M113.1 339.3h0" stroke="#800000" stroke-width="0.8" stroke-opacity="0.6" stroke-linecap="round"/><path d="M101.7 341.9h0M130.2 336.3h0M104.3 338.6h0M114.6 336h0M118.3 333.8h0M125 340.3h0M125.1 341.3h0M120.8 333.3h0M123.4 342.7h0M104.7 343.7h0M101.5 332.4h0" stroke="#a00000" stroke-width="1.2" stroke-opacity="0.6" stroke-linecap="round"/><path d="M109.8 335.7h0M101.4 339.1h0M113 335.2h0M128.3 340.2h0M127.7 338.4h0" stroke="#a00000" stroke-width="1.2" stroke-opacity="0.8" stroke-linecap="round"/><path d="M123.5 340.4h0M127.6 332h0M123.8 334.2h0M124.9 331.5h0M130.4 340.3h0M107.3 336.7h0M108.1 334.3h0M124.2 342.8h0M129.4 343.4h0M118.8 332.5h0M98.2 340h0M120.8 343.4h0M103.7 334.7h0M111 338.9h0M105.4 342.2h0" stroke="#800000" stroke-width="0.8" stroke-opacity="0.8" stroke-linecap="round"/><path d="M130.3 337.7h0M100.3 343.6h0M123.8 335h0M130.3 337.7h0M130 330.6h0M108.8 338h0M101 339.4h0M114.5 333.1h0M100.7 341.3h0M107.3 332.3h0M112.4 342h0M107.3 335.6h0" stroke="#a00000" stroke-width="0.8" stroke-opacity="0.8" stroke-linecap="round"/><path d="M101.2 336.8h0M124.8 332.3h0M124.5 337.1h0M105.2 335h0M112.1 335.3h0M116.4 344.3h0M124 339.9h0M98.3 339.1h0" stroke="#800000" stroke-width="1.2" stroke-opacity="0.8" stroke-linecap="round"/><polygon points="97.4,296 132.5,296 132.5,301.6 97.4,303.5" fill="#2a0000" opacity="0.5"/><path d="M101.3 307.1h0M99.8 314.4h0M109.6 311.1h0" stroke="#c00000" stroke-width="2.4" stroke-opacity="0.4" stroke-linecap="round"/><path d="M115.4 328.3h0M107.6 318.3h0M118.3 329h0M103.1 311.6h0M103.7 321.8h0M127.4 308.6h0M98 318.3h0M102.2 311.2h0M117.6 305.8h0" stroke="#b00000" stroke-width="2.4" stroke-opacity="0.4" stroke-linecap="round"/><path d="M128.9 310.1h0M104.5 312.7h0M104.9 312.5h0M104.2 314h0" stroke="#ff0000" stroke-width="2" stroke-opacity="0.4" stroke-linecap="round"/><path d="M104.2 330.3h0M104.3 322.2h0M126.5 311.1h0" stroke="#d00000" stroke-width="2" stroke-opacity="0.4" stroke-linecap="round"/><path d="M103.1 311.4h0M104.4 306.2h0M116.5 315.8h0M132.2 324.5h0M104 310.3h0" stroke="#ff0000" stroke-width="2.4" stroke-opacity="0.4" stroke-linecap="round"/><path d="M111.3 304.4h0M117.3 303.4h0" stroke="#d00000" stroke-width="1.6" stroke-opacity="0.4" stroke-linecap="round"/><path d="M108.1 329.5h0M122 329.1h0M112.3 313.1h0" stroke="#b00000" stroke-width="1.6" stroke-opacity="0.4" stroke-linecap="round"/><path d="M109.6 320.1h0M125.3 304h0M106.1 309.5h0M105.5 321.4h0M124.9 313.2h0" stroke="#d00000" stroke-width="2.4" stroke-opacity="0.4" stroke-linecap="round"/><path d="M110.2 329.1h0" stroke="#c00000" stroke-width="1.6" stroke-opacity="0.4" stroke-linecap="round"/><path d="M123.6 308.4h0M106.6 322.5h0M97.4 310.9h0M113.1 323.7h0M100.3 328.1h0M102.1 318.8h0" stroke="#c00000" stroke-width="2" stroke-opacity="0.4" stroke-linecap="round"/><path d="M126.3 322.6h0M110.4 317.3h0M121.4 327.6h0M117.5 304h0" stroke="#b00000" stroke-width="2" stroke-opacity="0.4" stroke-linecap="round"/><path d="M109.2 320.2h0M128.9 310.6h0M115.6 321.7h0M126.1 318.8h0M110.1 311.7h0M112.2 326.5h0M109.6 305.5h0M118.1 307.4h0M106.2 307.4h0" stroke="#b00000" stroke-width="2" stroke-opacity="0.6" stroke-linecap="round"/><path d="M114.1 327.5h0M100.8 309.2h0M126.4 328.1h0M129.2 307.2h0M128.7 320.6h0M98.8 320.8h0" stroke="#b00000" stroke-width="1.6" stroke-opacity="0.6" stroke-linecap="round"/><path d="M101.5 317.4h0M106.6 324.1h0M98.8 310.3h0M102.7 325.2h0M131.2 321.2h0" stroke="#d00000" stroke-width="2.4" stroke-opacity="0.6" stroke-linecap="round"/><path d="M118.9 305.4h0M128.7 312.9h0M101.3 327.4h0M103.3 328.7h0" stroke="#b00000" stroke-width="2.4" stroke-opacity="0.6" stroke-linecap="round"/><path d="M102.2 324h0M105.5 323.5h0M100.5 321.1h0M98 307.9h0M104.5 329h0M110.2 318.1h0M128.4 308.5h0M104 325.4h0M112.4 310.8h0M123.3 305.8h0M131.6 325.4h0M126 305.2h0M115 309.5h0M103.9 304.1h0" stroke="#c00000" stroke-width="2" stroke-opacity="0.6" stroke-linecap="round"/><path d="M118.6 304.9h0M130.3 326.1h0M99.9 312.1h0M124.1 322.6h0M111.1 319.9h0M115.3 316.7h0M119.8 319.3h0M127.1 306h0M98.8 309h0M121.5 323.2h0" stroke="#ff0000" stroke-width="2.4" stroke-opacity="0.6" stroke-linecap="round"/><path d="M125.3 311.8h0M99.5 312h0M117.4 327.5h0M98.5 305.8h0M100.5 318h0M106.6 312.5h0" stroke="#ff0000" stroke-width="2" stroke-opacity="0.6" stroke-linecap="round"/><path d="M108.7 323.6h0M114.3 320.7h0M105.6 314.5h0M129.9 318.3h0M131.3 316h0M102.1 323.3h0M116.2 311.4h0M101.9 329.5h0" stroke="#c00000" stroke-width="2.4" stroke-opacity="0.6" stroke-linecap="round"/><path d="M116.3 311.8h0M123.7 307.6h0M132.1 318.3h0M131.2 311.5h0M121.6 307.5h0M98.1 329.3h0M111.3 324.6h0M106.1 323.9h0M130.7 309.6h0M99.1 321.4h0" stroke="#d00000" stroke-width="2" stroke-opacity="0.6" stroke-linecap="round"/><path d="M130.4 303.8h0M128.6 321.4h0M124.7 311.5h0" stroke="#c00000" stroke-width="1.6" stroke-opacity="0.6" stroke-linecap="round"/><path d="M119 329.1h0M128.4 323.7h0" stroke="#d00000" stroke-width="1.6" stroke-opacity="0.6" stroke-linecap="round"/><path d="M113.7 304.2h0M130.9 325.1h0M121.9 314.4h0" stroke="#ff0000" stroke-width="1.6" stroke-opacity="0.6" stroke-linecap="round"/><path d="M105.3 307.1h0M98 322.3h0M122.8 317.5h0M117.8 325.8h0M131 303.5h0M128.1 312.8h0M130.9 302.2h0" stroke="#ff0000" stroke-width="2.4" stroke-opacity="0.8" stroke-linecap="round"/><path d="M110.6 329.9h0M118.4 305.2h0" stroke="#c00000" stroke-width="1.6" stroke-opacity="0.8" stroke-linecap="round"/><path d="M122.5 314.2h0M105.4 321.4h0M112.8 303.7h0" stroke="#b00000" stroke-width="2" stroke-opacity="0.8" stroke-linecap="round"/><path d="M98 315.5h0M120.9 309.5h0M131.4 317.5h0M102.9 314.2h0" stroke="#b00000" stroke-width="1.6" stroke-opacity="0.8" stroke-linecap="round"/><path d="M113.3 303.4h0M108.1 307.5h0M101.4 310h0M124.8 313.2h0M106.6 311h0M128.3 303.7h0" stroke="#c00000" stroke-width="2" stroke-opacity="0.8" stroke-linecap="round"/><path d="M130.4 326.3h0M101 311h0" stroke="#ff0000" stroke-width="2" stroke-opacity="0.8" stroke-linecap="round"/><path d="M118.3 323h0M123.2 313.9h0M100.2 320.5h0M105.2 303.8h0" stroke="#b00000" stroke-width="2.4" stroke-opacity="0.8" stroke-linecap="round"/><path d="M128 305.9h0M130.4 310.6h0M120.3 313.7h0M121.7 319.6h0M129.3 322.6h0" stroke="#d00000" stroke-width="1.6" stroke-opacity="0.8" stroke-linecap="round"/><path d="M104.8 327h0M126 302.6h0" stroke="#c00000" stroke-width="2.4" stroke-opacity="0.8" stroke-linecap="round"/><path d="M128.1 318.4h0M124.3 325.2h0M100 310.6h0M107.9 307.5h0" stroke="#d00000" stroke-width="2.4" stroke-opacity="0.8" stroke-linecap="round"/><path d="M119 313.4h0M108.1 326h0M115.8 329.5h0" stroke="#ff0000" stroke-width="1.6" stroke-opacity="0.8" stroke-linecap="round"/><path d="M125.5 315.5h0M117.9 313.1h0M126.9 302.7h0" stroke="#d00000" stroke-width="2" stroke-opacity="0.8" stroke-linecap="round"/><path d="M109.1 305.4h0" stroke="#ff1a1a" stroke-width="2.4" stroke-opacity="0.8" stroke-linecap="round"/><path d="M109.9 303h0" stroke="#ff1a1a" stroke-width="2" stroke-opacity="0.8" stroke-linecap="round"/><path d="M98.8 305.2h0" stroke="#ff0000" stroke-width="2" stroke-opacity="0.8" stroke-linecap="round"/><path d="M113.2 303h0M98 304.4h0M105.5 303.5h0M99.8 304.2h0M131.7 302.9h0" stroke="#ff0000" stroke-width="2.4" stroke-opacity="1" stroke-linecap="round"/><path d="M108.7 304.2h0M107.8 303h0M121.4 304.5h0M130.3 301.6h0" stroke="#ff1a1a" stroke-width="2.4" stroke-opacity="1" stroke-linecap="round"/><path d="M123.8 303.7h0" stroke="#ff1a1a" stroke-width="2" stroke-opacity="1" stroke-linecap="round"/><path d="M108.3 303.3h0" stroke="#ff0000" stroke-width="2" stroke-opacity="1" stroke-linecap="round"/><line x1="97.4" y1="303.5" x2="132.5" y2="301.6" stroke="#e4e4e4" stroke-width="1.0" stroke-dasharray="2.5 2.0"/><line x1="97.4" y1="332" x2="132.5" y2="329.4" stroke="#e4e4e4" stroke-width="1.0" stroke-dasharray="2.5 2.0"/><rect x="119.2" y="343.4" width="12" height="1.2" fill="#f0f0f0"/></g>
<g clip-path="url(#cp1_3)"><rect x="134" y="296" width="35.1" height="49.8" fill="#000"/><polygon points="134,299.5 169.1,298 169.1,322.4 134,327.3" fill="#220000" opacity="0.9"/><polygon points="134,327.3 169.1,322.4 169.1,346 134,346" fill="#1a0000" opacity="0.9"/><path d="M148.9 342.8h0M166.4 325.3h0M161.8 324.4h0M135.7 339.2h0M141.6 343.1h0M164.5 335.2h0M153.8 326.9h0M140.7 336.6h0" stroke="#a00000" stroke-width="0.8" stroke-opacity="0.4" stroke-linecap="round"/><path d="M156.8 328.7h0M149 342.7h0M167 328.8h0M146.9 326.9h0M156.7 343.7h0M167 345.3h0M144.4 332.5h0M154.9 327.5h0M148.4 327.7h0M159.8 339.6h0" stroke="#800000" stroke-width="0.8" stroke-opacity="0.4" stroke-linecap="round"/><path d="M137.4 335.1h0M146 325.6h0M152.3 332.5h0M154.3 328.7h0M135.3 332.4h0M160 334.4h0M156 336h0M140.3 326.8h0M153.2 342.4h0" stroke="#800000" stroke-width="1.2" stroke-opacity="0.4" stroke-linecap="round"/><path d="M161.8 332.8h0M157.1 345.7h0M147.2 326.5h0M162.6 336.8h0M156.3 329.2h0" stroke="#a00000" stroke-width="1.2" stroke-opacity="0.4" stroke-linecap="round"/><path d="M147.3 335.7h0M152.4 328.6h0M157.5 328.7h0M157.1 333h0M149.6 343.3h0M160.3 335.2h0M161.7 344.8h0M150.6 341.9h0M159.2 338h0M144.9 341.2h0M136.6 327.8h0M142.7 340.6h0" stroke="#a00000" stroke-width="1.2" stroke-opacity="0.6" stroke-linecap="round"/><path d="M162 323.9h0M160.6 327.7h0M150.1 334h0M163.3 333.3h0M142.2 339.6h0M156.6 330h0M147.2 344h0M153.2 331.7h0M157.7 324.5h0M149.6 330.1h0M151.8 333.1h0M139.9 344.2h0M144.3 337.4h0M153.6 341.2h0M135.4 334.5h0M159.8 336.7h0M137.6 330.8h0M136.2 337.4h0M166.4 330h0M152.3 337h0M142.8 345.5h0M162.6 323.9h0M167.5 325.7h0M146.4 337.5h0M150.7 343.8h0M150.5 336h0M167.1 325.5h0M167.4 341.3h0M151.7 341.5h0" stroke="#a00000" stroke-width="0.8" stroke-opacity="0.6" stroke-linecap="round"/><path d="M136 341.6h0M137.9 337.8h0M143.7 335.9h0M155.3 335.7h0M148.2 328.6h0M144 334.2h0M142.8 331.1h0M164.3 331h0M167 343.9h0M145.6 331.6h0M161.8 332.7h0M163.2 343.6h0M152.9 324.9h0M151.1 337h0M148.5 341.4h0M167.7 337h0" stroke="#800000" stroke-width="0.8" stroke-opacity="0.6" stroke-linecap="round"/><path d="M157.3 338.4h0M165.4 340.6h0M163.4 334.2h0M158.7 344.5h0M145.4 345.1h0M143.7 339h0M165.1 344.2h0M147.3 339.9h0M165.4 340.8h0M136.4 330.6h0M154.4 342.2h0M167 345.6h0M157.9 332.5h0M146.3 345.3h0M163.1 334.9h0M148.7 338h0M138.4 342h0M158.8 327.5h0" stroke="#800000" stroke-width="1.2" stroke-opacity="0.6" stroke-linecap="round"/><path d="M144.8 344.4h0M168 330.9h0M161.8 326.9h0M143 331.1h0M165.3 327.2h0M163.9 345.5h0M138.3 336.2h0M168 342h0M151.5 344.3h0M163.8 345.5h0M163.8 340.4h0M164.4 333.2h0" stroke="#a00000" stroke-width="1.2" stroke-opacity="0.8" stroke-linecap="round"/><path d="M152.3 345.3h0M137.2 342.3h0M153.5 345.6h0M152.8 326.8h0M146.5 345.5h0M136.8 338h0M147.1 331.4h0M143 344.2h0M164.4 344.9h0M153.8 331.6h0" stroke="#800000" stroke-width="1.2" stroke-opacity="0.8" stroke-linecap="round"/><path d="M143.5 332.5h0M160.3 328.4h0M167.5 326.5h0M162.6 323.6h0M153.8 332.6h0M168.9 341.3h0M163 333h0M148.2 337.8h0M147.4 342.5h0M164.3 326h0" stroke="#800000" stroke-width="0.8" stroke-opacity="0.8" stroke-linecap="round"/><path d="M158.4 331.3h0M153.4 326.9h0M154.3 328.8h0M153.8 329.6h0M147.2 331.5h0M167.4 343.7h0M163.9 341.3h0M168.2 342.6h0M144.3 329.5h0M167.7 338.4h0M165.4 331.5h0" stroke="#a00000" stroke-width="0.8" stroke-opacity="0.8" stroke-linecap="round"/><polygon points="134,296 169.1,296 169.1,298 134,299.5" fill="#220000" opacity="0.5"/><path d="M142.2 317.9h0M136.8 309.8h0M147.3 300.2h0M140.6 303.4h0" stroke="#c00000" stroke-width="2" stroke-opacity="0.4" stroke-linecap="round"/><path d="M159.5 300.6h0M163.1 314h0M151.3 311.8h0M154.5 309.1h0" stroke="#c00000" stroke-width="2.4" stroke-opacity="0.4" stroke-linecap="round"/><path d="M151.9 304.9h0M140.5 307.4h0M142.5 302.1h0M134.8 323.1h0M147 303.1h0M140.4 305.7h0" stroke="#b00000" stroke-width="2" stroke-opacity="0.4" stroke-linecap="round"/><path d="M158 299.6h0M159.2 312.6h0M158.7 308.4h0M146.7 314.1h0M165.5 301.9h0" stroke="#d00000" stroke-width="2" stroke-opacity="0.4" stroke-linecap="round"/><path d="M157.7 317.6h0M140.1 301h0M141.4 310.7h0" stroke="#d00000" stroke-width="2.4" stroke-opacity="0.4" stroke-linecap="round"/><path d="M165.3 312.6h0" stroke="#b00000" stroke-width="2.4" stroke-opacity="0.4" stroke-linecap="round"/><path d="M136.3 313.7h0M165.4 314.6h0M143.3 321.6h0" stroke="#ff0000" stroke-width="2" stroke-opacity="0.4" stroke-linecap="round"/><path d="M134.3 304.6h0M138.5 317.7h0" stroke="#b00000" stroke-width="1.6" stroke-opacity="0.4" stroke-linecap="round"/><path d="M162.7 302.3h0M136.5 300.8h0M137.2 316.9h0" stroke="#d00000" stroke-width="1.6" stroke-opacity="0.4" stroke-linecap="round"/><path d="M141.8 317.6h0" stroke="#c00000" stroke-width="1.6" stroke-opacity="0.4" stroke-linecap="round"/><path d="M144.1 316.7h0M162.4 313.9h0M167.9 303.7h0M160.3 309.4h0M135.2 311.9h0" stroke="#ff0000" stroke-width="1.6" stroke-opacity="0.6" stroke-linecap="round"/><path d="M137.1 310.6h0M150.8 309h0M166.2 313.4h0M145.8 301.7h0M146.4 301h0M160.1 308.2h0M143.5 309.7h0M158.2 308.6h0M139.7 313.1h0" stroke="#ff0000" stroke-width="2.4" stroke-opacity="0.6" stroke-linecap="round"/><path d="M165.4 316.5h0M134.2 309.8h0M151.6 307.3h0M138.2 324.2h0M152.3 312.3h0M167.1 321.3h0M162 304.6h0M148 307.7h0M136.2 325.4h0M150.3 320.1h0M136.7 311.9h0" stroke="#d00000" stroke-width="2" stroke-opacity="0.6" stroke-linecap="round"/><path d="M140.9 311.5h0M160 307.2h0M154.4 319h0M150.5 307.4h0M153.9 299.2h0M165.3 319h0" stroke="#b00000" stroke-width="2" stroke-opacity="0.6" stroke-linecap="round"/><path d="M137.6 301.6h0M164.6 309.9h0M134.9 321.9h0" stroke="#b00000" stroke-width="1.6" stroke-opacity="0.6" stroke-linecap="round"/><path d="M168 320.1h0M146.2 311.9h0M147.9 320.9h0M156.4 303.9h0M158.3 302.5h0M143.8 305.7h0" stroke="#b00000" stroke-width="2.4" stroke-opacity="0.6" stroke-linecap="round"/><path d="M166.1 302.4h0M146.3 316.6h0M156.2 313.2h0M142.2 311h0M150.9 301.1h0M154.3 318.9h0M153.2 300.2h0M141.2 305.8h0M161 315.9h0M151.5 306.4h0" stroke="#ff0000" stroke-width="2" stroke-opacity="0.6" stroke-linecap="round"/><path d="M142.7 321.8h0M160.3 299.1h0M136 301.7h0M155 310.7h0M167.4 302.7h0M149.1 321.7h0M150.2 317h0" stroke="#d00000" stroke-width="2.4" stroke-opacity="0.6" stroke-linecap="round"/><path d="M168.2 312.7h0M134.5 312h0" stroke="#c00000" stroke-width="2.4" stroke-opacity="0.6" stroke-linecap="round"/><path d="M136.7 307.4h0M143.6 323.5h0M143.7 322.4h0M160.6 319.7h0" stroke="#c00000" stroke-width="1.6" stroke-opacity="0.6" stroke-linecap="round"/><path d="M136.4 301.2h0M135.9 304.8h0M158.2 311h0" stroke="#d00000" stroke-width="1.6" stroke-opacity="0.6" stroke-linecap="round"/><path d="M167.5 315.8h0M151.8 321.8h0M161.8 308.6h0M148.6 307.5h0M141.9 317.8h0M137.4 315h0" stroke="#c00000" stroke-width="2" stroke-opacity="0.6" stroke-linecap="round"/><path d="M148.4 300.5h0M165.2 311.1h0M142.3 309.4h0M166.8 313.2h0M137.9 318.6h0M146.8 306.5h0" stroke="#c00000" stroke-width="2" stroke-opacity="0.8" stroke-linecap="round"/><path d="M142 305.2h0M143.5 315.9h0M159.4 307.4h0" stroke="#b00000" stroke-width="1.6" stroke-opacity="0.8" stroke-linecap="round"/><path d="M157 314.1h0M168.4 307.5h0M146.8 308.8h0M165 316.4h0M142.6 304.7h0M139.1 313h0" stroke="#b00000" stroke-width="2" stroke-opacity="0.8" stroke-linecap="round"/><path d="M150.4 313h0M164.3 307.5h0M157.4 319.2h0M151.5 321.6h0M151.2 316.4h0" stroke="#ff0000" stroke-width="2" stroke-opacity="0.8" stroke-linecap="round"/><path d="M164.7 305.7h0M135.2 303.3h0M141.8 318.8h0" stroke="#d00000" stroke-width="2.4" stroke-opacity="0.8" stroke-linecap="round"/><path d="M154.6 323.2h0M162.4 315.9h0M158.2 318.7h0" stroke="#d00000" stroke-width="1.6" stroke-opacity="0.8" stroke-linecap="round"/><path d="M147.4 318.3h0M147 310.7h0M158.3 305.5h0" stroke="#d00000" stroke-width="2" stroke-opacity="0.8" stroke-linecap="round"/><path d="M159.7 322h0M138.3 320.9h0" stroke="#c00000" stroke-width="2.4" stroke-opacity="0.8" stroke-linecap="round"/><path d="M152.5 318.1h0" stroke="#ff0000" stroke-width="2.4" stroke-opacity="0.8" stroke-linecap="round"/><path d="M168.7 311h0" stroke="#c00000" stroke-width="1.6" stroke-opacity="0.8" stroke-linecap="round"/><path d="M156.3 316.8h0" stroke="#b00000" stroke-width="2.4" stroke-opacity="0.8" stroke-linecap="round"/><path d="M150.5 308.2h0M143.8 304.5h0" stroke="#ff0000" stroke-width="1.6" stroke-opacity="0.8" stroke-linecap="round"/><path d="M147.7 301.1h0M141.7 301.4h0M160.4 300.9h0" stroke="#ff0000" stroke-width="2" stroke-opacity="0.8" stroke-linecap="round"/><path d="M135 299.1h0M137.6 302.1h0M134.8 299.7h0M168.7 300.8h0" stroke="#ff1a1a" stroke-width="2.4" stroke-opacity="1" stroke-linecap="round"/><path d="M155.3 300.5h0M168.2 300.5h0" stroke="#ff0000" stroke-width="2" stroke-opacity="1" stroke-linecap="round"/><path d="M159.8 298.3h0M167.2 297.4h0" stroke="#ff1a1a" stroke-width="2" stroke-opacity="1" stroke-linecap="round"/><path d="M159.8 299.7h0M142.8 301.4h0M134.3 301.1h0" stroke="#ff0000" stroke-width="2.4" stroke-opacity="1" stroke-linecap="round"/><line x1="134" y1="299.5" x2="169.1" y2="298" stroke="#e4e4e4" stroke-width="1.0" stroke-dasharray="2.5 2.0"/><line x1="134" y1="327.3" x2="169.1" y2="322.4" stroke="#e4e4e4" stroke-width="1.0" stroke-dasharray="2.5 2.0"/><rect x="155.8" y="343.4" width="12" height="1.2" fill="#f0f0f0"/></g>
<g clip-path="url(#cp1_4)"><rect x="170.7" y="296" width="35.1" height="49.8" fill="#000"/><polygon points="170.7,303.3 205.8,304.6 205.8,346 170.7,346" fill="#220000" opacity="0.9"/><path d="M187.9 317.5h0M178.7 330.4h0M195.3 311.2h0M174.4 311.8h0M195.2 309h0M205.3 313.2h0M181.6 332.6h0" stroke="#500000" stroke-width="1.6" stroke-opacity="0.6" stroke-linecap="round"/><path d="M184.9 320.8h0M170.8 316.8h0M194.4 312.7h0M178.9 321.8h0" stroke="#500000" stroke-width="2" stroke-opacity="0.6" stroke-linecap="round"/><path d="M196.1 330.8h0M171.3 314.5h0M186.3 304.7h0M170.9 319.6h0M198.6 311.3h0M197.6 311h0M196 328.5h0" stroke="#700000" stroke-width="2.4" stroke-opacity="0.6" stroke-linecap="round"/><path d="M171.3 335.4h0M184.9 320.6h0M173.3 333.5h0M177.7 335.7h0M189.3 315.2h0M187.8 312.5h0M173.6 308.3h0M194.2 330.6h0M185.6 308.7h0M193.2 309.4h0M186.4 316.6h0" stroke="#a00000" stroke-width="2.4" stroke-opacity="0.6" stroke-linecap="round"/><path d="M193.5 332.5h0M174.4 313.8h0M204.9 329.7h0M185.3 325.4h0" stroke="#900000" stroke-width="1.6" stroke-opacity="0.6" stroke-linecap="round"/><path d="M177.1 333.7h0M188.4 320.4h0M177.5 323.2h0M178.5 332.7h0M184.6 318.5h0M192.5 310.2h0M175.2 317.3h0" stroke="#900000" stroke-width="2.4" stroke-opacity="0.6" stroke-linecap="round"/><path d="M175.8 333.5h0M187.1 307.1h0M187.1 319h0" stroke="#a00000" stroke-width="1.6" stroke-opacity="0.6" stroke-linecap="round"/><path d="M174.2 310.3h0M203.4 313.7h0M179.9 316.9h0M171.8 305.6h0M178.3 317.9h0" stroke="#700000" stroke-width="1.6" stroke-opacity="0.6" stroke-linecap="round"/><path d="M180.7 330.8h0M182.4 305.8h0M205 316.2h0M194.7 310.8h0M191.1 313.9h0M179.6 303.8h0M195 331.7h0M178 307.7h0M180.7 325.2h0" stroke="#700000" stroke-width="2" stroke-opacity="0.6" stroke-linecap="round"/><path d="M183.9 308h0M178.6 332.9h0M175.2 321.1h0M171.5 315.1h0M178.3 335.9h0M194.2 309.3h0M174 323.4h0M176.1 304.3h0M177.9 303.9h0" stroke="#900000" stroke-width="2" stroke-opacity="0.6" stroke-linecap="round"/><path d="M185.9 303.9h0M176.2 316.3h0M184.1 321.5h0M177.6 305.7h0M203.9 327.3h0M205.8 329h0" stroke="#a00000" stroke-width="2" stroke-opacity="0.6" stroke-linecap="round"/><path d="M178.2 313.7h0M199.6 309.7h0M201 325.4h0M196.5 315.6h0M172.1 315.5h0M173.4 322.2h0M189.7 332.3h0M201.5 308.4h0" stroke="#500000" stroke-width="2.4" stroke-opacity="0.6" stroke-linecap="round"/><path d="M172.8 336.5h0M182.9 332.1h0M199.4 317.1h0M201.8 317.6h0M175.5 319.3h0M170.8 311.9h0M177.5 329.6h0M192.5 326.4h0M174.3 311.8h0M201.9 323.1h0M200.8 324.1h0M179.8 311.1h0M181.7 323.8h0M185.7 318.7h0M184.1 304h0" stroke="#a00000" stroke-width="2.4" stroke-opacity="0.8" stroke-linecap="round"/><path d="M173.9 317.7h0M200.5 310.9h0M184.5 330.7h0M179.9 305.1h0M195.7 330.7h0" stroke="#700000" stroke-width="1.6" stroke-opacity="0.8" stroke-linecap="round"/><path d="M191.2 333.1h0M176 332.8h0M192.2 313.3h0M181.9 311.5h0M187.9 330.3h0M198.4 329.1h0M190.4 318.1h0M199.5 309.7h0" stroke="#700000" stroke-width="2.4" stroke-opacity="0.8" stroke-linecap="round"/><path d="M193.1 311.2h0M176.9 310.8h0M193.7 313.2h0M193.5 325.7h0M199.2 304.5h0M191 307.4h0M198.9 315.3h0M187.7 311.1h0M184.6 316.9h0" stroke="#700000" stroke-width="2" stroke-opacity="0.8" stroke-linecap="round"/><path d="M176.7 332.3h0M174.9 320.6h0M184.8 328.5h0M171.6 326.1h0M179 319.3h0M186.4 312.1h0M185.9 315.9h0M173.4 304.4h0" stroke="#900000" stroke-width="2" stroke-opacity="0.8" stroke-linecap="round"/><path d="M177.2 327.9h0M171.8 313.1h0M194.1 332.8h0M188.1 306.4h0M178.8 320.1h0M190.2 309.1h0M193.2 315.1h0M171.9 320.8h0M172.1 335.1h0M204.2 328.6h0" stroke="#500000" stroke-width="2.4" stroke-opacity="0.8" stroke-linecap="round"/><path d="M176.1 336h0M184.8 312.3h0M175.9 326.1h0" stroke="#500000" stroke-width="1.6" stroke-opacity="0.8" stroke-linecap="round"/><path d="M197.8 311.7h0M170.8 304.5h0M171.6 320.7h0M192.9 322.7h0M199 315.8h0M182.5 330.9h0M174.4 312.6h0M183.4 314.2h0" stroke="#500000" stroke-width="2" stroke-opacity="0.8" stroke-linecap="round"/><path d="M178.5 319.6h0M179.3 324.5h0M172 328.6h0M187.2 308h0M183.4 314.5h0M203 309.5h0M179.8 318.4h0M190.8 317.5h0M172.6 315.9h0M185.1 334.1h0" stroke="#900000" stroke-width="2.4" stroke-opacity="0.8" stroke-linecap="round"/><path d="M193.5 317.7h0M186.2 312.1h0M188.4 308.1h0M204.5 323.9h0M202.6 325.4h0M177.5 325.1h0M189.3 333.8h0M196.6 322.4h0M175.3 324.5h0M177.8 325.3h0" stroke="#a00000" stroke-width="2" stroke-opacity="0.8" stroke-linecap="round"/><path d="M178 320.1h0M174.8 320.8h0M198.2 317.4h0M198.6 306.5h0" stroke="#900000" stroke-width="1.6" stroke-opacity="0.8" stroke-linecap="round"/><path d="M186.8 327.5h0M174 307.1h0" stroke="#ff0000" stroke-width="2" stroke-opacity="0.6" stroke-linecap="round"/><path d="M183.8 316.5h0" stroke="#e00000" stroke-width="2" stroke-opacity="0.6" stroke-linecap="round"/><path d="M195.3 323.8h0" stroke="#e00000" stroke-width="2" stroke-opacity="0.8" stroke-linecap="round"/><path d="M180.9 310.5h0M186.2 306.4h0" stroke="#ff0000" stroke-width="2" stroke-opacity="0.8" stroke-linecap="round"/><path d="M182.3 324.1h0" stroke="#ff0000" stroke-width="2.4" stroke-opacity="0.8" stroke-linecap="round"/><path d="M193.3 316.5h0" stroke="#e00000" stroke-width="2.4" stroke-opacity="0.8" stroke-linecap="round"/><path d="M187.8 343.8h0M189.4 335h0M172.3 342.9h0M185.4 336.6h0M184.7 336.1h0M201.8 337.5h0M190.9 338.9h0" stroke="#600000" stroke-width="1.2" stroke-opacity="0.4" stroke-linecap="round"/><path d="M196.2 339.1h0M192.7 342h0M204.4 343.8h0M173.7 342.9h0M193.1 342.4h0M182.1 338.9h0M184.4 340.4h0" stroke="#800000" stroke-width="1.6" stroke-opacity="0.4" stroke-linecap="round"/><path d="M205.4 344h0M191 335.4h0M199.6 337.5h0M192.4 336.4h0M179.7 336.5h0" stroke="#800000" stroke-width="1.2" stroke-opacity="0.4" stroke-linecap="round"/><path d="M196.3 337.4h0M205.8 341.9h0M198.7 343.6h0" stroke="#600000" stroke-width="1.6" stroke-opacity="0.4" stroke-linecap="round"/><path d="M188.8 339h0M193.8 340.4h0M192.6 337.1h0M201.1 334.5h0M203.8 343.7h0" stroke="#800000" stroke-width="1.6" stroke-opacity="0.6" stroke-linecap="round"/><path d="M199.4 340.6h0M171.4 345.3h0M197.6 338.9h0M187.7 336.9h0M183.2 341.2h0" stroke="#600000" stroke-width="1.2" stroke-opacity="0.6" stroke-linecap="round"/><path d="M201.4 339.3h0M196.6 338.6h0M184.6 339.3h0M184 341.8h0M201.8 345h0" stroke="#800000" stroke-width="1.2" stroke-opacity="0.6" stroke-linecap="round"/><path d="M179.5 343.6h0M191.4 334.2h0M185.3 342.5h0" stroke="#600000" stroke-width="1.6" stroke-opacity="0.6" stroke-linecap="round"/><line x1="170.7" y1="303.3" x2="205.8" y2="304.6" stroke="#e4e4e4" stroke-width="1.0" stroke-dasharray="2.5 2.0"/><line x1="170.7" y1="337.3" x2="205.8" y2="332" stroke="#e4e4e4" stroke-width="1.0" stroke-dasharray="2.5 2.0"/><rect x="192.5" y="343.4" width="12" height="1.2" fill="#f0f0f0"/></g>
<g clip-path="url(#cp1_5)"><rect x="207.4" y="296" width="35.1" height="49.8" fill="#000"/><polygon points="207.4,296 242.5,296 242.5,346 207.4,346" fill="#3a0000" opacity="0.9"/><path d="M225.3 323.1h0M223.7 298.2h0M226.6 323.8h0M236.2 313.4h0M223.7 323.8h0M210.5 298.3h0M221.4 332.7h0" stroke="#900000" stroke-width="1.6" stroke-opacity="0.6" stroke-linecap="round"/><path d="M220.1 319.4h0M212.8 327.3h0M218.4 301.8h0M242.3 316.5h0M224.4 324.8h0M237.3 296.8h0M221.2 310.2h0M211 299.5h0" stroke="#900000" stroke-width="2.4" stroke-opacity="0.6" stroke-linecap="round"/><path d="M240.5 308h0M235.9 328.1h0M233.1 327.1h0M241.2 319.3h0M213.2 324.9h0M224.7 302.8h0M224.6 306.3h0M210 331.1h0M231.1 326.5h0M218.2 306.3h0" stroke="#900000" stroke-width="2" stroke-opacity="0.6" stroke-linecap="round"/><path d="M228 321.2h0M234.5 306.1h0M237 328.9h0M229.6 306.4h0M224.4 328.5h0M210.9 315.4h0" stroke="#c00000" stroke-width="1.6" stroke-opacity="0.6" stroke-linecap="round"/><path d="M226.8 312.8h0M209.6 298.4h0M237.9 330.3h0M217.3 314.1h0M237.1 300.1h0" stroke="#b00000" stroke-width="2.4" stroke-opacity="0.6" stroke-linecap="round"/><path d="M217.5 303.2h0M223.8 320.4h0M239 323.5h0M229 309.6h0" stroke="#e00000" stroke-width="1.6" stroke-opacity="0.6" stroke-linecap="round"/><path d="M217 316.8h0M210.2 296.7h0M237.8 308.6h0M209.8 333.4h0M217.9 330.1h0M235 320.3h0M219.4 306.1h0M211.9 315.6h0" stroke="#b00000" stroke-width="2" stroke-opacity="0.6" stroke-linecap="round"/><path d="M233.4 320.6h0M227.3 299.4h0M224.8 296.2h0M208.9 328.9h0M220.5 332.9h0M230.3 310.8h0M234.2 322.2h0M240.2 307h0M225.6 310h0M212.8 302h0M223.2 327.7h0" stroke="#e00000" stroke-width="2" stroke-opacity="0.6" stroke-linecap="round"/><path d="M214.5 297.5h0M238.1 314.9h0M224.8 324.2h0M234.6 323.2h0M226.1 320.7h0M234 315.2h0M235 323.3h0M237.2 330.2h0" stroke="#ff1010" stroke-width="2.4" stroke-opacity="0.6" stroke-linecap="round"/><path d="M225.1 309.3h0M235.1 321.4h0M226.6 317.5h0M238.6 309.5h0M232.1 319.3h0M226.1 307.4h0M229.6 318.9h0" stroke="#e00000" stroke-width="2.4" stroke-opacity="0.6" stroke-linecap="round"/><path d="M216.4 320.6h0M213.3 330.5h0M211.9 304.8h0M234.2 314.8h0M225.9 325.9h0M211.4 329.4h0M224.2 318.2h0M223 320.4h0M234.9 320.1h0M233.1 303.1h0M209.9 303.7h0M233.1 301.3h0M223 308.6h0" stroke="#ff1010" stroke-width="2" stroke-opacity="0.6" stroke-linecap="round"/><path d="M238 326.7h0M217.3 315.8h0M235.1 328.1h0M213.3 324.7h0M238.8 305.9h0M239.4 310.4h0M209.2 297.4h0M237.3 300.4h0M231.5 300.2h0" stroke="#c00000" stroke-width="2" stroke-opacity="0.6" stroke-linecap="round"/><path d="M226.5 305.4h0M208.2 329.1h0M227.8 328.7h0M224.3 299.1h0" stroke="#b00000" stroke-width="1.6" stroke-opacity="0.6" stroke-linecap="round"/><path d="M232.8 298h0M226.8 308.4h0M218.8 309.1h0" stroke="#ff1010" stroke-width="1.6" stroke-opacity="0.6" stroke-linecap="round"/><path d="M241.5 312.2h0M232.8 297.1h0M215 327.7h0M227.4 321.3h0M209.5 308.3h0M226.5 326.6h0M235.4 316.2h0M213.5 317.6h0M225.1 301.6h0M217.1 299.9h0" stroke="#c00000" stroke-width="2.4" stroke-opacity="0.6" stroke-linecap="round"/><path d="M223.7 305h0M209.6 319.7h0M236.8 319.4h0M220.8 327.8h0M230.9 329.5h0M218.9 297.6h0M218.3 313.4h0M233.5 306.1h0M214.2 315.1h0" stroke="#c00000" stroke-width="2" stroke-opacity="0.8" stroke-linecap="round"/><path d="M239.6 328.1h0M239.1 310.9h0M235.2 322.9h0M233.6 323.1h0M232.3 300h0M238 309.5h0" stroke="#e00000" stroke-width="2.4" stroke-opacity="0.8" stroke-linecap="round"/><path d="M241.1 326.1h0M214 317.1h0M233.2 314.7h0" stroke="#e00000" stroke-width="1.6" stroke-opacity="0.8" stroke-linecap="round"/><path d="M212.8 305.5h0M209.5 331h0M241.6 297.1h0M222 322.9h0M224.8 304.9h0M237.6 308.3h0M227.3 309.3h0M219.7 305.2h0M222 312.4h0M230.5 321.8h0M222.6 303.7h0M211.4 315.7h0M218.4 313.8h0" stroke="#e00000" stroke-width="2" stroke-opacity="0.8" stroke-linecap="round"/><path d="M209.1 320.7h0M231.3 307h0M229.1 304.4h0M240.4 308.9h0M241.5 301h0M235 328.7h0M209.9 296.8h0M220.9 309.2h0" stroke="#ff1010" stroke-width="2.4" stroke-opacity="0.8" stroke-linecap="round"/><path d="M215.8 311.1h0M215.8 322.6h0M223.6 310.1h0M209.3 317.6h0M224.1 302.8h0M220.5 301.9h0M210.3 303h0M225.1 308.3h0M212.5 333.9h0M214 316.4h0M226.2 324.9h0M214.2 309.8h0M209.7 330h0" stroke="#900000" stroke-width="2.4" stroke-opacity="0.8" stroke-linecap="round"/><path d="M221.5 300.2h0M217 305.7h0M226.1 314h0M225.5 310.9h0M225.9 326.3h0" stroke="#ff1010" stroke-width="1.6" stroke-opacity="0.8" stroke-linecap="round"/><path d="M225.4 306.1h0M212.5 329.8h0M234.7 305.4h0M241.9 296.1h0M226.5 308.3h0M224.6 302.6h0M224.9 296.3h0M215.8 322h0M219.3 329.4h0" stroke="#900000" stroke-width="2" stroke-opacity="0.8" stroke-linecap="round"/><path d="M226.8 309.1h0M209.1 323.1h0M213.3 328h0M226.9 316.7h0M226.6 307.6h0M215.3 305.2h0M213.3 315h0M234.4 312.2h0" stroke="#ff1010" stroke-width="2" stroke-opacity="0.8" stroke-linecap="round"/><path d="M215.8 296.1h0M228.6 319.3h0M230.5 306h0M234.1 324.8h0M215.5 297.3h0M226.5 303.3h0M233.8 317.8h0" stroke="#b00000" stroke-width="1.6" stroke-opacity="0.8" stroke-linecap="round"/><path d="M217.1 296.9h0M224.3 309.9h0M230.7 317.4h0M226.4 300.7h0M215.7 324.8h0M237.1 320.9h0M222.1 308.2h0M238.1 325.3h0M231.1 306.5h0M241.5 316.1h0M213.9 303.3h0" stroke="#b00000" stroke-width="2.4" stroke-opacity="0.8" stroke-linecap="round"/><path d="M234.4 308.1h0M218.7 315.8h0M216.3 318.2h0M219.3 301.6h0M230.2 311.4h0M240.9 320.7h0M226.6 316.3h0M231.9 325h0M237.7 325.4h0M235.1 297h0" stroke="#b00000" stroke-width="2" stroke-opacity="0.8" stroke-linecap="round"/><path d="M239.1 308.9h0M223.5 327.7h0M212.9 324h0M224.5 308.9h0M233.8 330.8h0M210.7 307h0M227.7 320.2h0" stroke="#c00000" stroke-width="2.4" stroke-opacity="0.8" stroke-linecap="round"/><path d="M218.1 316.2h0M238.1 328.1h0M220 316.6h0M218 308.4h0M227 319.3h0M220.5 321.5h0" stroke="#c00000" stroke-width="1.6" stroke-opacity="0.8" stroke-linecap="round"/><path d="M241.2 325.9h0M211 310h0" stroke="#900000" stroke-width="1.6" stroke-opacity="0.8" stroke-linecap="round"/><path d="M213.3 339.5h0M241.9 342.1h0M235.9 338.4h0M227.1 335.9h0" stroke="#900000" stroke-width="2" stroke-opacity="0.4" stroke-linecap="round"/><path d="M236.8 345.6h0M208.6 341.6h0M230.1 339.2h0M218.6 343.7h0M214.7 341.1h0" stroke="#700000" stroke-width="1.6" stroke-opacity="0.4" stroke-linecap="round"/><path d="M228.6 333.3h0M218 341.4h0" stroke="#b00000" stroke-width="2" stroke-opacity="0.4" stroke-linecap="round"/><path d="M217.2 333.3h0M230.9 333.9h0M216.6 336.2h0" stroke="#700000" stroke-width="2" stroke-opacity="0.4" stroke-linecap="round"/><path d="M210.5 334.9h0" stroke="#b00000" stroke-width="1.6" stroke-opacity="0.4" stroke-linecap="round"/><path d="M241.4 333.1h0M210.5 342.5h0" stroke="#900000" stroke-width="1.6" stroke-opacity="0.4" stroke-linecap="round"/><path d="M229 334.9h0M235.4 335.2h0M237.5 334.6h0M236.4 344.3h0M211.6 341.4h0M220.8 340.1h0" stroke="#700000" stroke-width="2" stroke-opacity="0.6" stroke-linecap="round"/><path d="M234.5 340.8h0M238.8 344.1h0M227.5 333.5h0M213.2 342.4h0M219.6 338.8h0M236.4 332.5h0M227 343.2h0M238 333.4h0M222.8 341.8h0" stroke="#b00000" stroke-width="1.6" stroke-opacity="0.6" stroke-linecap="round"/><path d="M236.5 343.2h0M214.7 343.3h0M220.6 344.5h0M234.1 345.8h0M220.4 337.3h0M232.5 331.7h0M233.6 341h0M222.4 338.1h0M233.9 331.4h0M215.1 339.7h0M215.1 339.1h0" stroke="#700000" stroke-width="1.6" stroke-opacity="0.6" stroke-linecap="round"/><path d="M239.1 335.1h0M219.8 337.6h0M240.2 336h0M215.4 345.3h0M226.1 342.7h0M235.3 336.3h0" stroke="#b00000" stroke-width="2" stroke-opacity="0.6" stroke-linecap="round"/><path d="M226.3 340.3h0M226 345.7h0M236.1 334.8h0" stroke="#900000" stroke-width="2" stroke-opacity="0.6" stroke-linecap="round"/><path d="M211.1 341.8h0M212.3 345.4h0M235 333.2h0" stroke="#900000" stroke-width="1.6" stroke-opacity="0.6" stroke-linecap="round"/><path d="M239.6 334.4h0M226.2 332.9h0M233.9 341.9h0M226.4 344.7h0" stroke="#700000" stroke-width="2" stroke-opacity="0.8" stroke-linecap="round"/><path d="M224.6 338.3h0M230.1 333.4h0M228 340.9h0" stroke="#b00000" stroke-width="1.6" stroke-opacity="0.8" stroke-linecap="round"/><path d="M215.8 334.1h0M220.8 345.7h0M234.3 331.4h0M240.3 337.8h0" stroke="#b00000" stroke-width="2" stroke-opacity="0.8" stroke-linecap="round"/><path d="M233.5 344.2h0M212.7 340.6h0" stroke="#700000" stroke-width="1.6" stroke-opacity="0.8" stroke-linecap="round"/><path d="M238.8 333h0" stroke="#900000" stroke-width="2" stroke-opacity="0.8" stroke-linecap="round"/><path d="M227.1 332.4h0" stroke="#900000" stroke-width="1.6" stroke-opacity="0.8" stroke-linecap="round"/><line x1="207.4" y1="301" x2="242.5" y2="298.7" stroke="#e4e4e4" stroke-width="1.0" stroke-dasharray="2.5 2.0"/><line x1="207.4" y1="334.6" x2="242.5" y2="330" stroke="#e4e4e4" stroke-width="1.0" stroke-dasharray="2.5 2.0"/><rect x="229.2" y="343.4" width="12" height="1.2" fill="#f0f0f0"/></g>
<g clip-path="url(#cp2_0)"><rect x="24" y="347.4" width="35.1" height="49.3" fill="#000"/><path d="M30.5 351.1h0" stroke="#d0d0d0" stroke-width="1.2" stroke-opacity="0.6" stroke-linecap="round"/><path d="M31.9 354.4h0M28.6 347.9h0" stroke="#aaaaaa" stroke-width="1.2" stroke-opacity="0.8" stroke-linecap="round"/><path d="M31.6 348.1h0" stroke="#aaaaaa" stroke-width="1.6" stroke-opacity="0.8" stroke-linecap="round"/><path d="M29.1 349.8h0" stroke="#d0d0d0" stroke-width="2" stroke-opacity="0.8" stroke-linecap="round"/><path d="M49.7 354.9h0M35.3 367.8h0M40.8 392.7h0M32.4 347.9h0M56.2 393h0" stroke="#555555" stroke-width="1.2" stroke-opacity="0.2" stroke-linecap="round"/><path d="M51 366.4h0" stroke="#555555" stroke-width="1.6" stroke-opacity="0.2" stroke-linecap="round"/><path d="M57.6 384.3h0" stroke="#555555" stroke-width="1.6" stroke-opacity="0.4" stroke-linecap="round"/><path d="M28.9 370.1h0" stroke="#555555" stroke-width="1.2" stroke-opacity="0.4" stroke-linecap="round"/><rect x="45.8" y="394.3" width="12" height="1.2" fill="#f0f0f0"/></g>
<text x="24.7" y="395" font-size="7.2" fill="#8c8c8c" text-anchor="start" font-weight="bold">EdU</text>
<g clip-path="url(#cp2_1)"><rect x="60.7" y="347.4" width="35.1" height="49.3" fill="#000"/><path d="M79.4 350.8h0" stroke="#e0e0e0" stroke-width="1.2" stroke-opacity="0.6" stroke-linecap="round"/><path d="M85.5 348.3h0" stroke="#bbbbbb" stroke-width="2" stroke-opacity="0.6" stroke-linecap="round"/><path d="M70.6 348.3h0" stroke="#e0e0e0" stroke-width="1.6" stroke-opacity="0.6" stroke-linecap="round"/><path d="M67 351.7h0" stroke="#bbbbbb" stroke-width="1.2" stroke-opacity="0.8" stroke-linecap="round"/><path d="M71.9 351.4h0M69.7 347.6h0" stroke="#e0e0e0" stroke-width="1.6" stroke-opacity="0.8" stroke-linecap="round"/><path d="M72.4 352.5h0" stroke="#e0e0e0" stroke-width="1.2" stroke-opacity="0.8" stroke-linecap="round"/><path d="M85 351.6h0" stroke="#e0e0e0" stroke-width="2" stroke-opacity="0.8" stroke-linecap="round"/><path d="M77.5 353.2h0" stroke="#e0e0e0" stroke-width="1.2" stroke-opacity="1" stroke-linecap="round"/><path d="M72.2 352.1h0" stroke="#bbbbbb" stroke-width="2" stroke-opacity="1" stroke-linecap="round"/><path d="M80.1 383.1h0" stroke="#999999" stroke-width="1.2" stroke-opacity="0.6" stroke-linecap="round"/><path d="M66.1 378.9h0M69.3 374.1h0" stroke="#e0e0e0" stroke-width="1.6" stroke-opacity="0.6" stroke-linecap="round"/><path d="M66.9 370.6h0M78.6 374.6h0" stroke="#e0e0e0" stroke-width="1.2" stroke-opacity="0.6" stroke-linecap="round"/><path d="M78.2 361.7h0" stroke="#e0e0e0" stroke-width="2" stroke-opacity="0.6" stroke-linecap="round"/><path d="M70.8 377.8h0M83 372.1h0" stroke="#999999" stroke-width="1.6" stroke-opacity="0.8" stroke-linecap="round"/><rect x="82.5" y="394.3" width="12" height="1.2" fill="#f0f0f0"/></g>
<g clip-path="url(#cp2_2)"><rect x="97.4" y="347.4" width="35.1" height="49.3" fill="#000"/><linearGradient id="mg7" x1="0" y1="0" x2="0" y2="1"><stop offset="0" stop-color="#707070" stop-opacity="0.8"/><stop offset="0.3" stop-color="#505050" stop-opacity="0.7"/><stop offset="0.6" stop-color="#303030" stop-opacity="0.7"/><stop offset="0.8" stop-color="#505050" stop-opacity="0.7"/><stop offset="1" stop-color="#707070" stop-opacity="0.8"/></linearGradient><polygon points="97.4,347.4 132.5,347.4 132.5,397.4 97.4,397.4" fill="url(#mg7)"/><path d="M109.2 352.1h0M98.8 349.5h0M128 386.8h0M103.7 385.5h0M127.2 390.3h0M102.4 391.2h0M130.5 377.3h0M113.8 366.2h0M122.4 369.9h0" stroke="#c0c0c0" stroke-width="1.6" stroke-opacity="0.4" stroke-linecap="round"/><path d="M122.8 349.3h0M116.2 363.1h0M103.8 361.3h0M116.4 370.5h0M98.3 386.8h0M109.2 360.6h0M128.4 388.8h0M127.1 382.3h0M117.9 392.9h0M105.6 392.8h0M124.6 378h0" stroke="#808080" stroke-width="1.6" stroke-opacity="0.4" stroke-linecap="round"/><path d="M118.2 351.7h0M117.8 362.4h0M113.5 355.1h0M112.7 394.6h0M109.5 364.1h0M114.3 393.5h0M98.9 393.8h0M102.5 390.3h0M98.9 360h0" stroke="#c0c0c0" stroke-width="2" stroke-opacity="0.4" stroke-linecap="round"/><path d="M109.7 380.5h0M126.7 370.4h0M99.6 385.8h0M131.5 348.6h0M119.6 371.3h0" stroke="#808080" stroke-width="2.4" stroke-opacity="0.4" stroke-linecap="round"/><path d="M105.3 381.4h0M105.2 382.9h0M107.8 369.7h0M105.9 361.3h0M131.6 363.4h0M115.4 396h0" stroke="#a0a0a0" stroke-width="1.6" stroke-opacity="0.4" stroke-linecap="round"/><path d="M116.8 364.6h0M126.1 350.8h0M119.3 362.1h0" stroke="#808080" stroke-width="2" stroke-opacity="0.4" stroke-linecap="round"/><path d="M106.2 376h0M130.6 372.4h0" stroke="#a0a0a0" stroke-width="2.4" stroke-opacity="0.4" stroke-linecap="round"/><path d="M118.7 352.6h0M99.8 361.3h0M129.1 354.1h0M126.9 370.2h0" stroke="#c0c0c0" stroke-width="2.4" stroke-opacity="0.4" stroke-linecap="round"/><path d="M101.3 369.9h0M112.4 347.9h0M115.1 392.2h0M124.4 355.2h0M123.6 392.1h0" stroke="#a0a0a0" stroke-width="2" stroke-opacity="0.4" stroke-linecap="round"/><path d="M109.5 358.6h0M107.1 380.9h0M110.2 396.3h0M114.5 356.8h0M122.3 379.8h0M104 363.7h0M116 373.7h0M100.3 354.3h0M118.4 385.1h0M103.8 386.6h0M120.8 361.6h0M123.4 389.9h0" stroke="#a0a0a0" stroke-width="2" stroke-opacity="0.6" stroke-linecap="round"/><path d="M119.6 363.1h0M111.5 380.4h0M118.8 354.5h0M130.1 369.6h0M102.3 365.5h0M103.7 395.2h0M128.1 385.4h0M128.9 384.8h0M97.5 362h0M130.1 386.5h0" stroke="#c0c0c0" stroke-width="2" stroke-opacity="0.6" stroke-linecap="round"/><path d="M106.2 382.5h0M97.7 373.4h0M126.7 376.2h0M122.4 389.6h0" stroke="#808080" stroke-width="2.4" stroke-opacity="0.6" stroke-linecap="round"/><path d="M109.4 372.1h0M114.3 374.9h0M122.6 351.2h0M131.5 375.3h0M132.1 396.7h0M97.9 350.6h0M120.9 396.2h0M110.1 385.9h0M118.6 367.8h0" stroke="#808080" stroke-width="2" stroke-opacity="0.6" stroke-linecap="round"/><path d="M102.6 395.8h0M106.1 392.4h0M114.8 393.3h0M127.5 364.4h0M121.8 376.3h0M110.5 351.2h0M112.1 347.8h0" stroke="#a0a0a0" stroke-width="1.6" stroke-opacity="0.6" stroke-linecap="round"/><path d="M127.5 359.1h0M132.2 362h0M121.4 351.7h0M107.7 396.8h0M127.2 375.3h0M132 371.6h0M117.1 352.6h0M120.4 382.2h0" stroke="#808080" stroke-width="1.6" stroke-opacity="0.6" stroke-linecap="round"/><path d="M109.9 369.7h0M105.6 367.6h0M129.9 373.9h0M127.2 378.7h0M102.8 358.8h0M127.8 366.6h0" stroke="#c0c0c0" stroke-width="1.6" stroke-opacity="0.6" stroke-linecap="round"/><path d="M105 363h0M130 376.7h0" stroke="#c0c0c0" stroke-width="2.4" stroke-opacity="0.6" stroke-linecap="round"/><path d="M110.9 368.6h0" stroke="#a0a0a0" stroke-width="2.4" stroke-opacity="0.6" stroke-linecap="round"/><path d="M121.9 386.2h0M130.9 375.3h0M122.4 355.6h0" stroke="#c0c0c0" stroke-width="2" stroke-opacity="0.8" stroke-linecap="round"/><path d="M114.7 391.7h0M128.1 388.6h0M102.3 378.9h0M130.4 375.8h0M123.3 366.4h0" stroke="#a0a0a0" stroke-width="2" stroke-opacity="0.8" stroke-linecap="round"/><path d="M117.7 387.1h0M126.2 356.3h0M107.9 381h0M104.8 354.2h0M129.9 366.7h0" stroke="#808080" stroke-width="2" stroke-opacity="0.8" stroke-linecap="round"/><path d="M129.6 366.6h0M100.9 366h0M112.4 354.9h0M101.3 379.2h0M108.7 358.1h0" stroke="#c0c0c0" stroke-width="2.4" stroke-opacity="0.8" stroke-linecap="round"/><path d="M119.7 365.5h0M99.3 369.7h0M132.3 367.2h0M101.6 364.7h0M98.1 365h0" stroke="#c0c0c0" stroke-width="1.6" stroke-opacity="0.8" stroke-linecap="round"/><path d="M100.8 383.4h0M107.9 363.9h0M125.6 364.2h0M127.9 372.1h0" stroke="#a0a0a0" stroke-width="1.6" stroke-opacity="0.8" stroke-linecap="round"/><path d="M110.4 383.5h0M129.6 384.8h0M114.4 371.2h0M117.7 350.5h0" stroke="#808080" stroke-width="1.6" stroke-opacity="0.8" stroke-linecap="round"/><path d="M127.8 381.7h0M111.5 352.2h0M113.1 351.4h0M125 390.2h0" stroke="#a0a0a0" stroke-width="2.4" stroke-opacity="0.8" stroke-linecap="round"/><path d="M131.7 353.4h0M121.9 392.8h0" stroke="#808080" stroke-width="2.4" stroke-opacity="0.8" stroke-linecap="round"/><path d="M104.5 351.7h0M114.4 358.7h0" stroke="#b8b8b8" stroke-width="1.6" stroke-opacity="0.4" stroke-linecap="round"/><path d="M130.2 358.5h0M121.1 348.8h0" stroke="#b8b8b8" stroke-width="2" stroke-opacity="0.4" stroke-linecap="round"/><path d="M114.8 354.2h0" stroke="#d8d8d8" stroke-width="2" stroke-opacity="0.4" stroke-linecap="round"/><path d="M131.8 348h0M126.5 359h0M101.2 359.7h0M118.2 356.6h0" stroke="#d8d8d8" stroke-width="2" stroke-opacity="0.6" stroke-linecap="round"/><path d="M119.7 352.4h0M116.7 348.9h0M104.9 359.1h0M102.8 360.9h0M112.6 353.5h0M98.7 352.6h0" stroke="#b8b8b8" stroke-width="1.6" stroke-opacity="0.6" stroke-linecap="round"/><path d="M98.3 352.4h0M109.7 355.5h0" stroke="#d8d8d8" stroke-width="1.6" stroke-opacity="0.6" stroke-linecap="round"/><path d="M130.3 354.2h0M111 355.5h0M129 352.7h0" stroke="#b8b8b8" stroke-width="2" stroke-opacity="0.6" stroke-linecap="round"/><path d="M100.2 355.4h0" stroke="#d8d8d8" stroke-width="2.4" stroke-opacity="0.6" stroke-linecap="round"/><path d="M108.6 356.5h0M105.4 352.6h0" stroke="#b8b8b8" stroke-width="2.4" stroke-opacity="0.8" stroke-linecap="round"/><path d="M102 361h0M126.2 349.1h0M113.5 347.5h0M128.8 353.6h0" stroke="#b8b8b8" stroke-width="1.6" stroke-opacity="0.8" stroke-linecap="round"/><path d="M117.3 348h0M129.9 348.9h0M129.9 358.2h0M98.4 359.3h0" stroke="#b8b8b8" stroke-width="2" stroke-opacity="0.8" stroke-linecap="round"/><path d="M124.7 357.8h0M107.4 352.9h0" stroke="#d8d8d8" stroke-width="2" stroke-opacity="0.8" stroke-linecap="round"/><path d="M102.3 359.4h0M131.6 356.9h0" stroke="#d8d8d8" stroke-width="1.6" stroke-opacity="0.8" stroke-linecap="round"/><path d="M120.2 394.9h0" stroke="#a8a8a8" stroke-width="2.4" stroke-opacity="0.4" stroke-linecap="round"/><path d="M120.9 384.6h0M111.4 389.2h0" stroke="#a8a8a8" stroke-width="1.6" stroke-opacity="0.4" stroke-linecap="round"/><path d="M101.8 389.7h0" stroke="#d0d0d0" stroke-width="2.4" stroke-opacity="0.4" stroke-linecap="round"/><path d="M120 391.7h0M110.6 383.6h0M112 394h0" stroke="#d0d0d0" stroke-width="1.6" stroke-opacity="0.4" stroke-linecap="round"/><path d="M115.6 383.9h0M122.2 389.8h0M106.9 391.1h0M102.2 397.3h0" stroke="#a8a8a8" stroke-width="2" stroke-opacity="0.6" stroke-linecap="round"/><path d="M110 386.4h0M120.1 395.2h0" stroke="#d0d0d0" stroke-width="2" stroke-opacity="0.6" stroke-linecap="round"/><path d="M101.4 385.4h0M104.9 397.4h0" stroke="#a8a8a8" stroke-width="1.6" stroke-opacity="0.6" stroke-linecap="round"/><path d="M122.8 388h0" stroke="#d0d0d0" stroke-width="1.6" stroke-opacity="0.6" stroke-linecap="round"/><path d="M105 389h0" stroke="#a8a8a8" stroke-width="2.4" stroke-opacity="0.6" stroke-linecap="round"/><path d="M118 393.3h0M124.2 390.1h0M127.3 383.9h0M105.9 393.4h0M120.5 390.6h0M109.2 390h0" stroke="#d0d0d0" stroke-width="2" stroke-opacity="0.8" stroke-linecap="round"/><path d="M117.1 387.5h0M112.6 387.2h0" stroke="#a8a8a8" stroke-width="1.6" stroke-opacity="0.8" stroke-linecap="round"/><path d="M102.6 384.8h0" stroke="#a8a8a8" stroke-width="2.4" stroke-opacity="0.8" stroke-linecap="round"/><path d="M114.6 394.8h0M117.6 389.8h0M109.5 386.9h0M98.4 384.5h0M126.6 388.6h0" stroke="#a8a8a8" stroke-width="2" stroke-opacity="0.8" stroke-linecap="round"/><path d="M113.8 391.7h0M111.9 393.7h0M124.6 385.5h0" stroke="#d0d0d0" stroke-width="1.6" stroke-opacity="0.8" stroke-linecap="round"/><path d="M124.2 385.4h0" stroke="#d0d0d0" stroke-width="2.4" stroke-opacity="0.8" stroke-linecap="round"/><rect x="119.2" y="394.3" width="12" height="1.2" fill="#f0f0f0"/></g>
<g clip-path="url(#cp2_3)"><rect x="134" y="347.4" width="35.1" height="49.3" fill="#000"/><path d="M154.9 367.5h0" stroke="#bbbbbb" stroke-width="1.2" stroke-opacity="0.4" stroke-linecap="round"/><path d="M152.6 370.6h0" stroke="#bbbbbb" stroke-width="1.6" stroke-opacity="0.4" stroke-linecap="round"/><path d="M150.2 370.7h0" stroke="#bbbbbb" stroke-width="1.6" stroke-opacity="0.6" stroke-linecap="round"/><path d="M148 371.6h0" stroke="#bbbbbb" stroke-width="1.6" stroke-opacity="0.8" stroke-linecap="round"/><linearGradient id="mg8" x1="0" y1="0" x2="0" y2="1"><stop offset="0" stop-color="#000" stop-opacity="0"/><stop offset="0.6" stop-color="#000" stop-opacity="0"/><stop offset="0.8" stop-color="#303030" stop-opacity="0.6"/><stop offset="1" stop-color="#404040" stop-opacity="0.7"/></linearGradient><polygon points="134,347.4 169.1,347.4 169.1,397.4 134,397.4" fill="url(#mg8)"/><path d="M136.3 392.3h0M158.9 391.8h0M149.3 395.6h0" stroke="#aaaaaa" stroke-width="1.6" stroke-opacity="0.4" stroke-linecap="round"/><path d="M165.7 389.6h0M162 387.9h0M146 395.2h0M169 380.4h0" stroke="#aaaaaa" stroke-width="2" stroke-opacity="0.4" stroke-linecap="round"/><path d="M160.6 387.3h0M150.2 380.8h0M160.7 394.6h0" stroke="#777777" stroke-width="2" stroke-opacity="0.4" stroke-linecap="round"/><path d="M145.5 387.2h0M142.8 380.6h0" stroke="#777777" stroke-width="1.6" stroke-opacity="0.4" stroke-linecap="round"/><path d="M158.2 388.3h0M143.5 387h0" stroke="#777777" stroke-width="1.2" stroke-opacity="0.4" stroke-linecap="round"/><path d="M135.1 392.9h0M144.3 380.1h0M153.6 385h0M158 384.3h0M164.6 385.2h0M135.9 381.9h0" stroke="#777777" stroke-width="2" stroke-opacity="0.6" stroke-linecap="round"/><path d="M146.8 391.9h0M142.5 386.5h0M139.3 382.4h0M135.6 379.5h0M168.1 397.1h0M158.3 390h0" stroke="#aaaaaa" stroke-width="1.6" stroke-opacity="0.6" stroke-linecap="round"/><path d="M153.6 388.9h0M140.5 382.1h0M168.7 393.2h0M167.2 383.9h0M141.3 395.4h0" stroke="#aaaaaa" stroke-width="2" stroke-opacity="0.6" stroke-linecap="round"/><path d="M150.7 392.9h0M160.2 396.9h0M135.8 397.4h0" stroke="#777777" stroke-width="1.6" stroke-opacity="0.6" stroke-linecap="round"/><path d="M144 384.9h0M159.4 396.9h0" stroke="#aaaaaa" stroke-width="1.2" stroke-opacity="0.6" stroke-linecap="round"/><path d="M159.1 385.5h0M151.4 389h0M135.4 383.7h0M147.1 385h0" stroke="#777777" stroke-width="1.2" stroke-opacity="0.6" stroke-linecap="round"/><rect x="155.8" y="394.3" width="12" height="1.2" fill="#f0f0f0"/></g>
<g clip-path="url(#cp2_4)"><rect x="170.7" y="347.4" width="35.1" height="49.3" fill="#000"/><path d="M187.5 359.7h0" stroke="#cccccc" stroke-width="2" stroke-opacity="0.4" stroke-linecap="round"/><path d="M187.6 357h0" stroke="#999999" stroke-width="2" stroke-opacity="0.4" stroke-linecap="round"/><path d="M194.8 359.8h0" stroke="#cccccc" stroke-width="1.6" stroke-opacity="0.4" stroke-linecap="round"/><path d="M191 358.1h0" stroke="#999999" stroke-width="1.6" stroke-opacity="0.6" stroke-linecap="round"/><path d="M192.6 360.2h0" stroke="#cccccc" stroke-width="1.6" stroke-opacity="0.6" stroke-linecap="round"/><path d="M201.5 358.6h0" stroke="#999999" stroke-width="1.6" stroke-opacity="0.8" stroke-linecap="round"/><path d="M197.5 355.5h0M196.7 358.1h0" stroke="#cccccc" stroke-width="1.6" stroke-opacity="0.8" stroke-linecap="round"/><path d="M181.3 383.1h0M184.4 375.5h0" stroke="#aaaaaa" stroke-width="1.6" stroke-opacity="0.6" stroke-linecap="round"/><path d="M185.2 376.8h0" stroke="#aaaaaa" stroke-width="2" stroke-opacity="0.6" stroke-linecap="round"/><rect x="192.5" y="394.3" width="12" height="1.2" fill="#f0f0f0"/></g>
<g clip-path="url(#cp2_5)"><rect x="207.4" y="347.4" width="35.1" height="49.3" fill="#000"/><path d="M239.3 351.9h0" stroke="#cccccc" stroke-width="2" stroke-opacity="0.4" stroke-linecap="round"/><path d="M236.9 351.7h0" stroke="#cccccc" stroke-width="1.6" stroke-opacity="0.6" stroke-linecap="round"/><path d="M238.2 356.1h0" stroke="#cccccc" stroke-width="2" stroke-opacity="0.6" stroke-linecap="round"/><polygon points="207.4,385.4 219.4,383.4 242.4,385.4 242.4,397.4 207.4,397.4" fill="#cccccc" opacity="0.3"/><path d="M238.8 386.9h0M217.7 389.7h0" stroke="#ffffff" stroke-width="2.4" stroke-opacity="0.6" stroke-linecap="round"/><path d="M217.8 385.5h0M241.1 395.1h0M231.5 389.4h0" stroke="#e8e8e8" stroke-width="1.6" stroke-opacity="0.6" stroke-linecap="round"/><path d="M231.5 386.8h0M208.2 396.7h0" stroke="#e8e8e8" stroke-width="2" stroke-opacity="0.6" stroke-linecap="round"/><path d="M216.6 391.3h0M223.2 396.1h0" stroke="#ffffff" stroke-width="1.6" stroke-opacity="0.6" stroke-linecap="round"/><path d="M216.9 386h0M230.4 390.2h0" stroke="#e8e8e8" stroke-width="2.8" stroke-opacity="0.6" stroke-linecap="round"/><path d="M217.2 385.3h0" stroke="#ffffff" stroke-width="2.8" stroke-opacity="0.6" stroke-linecap="round"/><path d="M217.6 394.8h0" stroke="#ffffff" stroke-width="2" stroke-opacity="0.6" stroke-linecap="round"/><path d="M221.4 395.7h0" stroke="#e8e8e8" stroke-width="2.4" stroke-opacity="0.6" stroke-linecap="round"/><path d="M225.7 384.4h0M213.5 395h0" stroke="#ffffff" stroke-width="2" stroke-opacity="0.8" stroke-linecap="round"/><path d="M217.8 383.8h0M242.1 395h0M211.1 387.1h0M228.3 392.5h0M227.6 389h0M213.8 394.8h0M219.6 394.4h0" stroke="#e8e8e8" stroke-width="2.8" stroke-opacity="0.8" stroke-linecap="round"/><path d="M239.1 393.5h0M238.9 394.8h0M232.3 386.9h0M235.6 395h0M223.4 388h0M215.3 395.6h0" stroke="#bdbdbd" stroke-width="2" stroke-opacity="0.8" stroke-linecap="round"/><path d="M220.1 393.2h0" stroke="#e8e8e8" stroke-width="2.4" stroke-opacity="0.8" stroke-linecap="round"/><path d="M225.4 396.6h0M241.4 388.2h0M236.1 397.3h0" stroke="#bdbdbd" stroke-width="2.4" stroke-opacity="0.8" stroke-linecap="round"/><path d="M229.3 393.8h0M226.1 394.7h0" stroke="#bdbdbd" stroke-width="1.6" stroke-opacity="0.8" stroke-linecap="round"/><path d="M229.5 390.2h0M217.2 387.3h0M239.9 393.9h0" stroke="#e8e8e8" stroke-width="2" stroke-opacity="0.8" stroke-linecap="round"/><path d="M210.2 392.2h0M212.6 393.8h0M216 396.9h0M221.3 394.1h0" stroke="#ffffff" stroke-width="2.8" stroke-opacity="0.8" stroke-linecap="round"/><path d="M237.1 388.1h0M227.4 392.3h0M224.9 397.3h0" stroke="#bdbdbd" stroke-width="2.8" stroke-opacity="0.8" stroke-linecap="round"/><path d="M215.2 393.4h0" stroke="#e8e8e8" stroke-width="1.6" stroke-opacity="0.8" stroke-linecap="round"/><path d="M242.3 389.6h0M234.3 397.1h0" stroke="#e8e8e8" stroke-width="2" stroke-opacity="1" stroke-linecap="round"/><path d="M239.3 397h0M218.4 385.7h0" stroke="#bdbdbd" stroke-width="1.6" stroke-opacity="1" stroke-linecap="round"/><path d="M228.7 396.1h0" stroke="#bdbdbd" stroke-width="2.4" stroke-opacity="1" stroke-linecap="round"/><path d="M218.5 392.3h0" stroke="#bdbdbd" stroke-width="2" stroke-opacity="1" stroke-linecap="round"/><path d="M230.1 384.9h0M221.8 394.2h0" stroke="#e8e8e8" stroke-width="1.6" stroke-opacity="1" stroke-linecap="round"/><path d="M217.8 394.3h0M225.7 396.9h0M208 394.1h0M241.9 385.9h0M213.4 395.2h0" stroke="#ffffff" stroke-width="2.8" stroke-opacity="1" stroke-linecap="round"/><path d="M229.7 392.1h0M218.3 395.9h0M214 393.2h0M224.3 387.7h0" stroke="#e8e8e8" stroke-width="2.4" stroke-opacity="1" stroke-linecap="round"/><path d="M216.5 395.5h0M230.8 390h0M235.1 389.8h0" stroke="#e8e8e8" stroke-width="2.8" stroke-opacity="1" stroke-linecap="round"/><path d="M222.5 395.2h0" stroke="#ffffff" stroke-width="2" stroke-opacity="1" stroke-linecap="round"/><path d="M210.1 387.7h0M218.2 389.1h0" stroke="#bdbdbd" stroke-width="2.8" stroke-opacity="1" stroke-linecap="round"/><path d="M230.6 391.4h0" stroke="#ffffff" stroke-width="2.4" stroke-opacity="1" stroke-linecap="round"/><path d="M230 384.8h0M236 379.2h0M234.4 381.6h0M224.7 385h0" stroke="#777777" stroke-width="2" stroke-opacity="0.4" stroke-linecap="round"/><path d="M241.2 381.8h0M223.7 376.5h0M228.7 382.1h0M223.6 385.4h0M237.2 376.4h0" stroke="#777777" stroke-width="1.6" stroke-opacity="0.4" stroke-linecap="round"/><path d="M233.6 377.4h0" stroke="#777777" stroke-width="1.6" stroke-opacity="0.6" stroke-linecap="round"/><rect x="229.2" y="394.3" width="12" height="1.2" fill="#f0f0f0"/></g>
<g clip-path="url(#cp3_0)"><rect x="24" y="398.9" width="35.1" height="49.8" fill="#000"/><linearGradient id="mg9" x1="0" y1="0" x2="0" y2="1"><stop offset="0" stop-color="#1a0000" stop-opacity="0.9"/><stop offset="0.2" stop-color="#1a0000" stop-opacity="0.9"/><stop offset="0.2" stop-color="#1c6a10" stop-opacity="0.9"/><stop offset="0.6" stop-color="#226a10" stop-opacity="0.9"/><stop offset="0.7" stop-color="#1c6a10" stop-opacity="0.9"/><stop offset="0.7" stop-color="#1a6010" stop-opacity="0.9"/><stop offset="0.7" stop-color="#3a0404" stop-opacity="0.9"/><stop offset="1" stop-color="#340404" stop-opacity="0.9"/></linearGradient><polygon points="24,398.9 59.1,398.9 59.1,448.9 24,448.9" fill="url(#mg9)"/><path d="M40.5 422.1h0M46.1 432h0M46.8 423.2h0M59 433.1h0M36.3 409.5h0M32.4 415.7h0M25.3 430.8h0M50.3 432.5h0M32.6 413h0M54.9 426.7h0M48.4 429.5h0M58.4 423.4h0M34 414.7h0M36.6 426h0M33.5 409.8h0" stroke="#000" stroke-width="1.6" stroke-opacity="0.4" stroke-linecap="round"/><path d="M24.2 430.4h0M32.5 429.2h0M27.4 412.1h0M28.3 431.5h0M56.7 422.9h0M48.7 410.9h0M40.2 409.1h0M36.4 422.1h0M53.4 417.6h0M44.5 427.5h0M39.3 411.6h0M57.7 413h0M46.8 432.6h0M51 424h0M55.8 411.9h0M31.6 426.5h0M43.9 422h0M52.7 428.8h0" stroke="#000" stroke-width="1.2" stroke-opacity="0.4" stroke-linecap="round"/><path d="M58.8 419.5h0M27.7 418.6h0M59 428.6h0M51.2 425.8h0M25.3 412.5h0M47.9 412.7h0M57.2 427.5h0M52.5 425.3h0M51.7 432.2h0M44.6 429.9h0M54.2 411h0" stroke="#000" stroke-width="2" stroke-opacity="0.4" stroke-linecap="round"/><path d="M51.7 432.6h0M33.7 415.4h0" stroke="#000" stroke-width="2" stroke-opacity="0.6" stroke-linecap="round"/><path d="M58.5 432.3h0M58.8 433.2h0M41.2 427.1h0M41.1 424.3h0M41.9 425.3h0M50.3 431.2h0M32 410.1h0M28 430.9h0M52.4 424.7h0M33.9 410.3h0" stroke="#000" stroke-width="1.2" stroke-opacity="0.6" stroke-linecap="round"/><path d="M30.6 414.3h0M51.2 423.8h0M31.6 418h0M47.7 431.5h0M45 429.4h0M40.2 431.8h0M53.6 414.6h0M54.5 426.8h0M40.2 412.3h0M38.1 431.8h0M29.1 432.6h0M28 428.6h0M50.4 414.8h0M24.1 431h0" stroke="#000" stroke-width="1.6" stroke-opacity="0.6" stroke-linecap="round"/><path d="M25.3 407.2h0M46.3 402.9h0" stroke="#ff1010" stroke-width="2.4" stroke-opacity="0.8" stroke-linecap="round"/><path d="M37.7 404.8h0M24.1 406.3h0M37.1 406.3h0M44.5 405.8h0" stroke="#ff0000" stroke-width="2.4" stroke-opacity="0.8" stroke-linecap="round"/><path d="M57.1 404.3h0M48.1 403h0" stroke="#ff0000" stroke-width="2.8" stroke-opacity="0.8" stroke-linecap="round"/><path d="M42.9 402.7h0M47.7 407.3h0M43.3 402.3h0M37.4 400.2h0M51.7 405.4h0M27.9 403.8h0" stroke="#ff1010" stroke-width="2.4" stroke-opacity="1" stroke-linecap="round"/><path d="M33.5 403.9h0M35.8 403.4h0" stroke="#ff1010" stroke-width="2.8" stroke-opacity="1" stroke-linecap="round"/><path d="M46.8 400.3h0M32.4 401.7h0M51.3 400.4h0M53.4 401.2h0M50.8 405h0" stroke="#ff0000" stroke-width="2.4" stroke-opacity="1" stroke-linecap="round"/><path d="M40.5 407.8h0" stroke="#ff0000" stroke-width="2.8" stroke-opacity="1" stroke-linecap="round"/><path d="M41.1 411.7h0M54.2 425.1h0M31.7 417.2h0M34.8 413.8h0M32.3 415.8h0" stroke="#50b828" stroke-width="2.8" stroke-opacity="0.6" stroke-linecap="round"/><path d="M54.5 412h0M36 422.4h0M42.7 421h0M50.5 409.9h0" stroke="#40c020" stroke-width="2.8" stroke-opacity="0.6" stroke-linecap="round"/><path d="M49.1 433.4h0M51.1 425.3h0M52.6 421.2h0" stroke="#40c020" stroke-width="2.4" stroke-opacity="0.6" stroke-linecap="round"/><path d="M33.2 414.2h0M37.5 418.3h0M35.9 412.9h0" stroke="#40d040" stroke-width="2.8" stroke-opacity="0.6" stroke-linecap="round"/><path d="M38.4 412.2h0" stroke="#40d040" stroke-width="2.4" stroke-opacity="0.6" stroke-linecap="round"/><path d="M50.1 413.4h0" stroke="#50b828" stroke-width="2.4" stroke-opacity="0.6" stroke-linecap="round"/><path d="M45.8 430.2h0M45.5 415.3h0M41.8 411.3h0M35.7 416.1h0M49.3 411h0M27.7 429.6h0" stroke="#50b828" stroke-width="2.8" stroke-opacity="0.8" stroke-linecap="round"/><path d="M27.6 412.2h0M44.7 418.7h0" stroke="#50b828" stroke-width="2.4" stroke-opacity="0.8" stroke-linecap="round"/><path d="M28.4 420.7h0" stroke="#40c020" stroke-width="2.4" stroke-opacity="0.8" stroke-linecap="round"/><path d="M52.8 409.1h0M47.2 410.5h0M52.8 417.9h0M39.5 412.4h0M50.3 416.7h0" stroke="#40d040" stroke-width="2.4" stroke-opacity="0.8" stroke-linecap="round"/><path d="M48.3 421.2h0M26.6 417.5h0" stroke="#40d040" stroke-width="2.8" stroke-opacity="0.8" stroke-linecap="round"/><path d="M57.8 428.4h0" stroke="#40c020" stroke-width="2.8" stroke-opacity="0.8" stroke-linecap="round"/><path d="M53.1 431.2h0M37.5 419.5h0" stroke="#e05010" stroke-width="2.4" stroke-opacity="0.6" stroke-linecap="round"/><path d="M35.2 433.6h0M39.6 425.8h0M39 422.3h0" stroke="#e03010" stroke-width="2" stroke-opacity="0.6" stroke-linecap="round"/><path d="M35 422h0" stroke="#e03010" stroke-width="2.4" stroke-opacity="0.6" stroke-linecap="round"/><path d="M52.7 411.1h0M40 433h0M45.7 413.6h0M25.6 414.6h0M37.7 433.1h0" stroke="#f01808" stroke-width="2.4" stroke-opacity="0.6" stroke-linecap="round"/><path d="M39.1 429.7h0M31.5 424.8h0" stroke="#f01808" stroke-width="2" stroke-opacity="0.6" stroke-linecap="round"/><path d="M36.3 424.7h0" stroke="#d06a10" stroke-width="2" stroke-opacity="0.6" stroke-linecap="round"/><path d="M36.9 415.5h0" stroke="#e05010" stroke-width="2" stroke-opacity="0.6" stroke-linecap="round"/><path d="M30.6 410.1h0" stroke="#d06a10" stroke-width="2.4" stroke-opacity="0.6" stroke-linecap="round"/><path d="M53 410.1h0M31.9 415.4h0" stroke="#c0a020" stroke-width="2" stroke-opacity="0.6" stroke-linecap="round"/><path d="M45.8 430.3h0M53.4 417.2h0M25.3 423h0M28.1 411.5h0" stroke="#c0a020" stroke-width="2" stroke-opacity="0.8" stroke-linecap="round"/><path d="M35.4 429.5h0M25.8 422.4h0M51.1 426.6h0M25.6 426h0M39.1 422h0" stroke="#d06a10" stroke-width="2" stroke-opacity="0.8" stroke-linecap="round"/><path d="M41.6 412.5h0M42.4 411.5h0M33.5 414h0M32.3 427.7h0M39.3 412.7h0" stroke="#c0a020" stroke-width="2.4" stroke-opacity="0.8" stroke-linecap="round"/><path d="M24.5 421.8h0M37.6 425h0" stroke="#e05010" stroke-width="2.4" stroke-opacity="0.8" stroke-linecap="round"/><path d="M48.8 427.9h0M54.3 411.5h0M52.5 425.1h0M25.3 412.6h0" stroke="#e05010" stroke-width="2" stroke-opacity="0.8" stroke-linecap="round"/><path d="M24.6 431.1h0M41.2 427.5h0" stroke="#e03010" stroke-width="2.4" stroke-opacity="0.8" stroke-linecap="round"/><path d="M57 422.8h0M41.3 411.7h0M41.8 425.7h0" stroke="#d06a10" stroke-width="2.4" stroke-opacity="0.8" stroke-linecap="round"/><path d="M43.3 430.6h0" stroke="#e03010" stroke-width="2" stroke-opacity="0.8" stroke-linecap="round"/><path d="M26.7 417h0M47.3 428.3h0M34.6 412h0M37.1 421.5h0" stroke="#f01808" stroke-width="2" stroke-opacity="0.8" stroke-linecap="round"/><path d="M48.4 426.3h0" stroke="#f01808" stroke-width="2.4" stroke-opacity="0.8" stroke-linecap="round"/><path d="M52.5 416.5h0" stroke="#c0a020" stroke-width="2.4" stroke-opacity="1" stroke-linecap="round"/><path d="M24.1 414.3h0" stroke="#e05010" stroke-width="2" stroke-opacity="1" stroke-linecap="round"/><path d="M37.9 427.4h0" stroke="#e03010" stroke-width="2" stroke-opacity="1" stroke-linecap="round"/><path d="M28.4 429.8h0M55.3 423.4h0" stroke="#e03010" stroke-width="2.4" stroke-opacity="1" stroke-linecap="round"/><path d="M45.5 432.1h0" stroke="#c0a020" stroke-width="2" stroke-opacity="1" stroke-linecap="round"/><path d="M49.6 419.4h0M54.3 419h0" stroke="#ff0000" stroke-width="2" stroke-opacity="0.8" stroke-linecap="round"/><path d="M58 426.3h0M50.3 421.6h0" stroke="#ff0000" stroke-width="2.4" stroke-opacity="0.8" stroke-linecap="round"/><path d="M33.5 426.3h0M36.6 426.3h0M46.1 420.8h0M53.2 424.9h0M54.5 419.9h0" stroke="#e81010" stroke-width="2.4" stroke-opacity="0.8" stroke-linecap="round"/><path d="M34.2 423.8h0M49 426.7h0M31.9 418.9h0M49.7 420.7h0M54.4 419.8h0" stroke="#e81010" stroke-width="2.4" stroke-opacity="1" stroke-linecap="round"/><path d="M28.7 423.9h0M36.9 422.8h0" stroke="#ff0000" stroke-width="2.4" stroke-opacity="1" stroke-linecap="round"/><path d="M38.4 419.3h0" stroke="#ff0000" stroke-width="2" stroke-opacity="1" stroke-linecap="round"/><path d="M46.5 421.4h0" stroke="#e81010" stroke-width="2" stroke-opacity="1" stroke-linecap="round"/><path d="M33.5 400.3h0" stroke="#e0e0e0" stroke-width="2" stroke-opacity="0.6" stroke-linecap="round"/><path d="M53.1 399.4h0M45.2 399.8h0M49.3 401.3h0" stroke="#e0e0e0" stroke-width="1.6" stroke-opacity="0.6" stroke-linecap="round"/><path d="M50 399.8h0" stroke="#e0e0e0" stroke-width="2" stroke-opacity="0.8" stroke-linecap="round"/><path d="M42.4 400.9h0" stroke="#e0e0e0" stroke-width="1.6" stroke-opacity="0.8" stroke-linecap="round"/><path d="M54.4 447.3h0M33.6 439h0M50.2 441.6h0M45.5 445.7h0M45.2 441.9h0M34.1 446.7h0M35.2 445.6h0M49 441.3h0M28.3 439.3h0M43.1 444.5h0" stroke="#800000" stroke-width="1.6" stroke-opacity="0.4" stroke-linecap="round"/><path d="M53.8 446.9h0M24.7 448h0M52.6 444.8h0M45.8 435.8h0M53 434.7h0M42.9 443.1h0M35.9 445.2h0M40.4 436.9h0M28.6 434.8h0M44.5 447.5h0M52.4 436h0" stroke="#600000" stroke-width="1.6" stroke-opacity="0.4" stroke-linecap="round"/><path d="M58.2 444.2h0M37.2 444h0M51.2 442.2h0M58.7 442.4h0M53.2 444.3h0M44.3 437.5h0M41 446.9h0" stroke="#800000" stroke-width="1.2" stroke-opacity="0.4" stroke-linecap="round"/><path d="M39.6 436.9h0M39.8 434.5h0M43.8 442.8h0M49.2 447.8h0" stroke="#600000" stroke-width="1.2" stroke-opacity="0.4" stroke-linecap="round"/><path d="M33.1 437.3h0M32.8 443.3h0M47.3 438.6h0M28 436.8h0M26 447.9h0" stroke="#600000" stroke-width="1.6" stroke-opacity="0.6" stroke-linecap="round"/><path d="M41.4 446.7h0M32.3 446.1h0M54.4 439.2h0M46.5 448.1h0M30.4 443.7h0" stroke="#800000" stroke-width="1.6" stroke-opacity="0.6" stroke-linecap="round"/><path d="M50.8 448h0M28.2 446.6h0M44 444.6h0M38.3 439h0M37.7 435.2h0M26 448.4h0" stroke="#600000" stroke-width="1.2" stroke-opacity="0.6" stroke-linecap="round"/><path d="M29.7 448h0M42 436.1h0" stroke="#800000" stroke-width="1.2" stroke-opacity="0.6" stroke-linecap="round"/><line x1="24" y1="402.3" x2="59.1" y2="401.7" stroke="#e4e4e4" stroke-width="1.0" stroke-dasharray="2.5 2.0"/><line x1="24" y1="433.9" x2="59.1" y2="433.4" stroke="#e4e4e4" stroke-width="1.0" stroke-dasharray="2.5 2.0"/><rect x="45.8" y="446.3" width="12" height="1.2" fill="#f0f0f0"/></g>
<g clip-path="url(#cp3_1)"><rect x="60.7" y="398.9" width="35.1" height="49.8" fill="#000"/><linearGradient id="mg10" x1="0" y1="0" x2="0" y2="1"><stop offset="0" stop-color="#1a0000" stop-opacity="0.9"/><stop offset="0.2" stop-color="#1a0000" stop-opacity="0.9"/><stop offset="0.2" stop-color="#1c6a10" stop-opacity="0.9"/><stop offset="0.6" stop-color="#226a10" stop-opacity="0.9"/><stop offset="0.7" stop-color="#1c6a10" stop-opacity="0.9"/><stop offset="0.7" stop-color="#1a6010" stop-opacity="0.9"/><stop offset="0.7" stop-color="#3a0404" stop-opacity="0.9"/><stop offset="1" stop-color="#340404" stop-opacity="0.9"/></linearGradient><polygon points="60.7,398.9 95.8,398.9 95.8,448.9 60.7,448.9" fill="url(#mg10)"/><path d="M66.4 430h0M91.5 419.2h0M65.7 430.1h0M87.3 417.4h0M63.6 422.1h0M74 417h0M84.1 411.1h0M81 419.2h0M81.9 416.6h0M67.6 410.4h0" stroke="#000" stroke-width="2" stroke-opacity="0.4" stroke-linecap="round"/><path d="M64.4 410.5h0M85.4 416.4h0M87.2 409.3h0M72.7 410.5h0M69.7 409.3h0M63.4 432.9h0M88.3 413.3h0M70.9 430.2h0M76.8 409.4h0M91.3 434.1h0M95.6 432.5h0M85.5 415.9h0M93.8 424.2h0M91.6 421.4h0M68.2 414.1h0M75.6 409.4h0M77.6 414.1h0M67 430.6h0M84.7 411h0M74.5 419.1h0M70.2 412.6h0M89.9 417.3h0M81.7 425.8h0M70.4 432.7h0M86.7 423.6h0M72.3 427.7h0M64 428.5h0M77.1 417.4h0M94.9 431.9h0" stroke="#000" stroke-width="1.6" stroke-opacity="0.4" stroke-linecap="round"/><path d="M74.9 414.2h0M89.9 432.6h0M72.9 427.8h0M87.7 415.3h0M62.5 433.9h0M78.7 411.4h0M85.1 432.4h0M94.8 419.9h0M82.3 416.3h0M75.4 426.9h0M73.4 424.6h0" stroke="#000" stroke-width="1.2" stroke-opacity="0.4" stroke-linecap="round"/><path d="M74.3 418.3h0M80.7 415.4h0M62 425.7h0M75.3 409.1h0M95.4 425.7h0M70.4 417.2h0M90.7 413.9h0M93.6 423.1h0M62 414.8h0M93.2 430.2h0" stroke="#000" stroke-width="1.6" stroke-opacity="0.6" stroke-linecap="round"/><path d="M71 426.1h0M80.7 426.1h0M85.7 412h0M93.2 429.6h0M87.7 417.7h0" stroke="#000" stroke-width="1.2" stroke-opacity="0.6" stroke-linecap="round"/><path d="M74.1 409.4h0M76 434.1h0M75.9 431.6h0M84.2 429.3h0M87.7 410.9h0" stroke="#000" stroke-width="2" stroke-opacity="0.6" stroke-linecap="round"/><path d="M85.4 405.6h0M73 404.7h0M95 402.1h0" stroke="#ff1010" stroke-width="2" stroke-opacity="0.8" stroke-linecap="round"/><path d="M79.7 400.2h0M71.6 404.8h0M63.2 406.2h0" stroke="#ff0000" stroke-width="2.4" stroke-opacity="0.8" stroke-linecap="round"/><path d="M73.4 404.8h0M68.7 406.2h0" stroke="#ff0000" stroke-width="2.8" stroke-opacity="0.8" stroke-linecap="round"/><path d="M94.6 400.6h0M80.3 403.3h0M89 406h0" stroke="#ff1010" stroke-width="2.4" stroke-opacity="0.8" stroke-linecap="round"/><path d="M87.8 407.3h0" stroke="#ff0000" stroke-width="2" stroke-opacity="0.8" stroke-linecap="round"/><path d="M67.7 402.2h0M84.2 407.5h0M70.4 404.3h0" stroke="#ff1010" stroke-width="2.4" stroke-opacity="1" stroke-linecap="round"/><path d="M88.1 406.9h0M86.5 403.2h0" stroke="#ff1010" stroke-width="2" stroke-opacity="1" stroke-linecap="round"/><path d="M93.1 400.1h0M73 405.1h0" stroke="#ff0000" stroke-width="2" stroke-opacity="1" stroke-linecap="round"/><path d="M65.4 402.3h0M68 401.1h0" stroke="#ff0000" stroke-width="2.4" stroke-opacity="1" stroke-linecap="round"/><path d="M78 406.5h0" stroke="#ff0000" stroke-width="2.8" stroke-opacity="1" stroke-linecap="round"/><path d="M67.1 431.2h0M85.9 426h0M88.8 417.1h0" stroke="#40d040" stroke-width="2.8" stroke-opacity="0.6" stroke-linecap="round"/><path d="M79.4 432.1h0M69.2 430.6h0M66.8 429.5h0" stroke="#50b828" stroke-width="2.8" stroke-opacity="0.6" stroke-linecap="round"/><path d="M78 409h0M95.1 432.8h0M71.2 434h0M60.7 417.5h0" stroke="#40c020" stroke-width="2.4" stroke-opacity="0.6" stroke-linecap="round"/><path d="M62.2 410.6h0M89.7 414.7h0M91.8 427.6h0M65.8 418.6h0" stroke="#40d040" stroke-width="2.4" stroke-opacity="0.6" stroke-linecap="round"/><path d="M64.8 431.7h0M74.5 412.5h0" stroke="#50b828" stroke-width="2.4" stroke-opacity="0.6" stroke-linecap="round"/><path d="M84.2 416.1h0M92.3 414.9h0" stroke="#40d040" stroke-width="2.8" stroke-opacity="0.8" stroke-linecap="round"/><path d="M84.7 421.1h0M67.9 410.4h0M78.5 426.2h0M85.1 427.1h0M73.5 428.3h0M61.2 418.6h0M78.2 432.9h0M68.9 414.5h0M80 413.9h0" stroke="#40c020" stroke-width="2.4" stroke-opacity="0.8" stroke-linecap="round"/><path d="M73.4 430.1h0M63.4 410.1h0M66.2 421.5h0" stroke="#40d040" stroke-width="2.4" stroke-opacity="0.8" stroke-linecap="round"/><path d="M95.6 427.3h0M91.7 428.5h0M69.5 418.1h0" stroke="#40c020" stroke-width="2.8" stroke-opacity="0.8" stroke-linecap="round"/><path d="M79.6 414.8h0" stroke="#50b828" stroke-width="2.8" stroke-opacity="0.8" stroke-linecap="round"/><path d="M95.2 424.8h0" stroke="#c0a020" stroke-width="2.4" stroke-opacity="0.6" stroke-linecap="round"/><path d="M62.6 418.8h0" stroke="#e03010" stroke-width="2" stroke-opacity="0.6" stroke-linecap="round"/><path d="M93 418.1h0M73.9 416.2h0" stroke="#e05010" stroke-width="2" stroke-opacity="0.6" stroke-linecap="round"/><path d="M67.8 428.7h0M92.9 420h0" stroke="#f01808" stroke-width="2" stroke-opacity="0.6" stroke-linecap="round"/><path d="M67.2 425.9h0M65 413.8h0M94.4 410.1h0" stroke="#f01808" stroke-width="2.4" stroke-opacity="0.6" stroke-linecap="round"/><path d="M86.9 415.2h0M84.2 414.4h0" stroke="#c0a020" stroke-width="2" stroke-opacity="0.6" stroke-linecap="round"/><path d="M74.2 409.4h0" stroke="#e03010" stroke-width="2.4" stroke-opacity="0.6" stroke-linecap="round"/><path d="M83.1 426.3h0M69.6 432.5h0" stroke="#e05010" stroke-width="2.4" stroke-opacity="0.8" stroke-linecap="round"/><path d="M82.5 422.5h0M73.4 429.2h0M63.2 413.8h0M64.4 410.4h0" stroke="#e05010" stroke-width="2" stroke-opacity="0.8" stroke-linecap="round"/><path d="M92.6 412.6h0M65.9 430.5h0M77.6 412.2h0" stroke="#e03010" stroke-width="2.4" stroke-opacity="0.8" stroke-linecap="round"/><path d="M65.4 418.8h0M78.1 412h0M68.6 416.2h0M76.4 421.4h0M71.1 426.8h0M70.4 413.7h0" stroke="#d06a10" stroke-width="2" stroke-opacity="0.8" stroke-linecap="round"/><path d="M82.2 428.4h0M72.5 413.7h0M73 432.8h0M78 416.6h0M92.7 409.3h0" stroke="#f01808" stroke-width="2.4" stroke-opacity="0.8" stroke-linecap="round"/><path d="M88.4 415.7h0M69.2 422.3h0" stroke="#e03010" stroke-width="2" stroke-opacity="0.8" stroke-linecap="round"/><path d="M71.7 427.1h0" stroke="#f01808" stroke-width="2" stroke-opacity="0.8" stroke-linecap="round"/><path d="M69.8 424.8h0M89.1 408.9h0M75.1 418.2h0M85.4 424.3h0" stroke="#c0a020" stroke-width="2" stroke-opacity="0.8" stroke-linecap="round"/><path d="M91.8 427.2h0M77.1 415.4h0M76.4 415.6h0M66.5 423.1h0" stroke="#c0a020" stroke-width="2.4" stroke-opacity="0.8" stroke-linecap="round"/><path d="M90.2 428h0M71.8 413.3h0M94.5 411.7h0M68.5 410.8h0" stroke="#d06a10" stroke-width="2.4" stroke-opacity="0.8" stroke-linecap="round"/><path d="M80.6 426.2h0M80.6 431.3h0M89.1 419.8h0M85.4 429.7h0" stroke="#d06a10" stroke-width="2.4" stroke-opacity="1" stroke-linecap="round"/><path d="M88.8 425.6h0" stroke="#e03010" stroke-width="2.4" stroke-opacity="1" stroke-linecap="round"/><path d="M86.4 413h0M82.4 427.4h0" stroke="#f01808" stroke-width="2.4" stroke-opacity="1" stroke-linecap="round"/><path d="M84.1 432.9h0" stroke="#c0a020" stroke-width="2.4" stroke-opacity="1" stroke-linecap="round"/><path d="M95.3 420.7h0M67.3 425.5h0" stroke="#ff0000" stroke-width="2" stroke-opacity="0.8" stroke-linecap="round"/><path d="M63.7 419.5h0M87.6 419.3h0M62.5 420.4h0M79.3 425.3h0" stroke="#e81010" stroke-width="2.4" stroke-opacity="0.8" stroke-linecap="round"/><path d="M63.5 423.8h0M75.9 426.9h0M84.1 423.9h0M72.6 424.1h0" stroke="#ff0000" stroke-width="2.4" stroke-opacity="0.8" stroke-linecap="round"/><path d="M78.4 419.4h0M81.5 425.2h0M71 422.2h0M71 420.4h0" stroke="#e81010" stroke-width="2" stroke-opacity="0.8" stroke-linecap="round"/><path d="M83.1 419.2h0" stroke="#ff0000" stroke-width="2.4" stroke-opacity="1" stroke-linecap="round"/><path d="M76.8 421h0M91.2 425.8h0" stroke="#e81010" stroke-width="2.4" stroke-opacity="1" stroke-linecap="round"/><path d="M67.1 421.8h0" stroke="#e81010" stroke-width="2" stroke-opacity="1" stroke-linecap="round"/><path d="M70.9 402.4h0" stroke="#e0e0e0" stroke-width="1.2" stroke-opacity="0.6" stroke-linecap="round"/><path d="M73 399.7h0" stroke="#e0e0e0" stroke-width="1.6" stroke-opacity="0.6" stroke-linecap="round"/><path d="M79.2 400.5h0M71.4 402.3h0" stroke="#e0e0e0" stroke-width="1.6" stroke-opacity="0.8" stroke-linecap="round"/><path d="M94.7 403.1h0M93.3 399.9h0" stroke="#e0e0e0" stroke-width="1.2" stroke-opacity="0.8" stroke-linecap="round"/><path d="M69.8 442.5h0M90.6 435.9h0M71.8 447.1h0M91 442.6h0M90.9 439.3h0M81.8 448.9h0M68.2 443.9h0M72.7 443.2h0M94 434.6h0M79.4 442.5h0" stroke="#800000" stroke-width="1.2" stroke-opacity="0.4" stroke-linecap="round"/><path d="M73.5 440.4h0M88.8 441.4h0M63.4 434.8h0" stroke="#800000" stroke-width="1.6" stroke-opacity="0.4" stroke-linecap="round"/><path d="M81.2 440.9h0M79.2 435.3h0M81.4 439.5h0M85.3 445.8h0" stroke="#600000" stroke-width="1.6" stroke-opacity="0.4" stroke-linecap="round"/><path d="M94.1 436.7h0M75.4 443.1h0" stroke="#600000" stroke-width="1.2" stroke-opacity="0.4" stroke-linecap="round"/><path d="M87.6 440.2h0M83.3 440.4h0M82.9 439.6h0M95.6 444.4h0M77.8 439.1h0M75 435.6h0M80.1 448.7h0" stroke="#600000" stroke-width="1.6" stroke-opacity="0.6" stroke-linecap="round"/><path d="M90.2 444h0M84 440.2h0M85.1 436.7h0M81 443.8h0M65.7 438.5h0M83.7 447.7h0M78.6 440.7h0M91 436.4h0M88.2 447.7h0M64.4 438h0M87 436.5h0M83.4 448.7h0" stroke="#800000" stroke-width="1.6" stroke-opacity="0.6" stroke-linecap="round"/><path d="M66.2 439.6h0M83 443.8h0M72.1 445h0M92.4 436.5h0M79.4 443.1h0" stroke="#600000" stroke-width="1.2" stroke-opacity="0.6" stroke-linecap="round"/><path d="M75.9 447.4h0M78.5 438.5h0M71.6 441.1h0M65.5 440.6h0M74.3 436.9h0M66 445.3h0M75.3 435.8h0" stroke="#800000" stroke-width="1.2" stroke-opacity="0.6" stroke-linecap="round"/><line x1="60.7" y1="401.9" x2="95.8" y2="401.9" stroke="#e4e4e4" stroke-width="1.0" stroke-dasharray="2.5 2.0"/><line x1="60.7" y1="434.1" x2="95.8" y2="433.9" stroke="#e4e4e4" stroke-width="1.0" stroke-dasharray="2.5 2.0"/><rect x="82.5" y="446.3" width="12" height="1.2" fill="#f0f0f0"/></g>
<g clip-path="url(#cp3_2)"><rect x="97.4" y="398.9" width="35.1" height="49.8" fill="#000"/><linearGradient id="mg11" x1="0" y1="0" x2="0" y2="1"><stop offset="0" stop-color="#585858" stop-opacity="0.9"/><stop offset="0.2" stop-color="#4a6a38" stop-opacity="0.9"/><stop offset="0.7" stop-color="#3a7a28" stop-opacity="0.9"/><stop offset="0.7" stop-color="#4a0808" stop-opacity="0.9"/><stop offset="0.8" stop-color="#380808" stop-opacity="0.9"/><stop offset="1" stop-color="#484848" stop-opacity="0.9"/></linearGradient><polygon points="97.4,398.9 132.5,398.9 132.5,448.9 97.4,448.9" fill="url(#mg11)"/><path d="M98.3 415.1h0M107.2 420.8h0M104.1 422.1h0M118.1 425h0M103.1 430.6h0" stroke="#e8c8c8" stroke-width="2.4" stroke-opacity="0.6" stroke-linecap="round"/><path d="M117.3 417.7h0M105.8 406.3h0M98 418.9h0" stroke="#d8d8d8" stroke-width="1.6" stroke-opacity="0.6" stroke-linecap="round"/><path d="M125.7 402.7h0" stroke="#d08080" stroke-width="2" stroke-opacity="0.6" stroke-linecap="round"/><path d="M122.5 408.1h0M107.7 405.2h0" stroke="#e07070" stroke-width="2.4" stroke-opacity="0.6" stroke-linecap="round"/><path d="M103.9 409.4h0M112.2 408.3h0M117.6 414.9h0M126.2 408.4h0" stroke="#d08080" stroke-width="2.4" stroke-opacity="0.6" stroke-linecap="round"/><path d="M113.1 424h0M113.9 428.1h0" stroke="#e07070" stroke-width="2" stroke-opacity="0.6" stroke-linecap="round"/><path d="M111.2 428.3h0M119.9 415.9h0" stroke="#f0f0f0" stroke-width="2.4" stroke-opacity="0.6" stroke-linecap="round"/><path d="M117.6 428.4h0M114.2 427.3h0M128.2 408.4h0M118.8 417.1h0M116.7 429.5h0" stroke="#f0a0a0" stroke-width="2.4" stroke-opacity="0.6" stroke-linecap="round"/><path d="M106.1 421.6h0M112.6 405.1h0M105.1 406.5h0M113.6 407.3h0" stroke="#e8c8c8" stroke-width="2" stroke-opacity="0.6" stroke-linecap="round"/><path d="M113.5 415.9h0M107.2 417.9h0M100.2 402.9h0" stroke="#d8d8d8" stroke-width="2" stroke-opacity="0.6" stroke-linecap="round"/><path d="M131.7 411.1h0M124.9 405.7h0M121.2 410h0M99.5 400.6h0M104.6 432.3h0M110.7 403.4h0" stroke="#f0a0a0" stroke-width="2" stroke-opacity="0.6" stroke-linecap="round"/><path d="M108.6 410.7h0M111.9 430.6h0M114.9 419.2h0M108.9 412.9h0" stroke="#d8d8d8" stroke-width="2.4" stroke-opacity="0.6" stroke-linecap="round"/><path d="M101 428.7h0M108.8 414.3h0" stroke="#d08080" stroke-width="1.6" stroke-opacity="0.6" stroke-linecap="round"/><path d="M111 411.1h0M105.4 420.7h0" stroke="#f0a0a0" stroke-width="1.6" stroke-opacity="0.6" stroke-linecap="round"/><path d="M99.9 420.5h0" stroke="#e07070" stroke-width="1.6" stroke-opacity="0.6" stroke-linecap="round"/><path d="M125.4 410.7h0" stroke="#f0f0f0" stroke-width="2" stroke-opacity="0.6" stroke-linecap="round"/><path d="M102.5 402.6h0M128.5 429.4h0M130.7 410.8h0M129.4 425.5h0M103.7 414.2h0M119.1 399.8h0" stroke="#e8c8c8" stroke-width="2" stroke-opacity="0.8" stroke-linecap="round"/><path d="M101.5 432.5h0M128.1 402.5h0M122.1 413.2h0M123.5 428.9h0M109.2 429.4h0M107.9 399.5h0M104.3 424.3h0M116 421.3h0M125.7 404.6h0" stroke="#f0f0f0" stroke-width="2.4" stroke-opacity="0.8" stroke-linecap="round"/><path d="M110.9 422.5h0M126.8 412.7h0M115.8 399.2h0M130.5 425.3h0M128.7 422.6h0" stroke="#e8c8c8" stroke-width="2.4" stroke-opacity="0.8" stroke-linecap="round"/><path d="M109.4 411.9h0M105.3 400.9h0M104.7 422.6h0M129.7 410.1h0M107.9 419.2h0M121.7 418.1h0" stroke="#d8d8d8" stroke-width="2" stroke-opacity="0.8" stroke-linecap="round"/><path d="M118.6 409.6h0M129.8 404.9h0M127.7 408.8h0M126.7 399.4h0M98.6 417.2h0M115 401.6h0" stroke="#f0a0a0" stroke-width="2.4" stroke-opacity="0.8" stroke-linecap="round"/><path d="M111.9 414.3h0M100 399.1h0M123.7 399.5h0M109.8 419.5h0" stroke="#d08080" stroke-width="2.4" stroke-opacity="0.8" stroke-linecap="round"/><path d="M98.5 418.4h0M118.6 413.3h0M127.8 425.3h0" stroke="#e07070" stroke-width="2" stroke-opacity="0.8" stroke-linecap="round"/><path d="M99.6 412.4h0M122.6 402.4h0M120.4 411.2h0M109.6 417.9h0M116.4 409.1h0" stroke="#f0a0a0" stroke-width="1.6" stroke-opacity="0.8" stroke-linecap="round"/><path d="M105.3 400.4h0M132.1 410.4h0M99.9 414.6h0" stroke="#f0a0a0" stroke-width="2" stroke-opacity="0.8" stroke-linecap="round"/><path d="M101.3 418.7h0M116.1 408.3h0M113.1 405.4h0" stroke="#e8c8c8" stroke-width="1.6" stroke-opacity="0.8" stroke-linecap="round"/><path d="M111.4 407h0" stroke="#f0f0f0" stroke-width="1.6" stroke-opacity="0.8" stroke-linecap="round"/><path d="M108.4 428h0M121.6 420.8h0M118.7 429.8h0" stroke="#f0f0f0" stroke-width="2" stroke-opacity="0.8" stroke-linecap="round"/><path d="M101.6 432.2h0M132.3 406h0M130.1 399.2h0M107.5 408.1h0M130.7 414.5h0" stroke="#e07070" stroke-width="2.4" stroke-opacity="0.8" stroke-linecap="round"/><path d="M113.1 405h0M103.3 413.5h0M115.8 415.4h0" stroke="#d08080" stroke-width="1.6" stroke-opacity="0.8" stroke-linecap="round"/><path d="M125.2 419.6h0M99 413.5h0" stroke="#e07070" stroke-width="1.6" stroke-opacity="0.8" stroke-linecap="round"/><path d="M98.3 418.6h0M130.7 416.1h0M116.8 399.1h0" stroke="#d08080" stroke-width="2" stroke-opacity="0.8" stroke-linecap="round"/><path d="M120.6 415.6h0M113.3 421.7h0M116.4 404.5h0" stroke="#d8d8d8" stroke-width="2.4" stroke-opacity="0.8" stroke-linecap="round"/><path d="M100.8 417.1h0M118.8 423.4h0" stroke="#d8d8d8" stroke-width="1.6" stroke-opacity="0.8" stroke-linecap="round"/><path d="M115.5 416.4h0" stroke="#d08080" stroke-width="2.4" stroke-opacity="1" stroke-linecap="round"/><path d="M102.6 431.8h0M131.9 425.6h0" stroke="#d08080" stroke-width="1.6" stroke-opacity="1" stroke-linecap="round"/><path d="M114.4 403.5h0M114.9 402.7h0" stroke="#f0a0a0" stroke-width="2" stroke-opacity="1" stroke-linecap="round"/><path d="M108.6 403.7h0M108.3 431.2h0" stroke="#f0f0f0" stroke-width="2" stroke-opacity="1" stroke-linecap="round"/><path d="M114.1 404.8h0" stroke="#e8c8c8" stroke-width="2" stroke-opacity="1" stroke-linecap="round"/><path d="M101.1 409.5h0M126.5 429h0" stroke="#e07070" stroke-width="2" stroke-opacity="1" stroke-linecap="round"/><path d="M100.9 406.9h0M114.2 417h0" stroke="#d8d8d8" stroke-width="2" stroke-opacity="1" stroke-linecap="round"/><path d="M105.2 417.9h0" stroke="#f0a0a0" stroke-width="1.6" stroke-opacity="1" stroke-linecap="round"/><path d="M110.3 414.4h0" stroke="#d08080" stroke-width="2" stroke-opacity="1" stroke-linecap="round"/><path d="M107.7 428.2h0M119.9 421.3h0" stroke="#f0f0f0" stroke-width="2.4" stroke-opacity="1" stroke-linecap="round"/><path d="M110.9 426.5h0M121.6 425.1h0" stroke="#e8c8c8" stroke-width="2.4" stroke-opacity="1" stroke-linecap="round"/><path d="M108.5 413.6h0" stroke="#d8d8d8" stroke-width="1.6" stroke-opacity="1" stroke-linecap="round"/><path d="M115.6 431.7h0" stroke="#d8d8d8" stroke-width="2.4" stroke-opacity="1" stroke-linecap="round"/><path d="M115.2 403.6h0" stroke="#f0a0a0" stroke-width="2.4" stroke-opacity="1" stroke-linecap="round"/><path d="M114.3 427.2h0M126.4 426.4h0M123.4 427.7h0M127 429.1h0M99.5 423.9h0" stroke="#40d040" stroke-width="3.2" stroke-opacity="0.6" stroke-linecap="round"/><path d="M97.4 421.7h0M111.3 421.5h0" stroke="#40d040" stroke-width="2.8" stroke-opacity="0.6" stroke-linecap="round"/><path d="M111.9 422.2h0M125 426.2h0" stroke="#40d040" stroke-width="2.4" stroke-opacity="0.6" stroke-linecap="round"/><path d="M108.6 419.3h0" stroke="#40d040" stroke-width="3.2" stroke-opacity="0.8" stroke-linecap="round"/><path d="M101.4 429.5h0" stroke="#40d040" stroke-width="2.4" stroke-opacity="0.8" stroke-linecap="round"/><path d="M118.8 422h0" stroke="#40d040" stroke-width="2.8" stroke-opacity="0.8" stroke-linecap="round"/><path d="M105.1 447.2h0M98.6 448h0M112.5 448.7h0" stroke="#b0b0b0" stroke-width="2" stroke-opacity="0.4" stroke-linecap="round"/><path d="M109.4 446.3h0M105.3 444.6h0M106.3 442.6h0M112.6 448h0" stroke="#888888" stroke-width="2" stroke-opacity="0.4" stroke-linecap="round"/><path d="M131 437.4h0M126.3 438h0M130 438.3h0" stroke="#d0d0d0" stroke-width="1.6" stroke-opacity="0.4" stroke-linecap="round"/><path d="M116.7 444.6h0M116.8 445.5h0" stroke="#888888" stroke-width="1.6" stroke-opacity="0.4" stroke-linecap="round"/><path d="M122.2 440.1h0M118.2 444h0M121.2 444.7h0" stroke="#d0d0d0" stroke-width="2" stroke-opacity="0.4" stroke-linecap="round"/><path d="M103.3 437.1h0M100.6 437.6h0M97.8 443.7h0" stroke="#888888" stroke-width="2" stroke-opacity="0.6" stroke-linecap="round"/><path d="M114.8 439.1h0M114.3 447.5h0M110.3 445h0M127.9 438.5h0M130.4 438.8h0M97.5 448.9h0" stroke="#b0b0b0" stroke-width="2" stroke-opacity="0.6" stroke-linecap="round"/><path d="M113.1 440.6h0M123.7 439.3h0M105.3 443.8h0M116.2 437.6h0" stroke="#d0d0d0" stroke-width="2" stroke-opacity="0.6" stroke-linecap="round"/><path d="M105.2 443.7h0M132.3 440.1h0M130.2 440.7h0M98.9 443.1h0M131.7 439.4h0" stroke="#d0d0d0" stroke-width="1.6" stroke-opacity="0.6" stroke-linecap="round"/><path d="M117.9 437.7h0M114.9 438h0M120.3 443.5h0" stroke="#b0b0b0" stroke-width="1.6" stroke-opacity="0.6" stroke-linecap="round"/><path d="M101.1 440.5h0M103.9 448.2h0M115.9 442.6h0M124.2 438.1h0" stroke="#d0d0d0" stroke-width="2" stroke-opacity="0.8" stroke-linecap="round"/><path d="M118 448.3h0M114.7 448.3h0M117.7 441.1h0M120.1 441.8h0M99.6 444.3h0" stroke="#b0b0b0" stroke-width="1.6" stroke-opacity="0.8" stroke-linecap="round"/><path d="M120 442.5h0M109.2 439.8h0" stroke="#888888" stroke-width="1.6" stroke-opacity="0.8" stroke-linecap="round"/><path d="M126.3 446.1h0M110 438.8h0M118.4 441h0" stroke="#888888" stroke-width="2" stroke-opacity="0.8" stroke-linecap="round"/><line x1="97.4" y1="433.4" x2="132.5" y2="431.3" stroke="#e4e4e4" stroke-width="1.0" stroke-dasharray="2.5 2.0"/><rect x="119.2" y="446.3" width="12" height="1.2" fill="#f0f0f0"/></g>
<g clip-path="url(#cp3_3)"><rect x="134" y="398.9" width="35.1" height="49.8" fill="#000"/><linearGradient id="mg12" x1="0" y1="0" x2="0" y2="1"><stop offset="0" stop-color="#1a7a10" stop-opacity="0.9"/><stop offset="0.4" stop-color="#2a9a18" stop-opacity="0.9"/><stop offset="0.5" stop-color="#2a7a10" stop-opacity="0.9"/><stop offset="0.6" stop-color="#400000" stop-opacity="0.9"/><stop offset="0.8" stop-color="#300000" stop-opacity="0.9"/><stop offset="1" stop-color="#303030" stop-opacity="0.9"/></linearGradient><polygon points="134,398.9 169.1,398.9 169.1,448.9 134,448.9" fill="url(#mg12)"/><path d="M146.1 398.9h0" stroke="#40d040" stroke-width="3.2" stroke-opacity="0.6" stroke-linecap="round"/><path d="M155.2 418.2h0M135.6 408.8h0M150.5 406.4h0" stroke="#50d030" stroke-width="2.8" stroke-opacity="0.6" stroke-linecap="round"/><path d="M156.8 411.6h0M168 403.4h0" stroke="#40d040" stroke-width="2.8" stroke-opacity="0.6" stroke-linecap="round"/><path d="M154.1 412.4h0M160.9 411h0M134.6 404.2h0M169 408.5h0" stroke="#50d030" stroke-width="3.2" stroke-opacity="0.6" stroke-linecap="round"/><path d="M162.7 417.1h0" stroke="#40d040" stroke-width="3.6" stroke-opacity="0.6" stroke-linecap="round"/><path d="M161 420.3h0M139.7 413.7h0" stroke="#40d040" stroke-width="3.2" stroke-opacity="0.8" stroke-linecap="round"/><path d="M157.3 418.1h0M166.1 421.6h0M154.2 402.3h0M143.7 419.2h0M163.7 410h0" stroke="#40d040" stroke-width="2.8" stroke-opacity="0.8" stroke-linecap="round"/><path d="M159.5 419.9h0" stroke="#40d040" stroke-width="3.6" stroke-opacity="0.8" stroke-linecap="round"/><path d="M151.7 405.2h0M161.4 402h0M152.7 402.6h0" stroke="#50d030" stroke-width="3.2" stroke-opacity="0.8" stroke-linecap="round"/><path d="M144.9 421.9h0M137.6 408.3h0M135.2 422.2h0" stroke="#50d030" stroke-width="2.8" stroke-opacity="0.8" stroke-linecap="round"/><path d="M160.9 401.9h0M154.3 417.4h0M167.7 418h0M139.6 415.8h0" stroke="#e08020" stroke-width="2" stroke-opacity="0.8" stroke-linecap="round"/><path d="M143.9 422.6h0M135.2 422.9h0M149.2 421.9h0" stroke="#e08020" stroke-width="2.8" stroke-opacity="0.8" stroke-linecap="round"/><path d="M162.3 417.3h0M164.5 409.5h0M168.9 420.2h0M165.1 406.1h0M144.7 418.3h0" stroke="#ff0000" stroke-width="2.4" stroke-opacity="0.8" stroke-linecap="round"/><path d="M135.3 422.4h0M167.1 413.4h0M160.3 401.4h0M143 420.2h0M161.2 406.7h0M143.9 413.9h0" stroke="#ff3010" stroke-width="2.4" stroke-opacity="0.8" stroke-linecap="round"/><path d="M136.5 421h0M160.7 417.7h0" stroke="#e08020" stroke-width="2.4" stroke-opacity="0.8" stroke-linecap="round"/><path d="M168.6 422.6h0M157 419.7h0M138.2 407.6h0" stroke="#ff0000" stroke-width="2.8" stroke-opacity="0.8" stroke-linecap="round"/><path d="M135.6 419h0M144.4 399.3h0" stroke="#ff0000" stroke-width="2" stroke-opacity="0.8" stroke-linecap="round"/><path d="M158 411.8h0" stroke="#ff3010" stroke-width="2.8" stroke-opacity="0.8" stroke-linecap="round"/><path d="M137.5 412.9h0M137.1 423.1h0M134.9 406.3h0" stroke="#e08020" stroke-width="2.4" stroke-opacity="1" stroke-linecap="round"/><path d="M162.7 401.6h0M145.4 399.9h0" stroke="#ff0000" stroke-width="2.4" stroke-opacity="1" stroke-linecap="round"/><path d="M160.3 414.6h0M167.7 405h0" stroke="#e08020" stroke-width="2.8" stroke-opacity="1" stroke-linecap="round"/><path d="M152 409.7h0M148.3 410h0" stroke="#ff3010" stroke-width="2" stroke-opacity="1" stroke-linecap="round"/><path d="M143 420.1h0" stroke="#ff3010" stroke-width="2.8" stroke-opacity="1" stroke-linecap="round"/><path d="M165.8 414.6h0" stroke="#ff0000" stroke-width="2" stroke-opacity="1" stroke-linecap="round"/><path d="M162.2 399h0M137.3 406h0" stroke="#ff3010" stroke-width="2.4" stroke-opacity="1" stroke-linecap="round"/><path d="M163.3 415.4h0" stroke="#ff0000" stroke-width="2.8" stroke-opacity="1" stroke-linecap="round"/><path d="M144.6 435.7h0M151.8 428.8h0M167.9 425.2h0M159.5 442.3h0M157.1 426.6h0M163 445.4h0M137.9 426.6h0" stroke="#800000" stroke-width="1.6" stroke-opacity="0.4" stroke-linecap="round"/><path d="M141.4 446.5h0M136.7 428.8h0M158.9 426.1h0M152.9 445.7h0M144.3 433.7h0M153.1 438.4h0M138.3 432.3h0M150.8 425.3h0M166.5 437.3h0M135.8 425.9h0" stroke="#800000" stroke-width="2" stroke-opacity="0.4" stroke-linecap="round"/><path d="M162.5 444.4h0M148.9 425.2h0M145.7 426h0M158.9 447.4h0M141.6 448.3h0" stroke="#800000" stroke-width="1.2" stroke-opacity="0.4" stroke-linecap="round"/><path d="M156.5 440.6h0M136.2 445.3h0M165.2 430.4h0" stroke="#800000" stroke-width="1.2" stroke-opacity="0.6" stroke-linecap="round"/><path d="M167.4 431.7h0M163.8 431.4h0M161.3 437.6h0M159 423.7h0M168.6 427.7h0" stroke="#800000" stroke-width="1.6" stroke-opacity="0.6" stroke-linecap="round"/><path d="M163.6 447.9h0" stroke="#aaaaaa" stroke-width="1.6" stroke-opacity="0.4" stroke-linecap="round"/><path d="M152.3 442.1h0M150.6 442.7h0" stroke="#aaaaaa" stroke-width="2" stroke-opacity="0.4" stroke-linecap="round"/><path d="M148.1 444.7h0M157.8 442h0" stroke="#888888" stroke-width="2" stroke-opacity="0.4" stroke-linecap="round"/><path d="M135.6 440.9h0M161.6 440.2h0M141.4 444.7h0" stroke="#aaaaaa" stroke-width="1.6" stroke-opacity="0.6" stroke-linecap="round"/><path d="M156.6 445.1h0M134.7 442.2h0M148.5 445.9h0M149.5 440.2h0M152.5 440h0M147 438.8h0M149.9 445.6h0M150.4 445.5h0" stroke="#888888" stroke-width="2" stroke-opacity="0.6" stroke-linecap="round"/><path d="M153.2 439h0M157.9 448.5h0M148 448.5h0" stroke="#888888" stroke-width="1.6" stroke-opacity="0.6" stroke-linecap="round"/><path d="M134.9 442.9h0M163.9 437h0" stroke="#aaaaaa" stroke-width="2" stroke-opacity="0.6" stroke-linecap="round"/><path d="M149.3 437.1h0" stroke="#aaaaaa" stroke-width="1.6" stroke-opacity="0.8" stroke-linecap="round"/><path d="M158.8 446.7h0M143.4 447.4h0M154.9 441.9h0" stroke="#888888" stroke-width="1.6" stroke-opacity="0.8" stroke-linecap="round"/><path d="M152.1 440.9h0M146.4 439.1h0M154.5 444.6h0" stroke="#aaaaaa" stroke-width="2" stroke-opacity="0.8" stroke-linecap="round"/><path d="M150.6 439.4h0M167.6 440.3h0" stroke="#888888" stroke-width="2" stroke-opacity="0.8" stroke-linecap="round"/><line x1="134" y1="400.1" x2="169.1" y2="400.1" stroke="#e4e4e4" stroke-width="1.0" stroke-dasharray="2.5 2.0"/><line x1="134" y1="428.9" x2="169.1" y2="425.9" stroke="#e4e4e4" stroke-width="1.0" stroke-dasharray="2.5 2.0"/><rect x="155.8" y="446.3" width="12" height="1.2" fill="#f0f0f0"/></g>
<g clip-path="url(#cp3_4)"><rect x="170.7" y="398.9" width="35.1" height="49.8" fill="#000"/><linearGradient id="mg13" x1="0" y1="0" x2="0" y2="1"><stop offset="0" stop-color="#000" stop-opacity="0"/><stop offset="0.1" stop-color="#000" stop-opacity="0"/><stop offset="0.2" stop-color="#30c020" stop-opacity="0.9"/><stop offset="0.3" stop-color="#28a018" stop-opacity="0.9"/><stop offset="0.5" stop-color="#3a6010" stop-opacity="0.9"/><stop offset="0.7" stop-color="#4a3008" stop-opacity="0.9"/><stop offset="0.8" stop-color="#3a1a05" stop-opacity="0.9"/><stop offset="0.8" stop-color="#300000" stop-opacity="0.9"/><stop offset="1" stop-color="#2a0000" stop-opacity="0.9"/></linearGradient><polygon points="170.7,398.9 205.8,398.9 205.8,448.9 170.7,448.9" fill="url(#mg13)"/><path d="M195.3 434.5h0M199.2 411.3h0M176.7 415.8h0M174.2 412h0M200 416.1h0" stroke="#000" stroke-width="2" stroke-opacity="0.2" stroke-linecap="round"/><path d="M180.3 410.1h0M202 432.9h0M185.8 428.4h0M173.3 433h0M179 430.3h0M193.3 420.5h0M185.4 427.1h0" stroke="#000" stroke-width="1.6" stroke-opacity="0.2" stroke-linecap="round"/><path d="M172.7 423.8h0M189.5 428.9h0" stroke="#000" stroke-width="1.2" stroke-opacity="0.2" stroke-linecap="round"/><path d="M190.6 431.6h0M171.8 423.4h0M190.3 432.5h0M204.1 417.7h0M201.7 430h0M189.5 435.9h0M198.6 410.8h0M182 437.1h0M174 416.2h0M171.7 408.7h0M197.4 430.6h0M203.8 427.4h0M194.4 409.5h0M188.4 436.3h0M188.8 433.1h0M182.5 415.5h0M173.2 421.6h0M201.5 421.2h0M176.4 423.8h0M179 428h0M197.6 428.2h0M199.1 422.8h0M192.8 437.1h0M181.6 413.3h0M178.9 418.9h0M195.1 410.8h0M173.1 421.7h0M181.1 408.8h0M180.3 425.9h0M176.8 422.2h0M182 433.4h0M186.3 434.9h0M171.1 430h0" stroke="#000" stroke-width="1.6" stroke-opacity="0.4" stroke-linecap="round"/><path d="M197.6 410.4h0M188.9 427.7h0M201.7 411.8h0M183.9 437.3h0M194.1 411h0M190.9 410.8h0M179 412.2h0M176.4 437.6h0M178 428.6h0M175.9 423.8h0M201.2 417.5h0M191 413.6h0" stroke="#000" stroke-width="1.2" stroke-opacity="0.4" stroke-linecap="round"/><path d="M198.7 420.3h0M176.4 422.6h0M185.8 418.1h0M173.3 424.4h0M185.1 423.1h0M171.6 427.8h0M203.1 424h0M182.6 415.8h0M181.4 419.5h0M171.2 408.8h0M194.1 436.4h0M200.7 429.8h0M198.3 407.2h0M176.1 423.9h0M185.4 413.9h0M171.3 428.2h0M178.9 408h0M189.7 422.8h0M181.5 423.4h0M177.6 431.2h0M184.2 407.3h0" stroke="#000" stroke-width="2" stroke-opacity="0.4" stroke-linecap="round"/><path d="M203.1 425.2h0M175.5 435.4h0M187.9 417h0" stroke="#a03010" stroke-width="2.4" stroke-opacity="0.6" stroke-linecap="round"/><path d="M174.2 427.3h0" stroke="#d00000" stroke-width="2" stroke-opacity="0.6" stroke-linecap="round"/><path d="M204.5 416.5h0M185.3 417.7h0M200.5 410.6h0M198.9 414.2h0M187.4 435h0" stroke="#c02010" stroke-width="2" stroke-opacity="0.6" stroke-linecap="round"/><path d="M177.2 438.8h0" stroke="#ff0000" stroke-width="2.4" stroke-opacity="0.6" stroke-linecap="round"/><path d="M174.4 414.9h0M201.9 418.8h0M185.8 415.8h0M200.4 435.3h0" stroke="#ff0000" stroke-width="2" stroke-opacity="0.6" stroke-linecap="round"/><path d="M201.8 417.6h0M175.5 435.5h0M173.9 422.7h0M171.5 431.2h0" stroke="#d00000" stroke-width="2.4" stroke-opacity="0.6" stroke-linecap="round"/><path d="M173.5 428h0M193.3 431.4h0" stroke="#c02010" stroke-width="2.4" stroke-opacity="0.6" stroke-linecap="round"/><path d="M173.7 429.8h0M178.2 432.9h0M171.5 431.8h0" stroke="#a03010" stroke-width="2.4" stroke-opacity="0.8" stroke-linecap="round"/><path d="M204.5 432.7h0M186.9 422.2h0M182.2 433.7h0M197.1 408.8h0M201 411.1h0M183.2 416.8h0" stroke="#a03010" stroke-width="2" stroke-opacity="0.8" stroke-linecap="round"/><path d="M180.7 422.6h0M178.1 427.2h0M204.8 414.5h0M195.5 430.2h0M194.7 436.2h0M193.7 417.5h0" stroke="#c02010" stroke-width="2.4" stroke-opacity="0.8" stroke-linecap="round"/><path d="M200.9 434h0M188.1 411.4h0M178.2 409.2h0M171.2 437.8h0" stroke="#d00000" stroke-width="2.4" stroke-opacity="0.8" stroke-linecap="round"/><path d="M192.1 432.2h0M175.2 434.5h0M194.7 408.9h0" stroke="#c02010" stroke-width="2" stroke-opacity="0.8" stroke-linecap="round"/><path d="M198.1 434.2h0M186.2 431.3h0M186.8 411.9h0" stroke="#ff0000" stroke-width="2.4" stroke-opacity="0.8" stroke-linecap="round"/><path d="M181.7 435.9h0M172.6 425.4h0" stroke="#ff0000" stroke-width="2" stroke-opacity="0.8" stroke-linecap="round"/><path d="M198 420.8h0M198.3 425.2h0M181.1 412.1h0" stroke="#d00000" stroke-width="2" stroke-opacity="0.8" stroke-linecap="round"/><path d="M183.9 442.1h0M184.1 439.3h0M176.3 446.5h0" stroke="#600000" stroke-width="1.2" stroke-opacity="0.4" stroke-linecap="round"/><path d="M199.3 445.7h0M194.4 445.4h0M191 444.4h0M197 438.4h0M171.8 444.6h0M205.4 438.2h0M192 448.7h0" stroke="#600000" stroke-width="1.6" stroke-opacity="0.4" stroke-linecap="round"/><path d="M192.5 444.9h0M181.9 439.1h0M189.6 439h0M200.2 437.2h0M203.9 440.9h0" stroke="#600000" stroke-width="2" stroke-opacity="0.4" stroke-linecap="round"/><line x1="170.7" y1="406.8" x2="205.8" y2="407.3" stroke="#e4e4e4" stroke-width="1.0" stroke-dasharray="2.5 2.0"/><line x1="170.7" y1="440.3" x2="205.8" y2="435.4" stroke="#e4e4e4" stroke-width="1.0" stroke-dasharray="2.5 2.0"/><rect x="192.5" y="446.3" width="12" height="1.2" fill="#f0f0f0"/></g>
<g clip-path="url(#cp3_5)"><rect x="207.4" y="398.9" width="35.1" height="49.8" fill="#000"/><linearGradient id="mg14" x1="0" y1="0" x2="0" y2="1"><stop offset="0" stop-color="#800000" stop-opacity="0.9"/><stop offset="0.1" stop-color="#6a7010" stop-opacity="0.9"/><stop offset="0.2" stop-color="#5a8a10" stop-opacity="0.9"/><stop offset="0.5" stop-color="#6a4a08" stop-opacity="0.9"/><stop offset="0.7" stop-color="#5a3a08" stop-opacity="0.9"/><stop offset="0.7" stop-color="#3a3a3a" stop-opacity="0.9"/><stop offset="1" stop-color="#505050" stop-opacity="0.9"/></linearGradient><polygon points="207.4,398.9 242.5,398.9 242.5,448.9 207.4,448.9" fill="url(#mg14)"/><path d="M209.6 429.5h0M241.2 428.7h0M228.8 427.4h0M231.7 426.3h0M208.5 418.2h0M221 406h0M238.8 416.4h0M242.4 404h0M225.4 427.2h0M222.5 420.3h0M240 407.6h0M237.2 401.1h0M234.7 405h0M226.4 424.1h0M227.9 413.6h0M226.6 426.6h0M234.1 412.2h0M230.2 403.3h0M226.5 402.9h0" stroke="#000" stroke-width="1.6" stroke-opacity="0.2" stroke-linecap="round"/><path d="M221.7 401.8h0M219 413.7h0M209.9 408.5h0M230.2 419.7h0M233.7 428.8h0" stroke="#000" stroke-width="1.2" stroke-opacity="0.2" stroke-linecap="round"/><path d="M214.2 403.3h0M209 413.5h0M228.5 409h0M221.5 405.5h0M222.2 423.2h0M208.5 419.6h0M229.2 417.9h0M238.6 414.3h0M227.9 430h0M211.4 424.1h0" stroke="#000" stroke-width="2" stroke-opacity="0.2" stroke-linecap="round"/><path d="M220.8 425.4h0M227.7 419.9h0M208.4 420.6h0M233.9 428.1h0M237.2 411.2h0M209.1 413.7h0M217.4 403.3h0M229.8 417.3h0M226.1 428.4h0M229.4 407.7h0M221.3 427.6h0" stroke="#000" stroke-width="1.2" stroke-opacity="0.4" stroke-linecap="round"/><path d="M242.5 420.2h0M220.4 407.1h0M233.7 405.9h0M214.1 420.3h0M207.5 424.4h0M218.9 421.3h0M214.1 414.6h0M214.3 407.2h0M237.4 418.6h0M215 406.9h0M211.2 428.7h0M208.8 409.6h0M219.9 416.2h0M213.4 424.2h0M228.9 424.8h0M207.4 404.9h0M223.5 401.7h0M239.9 427h0M213.7 430.3h0M229 420.7h0M216.1 432h0M240.7 405.9h0M209.8 421h0M234.6 408.8h0M229.9 403.2h0M233.5 417.7h0M218 410.3h0M210.4 412.1h0" stroke="#000" stroke-width="1.6" stroke-opacity="0.4" stroke-linecap="round"/><path d="M208.7 417.6h0M223.4 419.2h0M219.7 415.8h0M219.2 430.3h0M210 435.4h0M219.4 427h0M235.5 409h0" stroke="#000" stroke-width="2" stroke-opacity="0.4" stroke-linecap="round"/><path d="M233 431.8h0M235 417h0" stroke="#c03010" stroke-width="2" stroke-opacity="0.4" stroke-linecap="round"/><path d="M222.5 402.6h0M235.3 420.5h0" stroke="#d00000" stroke-width="2" stroke-opacity="0.4" stroke-linecap="round"/><path d="M241.6 413.6h0M218.9 426.2h0" stroke="#d00000" stroke-width="2.4" stroke-opacity="0.4" stroke-linecap="round"/><path d="M225.2 403.4h0" stroke="#d00000" stroke-width="2.8" stroke-opacity="0.4" stroke-linecap="round"/><path d="M239.1 420.9h0" stroke="#c03010" stroke-width="2.4" stroke-opacity="0.4" stroke-linecap="round"/><path d="M232.2 417.9h0" stroke="#ff0000" stroke-width="2.4" stroke-opacity="0.4" stroke-linecap="round"/><path d="M239.7 419.5h0M218.1 428h0M230.1 411.6h0M215.3 435.7h0M237.5 402.8h0M217 413.2h0" stroke="#ff0000" stroke-width="2" stroke-opacity="0.6" stroke-linecap="round"/><path d="M221.8 402.1h0M215.9 417.4h0M227.5 433.3h0M220.1 409.8h0M234.7 403.2h0M225.9 413.1h0M232.7 411.3h0M219 418.1h0" stroke="#c03010" stroke-width="2" stroke-opacity="0.6" stroke-linecap="round"/><path d="M231.5 428.2h0M209.9 414.7h0" stroke="#ff0000" stroke-width="2.8" stroke-opacity="0.6" stroke-linecap="round"/><path d="M232.4 405.8h0M218 407.3h0" stroke="#ff0000" stroke-width="2.4" stroke-opacity="0.6" stroke-linecap="round"/><path d="M218.2 411.6h0M216 426.6h0M220.5 434.2h0M235.4 414.1h0M230.7 424h0" stroke="#d00000" stroke-width="2.4" stroke-opacity="0.6" stroke-linecap="round"/><path d="M225.5 411.5h0M210.7 406.1h0" stroke="#c03010" stroke-width="2.4" stroke-opacity="0.6" stroke-linecap="round"/><path d="M208.2 410.7h0M231 406.6h0" stroke="#d00000" stroke-width="2.8" stroke-opacity="0.6" stroke-linecap="round"/><path d="M237.1 431.3h0M228.8 424.3h0" stroke="#d05010" stroke-width="2.8" stroke-opacity="0.6" stroke-linecap="round"/><path d="M232.1 415.8h0M216.1 406.2h0M219.1 406.5h0M230 402h0M223.7 430.9h0" stroke="#d05010" stroke-width="2" stroke-opacity="0.6" stroke-linecap="round"/><path d="M241.5 432.8h0M238.6 402.1h0" stroke="#d00000" stroke-width="2" stroke-opacity="0.6" stroke-linecap="round"/><path d="M217.9 429.1h0M234.6 420.9h0M221.7 409.3h0M220.5 413h0" stroke="#c03010" stroke-width="2.8" stroke-opacity="0.8" stroke-linecap="round"/><path d="M207.6 434.3h0M231.8 419.7h0M210.3 411.3h0" stroke="#d00000" stroke-width="2" stroke-opacity="0.8" stroke-linecap="round"/><path d="M216.7 434.6h0M234.3 413.6h0M215.2 413.7h0M235.2 420h0" stroke="#d00000" stroke-width="2.4" stroke-opacity="0.8" stroke-linecap="round"/><path d="M235.3 423.2h0" stroke="#c03010" stroke-width="2.4" stroke-opacity="0.8" stroke-linecap="round"/><path d="M224.6 413.7h0" stroke="#ff0000" stroke-width="2.8" stroke-opacity="0.8" stroke-linecap="round"/><path d="M211.9 421h0M232.9 424.1h0M213.1 427.2h0" stroke="#ff0000" stroke-width="2.4" stroke-opacity="0.8" stroke-linecap="round"/><path d="M215.3 405.7h0M215.3 416.9h0M214.6 426.8h0M224.4 412.1h0" stroke="#d05010" stroke-width="2.4" stroke-opacity="0.8" stroke-linecap="round"/><path d="M240.7 415.1h0M234.2 430.1h0" stroke="#c03010" stroke-width="2" stroke-opacity="0.8" stroke-linecap="round"/><path d="M233.8 422.7h0" stroke="#d05010" stroke-width="2.8" stroke-opacity="0.8" stroke-linecap="round"/><path d="M242.3 419.2h0" stroke="#d05010" stroke-width="2" stroke-opacity="0.8" stroke-linecap="round"/><path d="M217.7 434h0" stroke="#d00000" stroke-width="2.8" stroke-opacity="0.8" stroke-linecap="round"/><path d="M220.9 402.3h0" stroke="#70b020" stroke-width="2.8" stroke-opacity="0.4" stroke-linecap="round"/><path d="M215.7 406.5h0M235.2 408.7h0" stroke="#70b020" stroke-width="3.2" stroke-opacity="0.4" stroke-linecap="round"/><path d="M239.4 408.2h0" stroke="#50c020" stroke-width="3.2" stroke-opacity="0.4" stroke-linecap="round"/><path d="M221 408h0M240.6 404.3h0M238 403.8h0" stroke="#50c020" stroke-width="2.8" stroke-opacity="0.6" stroke-linecap="round"/><path d="M207.6 413.5h0M223.1 405.9h0M240.6 401.9h0" stroke="#50c020" stroke-width="3.2" stroke-opacity="0.6" stroke-linecap="round"/><path d="M222.6 403.1h0M232.8 406.1h0" stroke="#50c020" stroke-width="2.4" stroke-opacity="0.6" stroke-linecap="round"/><path d="M227.2 411.2h0M226.3 404.3h0" stroke="#70b020" stroke-width="3.2" stroke-opacity="0.6" stroke-linecap="round"/><path d="M211.3 412.7h0" stroke="#70b020" stroke-width="2.4" stroke-opacity="0.6" stroke-linecap="round"/><path d="M221.8 413.1h0" stroke="#50c020" stroke-width="3.2" stroke-opacity="0.8" stroke-linecap="round"/><path d="M241.8 402.5h0M212.5 405.5h0" stroke="#50c020" stroke-width="2.8" stroke-opacity="0.8" stroke-linecap="round"/><path d="M238.6 410.1h0" stroke="#70b020" stroke-width="3.2" stroke-opacity="0.8" stroke-linecap="round"/><path d="M220.2 403.3h0" stroke="#70b020" stroke-width="2.8" stroke-opacity="0.8" stroke-linecap="round"/><path d="M225.7 448.6h0" stroke="#bbbbbb" stroke-width="1.6" stroke-opacity="0.6" stroke-linecap="round"/><path d="M217.6 438.7h0M231.2 437.5h0M223.9 441.7h0M241.9 448.1h0" stroke="#e0e0e0" stroke-width="2" stroke-opacity="0.6" stroke-linecap="round"/><path d="M238.6 433.4h0M233.9 438.2h0M219.1 442.8h0M209.5 444.8h0" stroke="#ffffff" stroke-width="2" stroke-opacity="0.6" stroke-linecap="round"/><path d="M227.8 443.6h0M216.7 443.7h0M213.8 437.1h0M241.2 446.5h0" stroke="#bbbbbb" stroke-width="2" stroke-opacity="0.6" stroke-linecap="round"/><path d="M223 447.5h0M224.1 435.1h0" stroke="#e0e0e0" stroke-width="2.4" stroke-opacity="0.6" stroke-linecap="round"/><path d="M240.9 439.8h0" stroke="#ffffff" stroke-width="1.6" stroke-opacity="0.6" stroke-linecap="round"/><path d="M213.4 444.4h0M215 437.2h0M241 445.7h0M219.8 436h0M212.1 443.5h0" stroke="#ffffff" stroke-width="2.4" stroke-opacity="0.6" stroke-linecap="round"/><path d="M236.1 445.4h0" stroke="#bbbbbb" stroke-width="2.4" stroke-opacity="0.6" stroke-linecap="round"/><path d="M225.5 442.1h0M228 438.3h0M237.1 435.3h0M213.8 443.9h0" stroke="#ffffff" stroke-width="2.4" stroke-opacity="0.8" stroke-linecap="round"/><path d="M238.7 446.8h0M211.6 440.5h0M225.4 443h0M229.8 436.3h0M207.6 440.3h0M214 439.4h0" stroke="#e0e0e0" stroke-width="2" stroke-opacity="0.8" stroke-linecap="round"/><path d="M233.3 440.9h0M215.2 439.9h0M229.8 446.5h0M219.9 443.6h0" stroke="#bbbbbb" stroke-width="1.6" stroke-opacity="0.8" stroke-linecap="round"/><path d="M228.4 435.9h0M233 440.6h0" stroke="#bbbbbb" stroke-width="2.4" stroke-opacity="0.8" stroke-linecap="round"/><path d="M220.7 440h0" stroke="#e0e0e0" stroke-width="1.6" stroke-opacity="0.8" stroke-linecap="round"/><path d="M239.5 437.9h0M217.3 437.1h0M222.5 436.3h0" stroke="#bbbbbb" stroke-width="2" stroke-opacity="0.8" stroke-linecap="round"/><path d="M227.7 445.9h0M210.2 440.6h0M229.6 446h0M233.1 439.9h0" stroke="#e0e0e0" stroke-width="2.4" stroke-opacity="0.8" stroke-linecap="round"/><path d="M233.6 448.6h0M225.5 445.6h0M226.9 447.1h0M216.8 437.8h0M233.1 441.8h0" stroke="#ffffff" stroke-width="2" stroke-opacity="0.8" stroke-linecap="round"/><path d="M224 436.2h0M241.1 444.8h0M240.8 436.6h0" stroke="#ffffff" stroke-width="1.6" stroke-opacity="0.8" stroke-linecap="round"/><path d="M232.7 440.5h0" stroke="#ffffff" stroke-width="1.6" stroke-opacity="1" stroke-linecap="round"/><path d="M212.4 437.1h0M230.8 438.8h0" stroke="#bbbbbb" stroke-width="2" stroke-opacity="1" stroke-linecap="round"/><path d="M240.1 447.9h0M232.7 436.1h0M220 440.3h0" stroke="#e0e0e0" stroke-width="2.4" stroke-opacity="1" stroke-linecap="round"/><line x1="207.4" y1="401.2" x2="242.5" y2="401.2" stroke="#e4e4e4" stroke-width="1.0" stroke-dasharray="2.5 2.0"/><line x1="207.4" y1="436.6" x2="242.5" y2="432.3" stroke="#e4e4e4" stroke-width="1.0" stroke-dasharray="2.5 2.0"/><rect x="229.2" y="446.3" width="12" height="1.2" fill="#f0f0f0"/></g>
<text x="262.6" y="219.2" font-size="13.5" fill="#111" text-anchor="start" stroke="#111" stroke-width="0.1">j</text>
<line x1="288.9" y1="244.7" x2="288.9" y2="325.5" stroke="#222" stroke-width="0.9"/><line x1="286.1" y1="325.5" x2="288.9" y2="325.5" stroke="#222" stroke-width="0.8"/><text x="281.7" y="327.9" font-size="6.8" fill="#111" stroke="#111" stroke-width="0.1" text-anchor="end">0</text><line x1="286.1" y1="309.4" x2="288.9" y2="309.4" stroke="#222" stroke-width="0.8"/><text x="281.7" y="311.8" font-size="6.8" fill="#111" stroke="#111" stroke-width="0.1" text-anchor="end">100</text><line x1="286.1" y1="293.3" x2="288.9" y2="293.3" stroke="#222" stroke-width="0.8"/><text x="281.7" y="295.7" font-size="6.8" fill="#111" stroke="#111" stroke-width="0.1" text-anchor="end">200</text><line x1="286.1" y1="277.3" x2="288.9" y2="277.3" stroke="#222" stroke-width="0.8"/><text x="281.7" y="279.7" font-size="6.8" fill="#111" stroke="#111" stroke-width="0.1" text-anchor="end">300</text><line x1="286.1" y1="261.2" x2="288.9" y2="261.2" stroke="#222" stroke-width="0.8"/><text x="281.7" y="263.6" font-size="6.8" fill="#111" stroke="#111" stroke-width="0.1" text-anchor="end">400</text><line x1="286.1" y1="245.1" x2="288.9" y2="245.1" stroke="#222" stroke-width="0.8"/><text x="281.7" y="247.5" font-size="6.8" fill="#111" stroke="#111" stroke-width="0.1" text-anchor="end">500</text><text x="0" y="0" font-size="8" fill="#111" stroke="#111" stroke-width="0.12" text-anchor="middle" transform="translate(264.5,284.1) rotate(-90)">HCs</text><path d="M293.7 325.5 V306 H301 V325.5" fill="none" stroke="#ff2a2a" stroke-width="0.9"/><path d="M297.3 305.2 V306.8 M295.3 305.2 H299.3 M295.3 306.8 H299.3" stroke="#ff2a2a" stroke-width="0.8" fill="none"/><line x1="294.4" y1="306" x2="300.3" y2="306" stroke="#ff2a2a" stroke-width="0.9"/><circle cx="295.7" cy="305.4" r="1.1" fill="#ff0000"/><circle cx="298.7" cy="306.5" r="1.1" fill="#ff0000"/><circle cx="297" cy="306.2" r="1.1" fill="#ff0000"/><circle cx="299.2" cy="305.6" r="1.1" fill="#ff0000"/><path d="M302 325.5 V298.6 H309.3 V325.5" fill="none" stroke="#2020ff" stroke-width="0.9"/><path d="M305.6 297.7 V299.6 M303.6 297.7 H307.6 M303.6 299.6 H307.6" stroke="#2020ff" stroke-width="0.8" fill="none"/><line x1="302.7" y1="298.6" x2="308.6" y2="298.6" stroke="#2020ff" stroke-width="0.9"/><path d="M304 296.6 L305.2 298.7 L302.9 298.7 Z" fill="#0000ff"/><path d="M307 297.5 L308.2 299.6 L305.9 299.6 Z" fill="#0000ff"/><path d="M305.3 298.5 L306.5 300.6 L304.2 300.6 Z" fill="#0000ff"/><path d="M307.5 296.9 L308.7 299 L306.4 299 Z" fill="#0000ff"/><path d="M310.3 325.5 V306.4 H317.6 V325.5" fill="none" stroke="#ff7a2a" stroke-width="0.9"/><path d="M313.9 304.4 V308.3 M311.9 304.4 H315.9 M311.9 308.3 H315.9" stroke="#ff7a2a" stroke-width="0.8" fill="none"/><line x1="311" y1="306.4" x2="316.9" y2="306.4" stroke="#ff7a2a" stroke-width="0.9"/><path d="M312.3 302.6 L313.5 300.5 L311.2 300.5 Z" fill="#ff6a13"/><path d="M315.3 308.8 L316.5 306.7 L314.2 306.7 Z" fill="#ff6a13"/><path d="M313.6 310.7 L314.8 308.6 L312.5 308.6 Z" fill="#ff6a13"/><path d="M315.8 308.4 L317 306.3 L314.7 306.3 Z" fill="#ff6a13"/><path d="M318.6 325.5 V304.4 H325.9 V325.5" fill="none" stroke="#20c020" stroke-width="0.9"/><path d="M322.2 302.8 V306 M320.2 302.8 H324.2 M320.2 306 H324.2" stroke="#20c020" stroke-width="0.8" fill="none"/><line x1="319.3" y1="304.4" x2="325.2" y2="304.4" stroke="#20c020" stroke-width="0.9"/><rect x="319.6" y="299.5" width="2.1" height="2.1" fill="#00c000"/><rect x="322.6" y="304.3" width="2.1" height="2.1" fill="#00c000"/><rect x="320.9" y="305.5" width="2.1" height="2.1" fill="#00c000"/><rect x="323.1" y="303.9" width="2.1" height="2.1" fill="#00c000"/><path d="M326.9 325.5 V278.5 H334.2 V325.5" fill="none" stroke="#d020d0" stroke-width="0.9"/><path d="M330.5 275.3 V281.8 M328.5 275.3 H332.5 M328.5 281.8 H332.5" stroke="#d020d0" stroke-width="0.8" fill="none"/><line x1="327.6" y1="278.5" x2="333.5" y2="278.5" stroke="#d020d0" stroke-width="0.9"/><path d="M328.9 272 L330.2 273.2 L328.9 274.5 L327.7 273.2 Z" fill="#cc00cc"/><path d="M331.9 274.4 L333.2 275.7 L331.9 276.9 L330.7 275.7 Z" fill="#cc00cc"/><path d="M330.2 280 L331.5 281.3 L330.2 282.5 L329 281.3 Z" fill="#cc00cc"/><path d="M332.4 284 L333.7 285.3 L332.4 286.6 L331.2 285.3 Z" fill="#cc00cc"/><path d="M335.2 325.5 V269.5 H342.5 V325.5" fill="none" stroke="#5050a8" stroke-width="0.9"/><path d="M338.8 267.1 V272 M336.8 267.1 H340.8 M336.8 272 H340.8" stroke="#5050a8" stroke-width="0.8" fill="none"/><line x1="335.9" y1="269.5" x2="341.8" y2="269.5" stroke="#5050a8" stroke-width="0.9"/><circle cx="337.2" cy="261.2" r="1.1" fill="#000080"/><circle cx="340.2" cy="270" r="1.1" fill="#000080"/><circle cx="338.5" cy="273.2" r="1.1" fill="#000080"/><circle cx="340.7" cy="272.4" r="1.1" fill="#000080"/><line x1="318.1" y1="325.5" x2="318.1" y2="328.1" stroke="#222" stroke-width="0.8"/><text x="318.9" y="335.1" font-size="6.8" fill="#111" stroke="#111" stroke-width="0.1" text-anchor="middle">Apex</text><path d="M351.4 325.5 V314.1 H358.7 V325.5" fill="none" stroke="#ff2a2a" stroke-width="0.9"/><line x1="352.1" y1="314.1" x2="358" y2="314.1" stroke="#ff2a2a" stroke-width="0.9"/><circle cx="353.4" cy="312.6" r="1.1" fill="#ff0000"/><circle cx="356.4" cy="314.6" r="1.1" fill="#ff0000"/><circle cx="354.7" cy="314.9" r="1.1" fill="#ff0000"/><circle cx="356.9" cy="314.2" r="1.1" fill="#ff0000"/><path d="M359.7 325.5 V307.5 H367 V325.5" fill="none" stroke="#2020ff" stroke-width="0.9"/><line x1="360.4" y1="307.5" x2="366.3" y2="307.5" stroke="#2020ff" stroke-width="0.9"/><path d="M361.7 304.9 L362.9 307 L360.6 307 Z" fill="#0000ff"/><path d="M364.7 306.6 L365.9 308.7 L363.6 308.7 Z" fill="#0000ff"/><path d="M363 305.7 L364.2 307.8 L361.9 307.8 Z" fill="#0000ff"/><path d="M365.2 307.5 L366.4 309.6 L364.1 309.6 Z" fill="#0000ff"/><path d="M368 325.5 V312 H375.3 V325.5" fill="none" stroke="#ff7a2a" stroke-width="0.9"/><path d="M371.6 311.2 V312.8 M369.6 311.2 H373.6 M369.6 312.8 H373.6" stroke="#ff7a2a" stroke-width="0.8" fill="none"/><line x1="368.7" y1="312" x2="374.6" y2="312" stroke="#ff7a2a" stroke-width="0.9"/><path d="M370 312.3 L371.2 310.2 L368.9 310.2 Z" fill="#ff6a13"/><path d="M373 313.6 L374.2 311.5 L371.9 311.5 Z" fill="#ff6a13"/><path d="M371.3 314.2 L372.5 312.1 L370.2 312.1 Z" fill="#ff6a13"/><path d="M373.5 312.9 L374.7 310.8 L372.4 310.8 Z" fill="#ff6a13"/><path d="M376.3 325.5 V313.3 H383.6 V325.5" fill="none" stroke="#20c020" stroke-width="0.9"/><line x1="377" y1="313.3" x2="382.9" y2="313.3" stroke="#20c020" stroke-width="0.9"/><rect x="377.3" y="311.3" width="2.1" height="2.1" fill="#00c000"/><rect x="380.3" y="312.9" width="2.1" height="2.1" fill="#00c000"/><rect x="378.6" y="311.9" width="2.1" height="2.1" fill="#00c000"/><rect x="380.8" y="312.6" width="2.1" height="2.1" fill="#00c000"/><path d="M384.6 325.5 V301.2 H391.9 V325.5" fill="none" stroke="#d020d0" stroke-width="0.9"/><path d="M388.2 299.6 V302.8 M386.2 299.6 H390.2 M386.2 302.8 H390.2" stroke="#d020d0" stroke-width="0.8" fill="none"/><line x1="385.3" y1="301.2" x2="391.2" y2="301.2" stroke="#d020d0" stroke-width="0.9"/><path d="M386.6 296.9 L387.9 298.2 L386.6 299.4 L385.4 298.2 Z" fill="#cc00cc"/><path d="M389.6 299.3 L390.9 300.6 L389.6 301.8 L388.4 300.6 Z" fill="#cc00cc"/><path d="M387.9 301.7 L389.2 303 L387.9 304.2 L386.7 303 Z" fill="#cc00cc"/><path d="M390.1 301.4 L391.4 302.7 L390.1 303.9 L388.9 302.7 Z" fill="#cc00cc"/><path d="M392.9 325.5 V300.3 H400.2 V325.5" fill="none" stroke="#5050a8" stroke-width="0.9"/><path d="M396.5 297.7 V302.8 M394.5 297.7 H398.5 M394.5 302.8 H398.5" stroke="#5050a8" stroke-width="0.8" fill="none"/><line x1="393.6" y1="300.3" x2="399.5" y2="300.3" stroke="#5050a8" stroke-width="0.9"/><circle cx="394.9" cy="294.9" r="1.1" fill="#000080"/><circle cx="397.9" cy="299.8" r="1.1" fill="#000080"/><circle cx="396.2" cy="302.2" r="1.1" fill="#000080"/><circle cx="398.4" cy="307.8" r="1.1" fill="#000080"/><line x1="375.8" y1="325.5" x2="375.8" y2="328.1" stroke="#222" stroke-width="0.8"/><text x="376.6" y="335.1" font-size="6.8" fill="#111" stroke="#111" stroke-width="0.1" text-anchor="middle">Mid</text><path d="M409.1 325.5 V319.1 H416.4 V325.5" fill="none" stroke="#ff2a2a" stroke-width="0.9"/><line x1="409.8" y1="319.1" x2="415.7" y2="319.1" stroke="#ff2a2a" stroke-width="0.9"/><circle cx="411.1" cy="318.4" r="1.1" fill="#ff0000"/><circle cx="414.1" cy="319.4" r="1.1" fill="#ff0000"/><circle cx="412.4" cy="319.7" r="1.1" fill="#ff0000"/><circle cx="414.6" cy="318.7" r="1.1" fill="#ff0000"/><path d="M417.4 325.5 V313.3 H424.7 V325.5" fill="none" stroke="#2020ff" stroke-width="0.9"/><line x1="418.1" y1="313.3" x2="424" y2="313.3" stroke="#2020ff" stroke-width="0.9"/><path d="M419.4 311.4 L420.6 313.5 L418.3 313.5 Z" fill="#0000ff"/><path d="M422.4 312.3 L423.6 314.4 L421.3 314.4 Z" fill="#0000ff"/><path d="M420.8 312.7 L421.9 314.8 L419.6 314.8 Z" fill="#0000ff"/><path d="M422.9 311.7 L424.1 313.8 L421.8 313.8 Z" fill="#0000ff"/><path d="M425.7 325.5 V319.1 H433 V325.5" fill="none" stroke="#ff7a2a" stroke-width="0.9"/><line x1="426.4" y1="319.1" x2="432.3" y2="319.1" stroke="#ff7a2a" stroke-width="0.9"/><path d="M427.8 319.7 L428.9 317.6 L426.6 317.6 Z" fill="#ff6a13"/><path d="M430.8 321 L431.9 318.9 L429.6 318.9 Z" fill="#ff6a13"/><path d="M429.1 320.3 L430.2 318.2 L427.9 318.2 Z" fill="#ff6a13"/><path d="M431.2 320.6 L432.4 318.5 L430.1 318.5 Z" fill="#ff6a13"/><path d="M434 325.5 V321.6 H441.3 V325.5" fill="none" stroke="#20c020" stroke-width="0.9"/><line x1="434.7" y1="321.6" x2="440.6" y2="321.6" stroke="#20c020" stroke-width="0.9"/><rect x="435" y="320.3" width="2.1" height="2.1" fill="#00c000"/><rect x="438" y="320.9" width="2.1" height="2.1" fill="#00c000"/><rect x="436.3" y="320.6" width="2.1" height="2.1" fill="#00c000"/><rect x="438.5" y="321.2" width="2.1" height="2.1" fill="#00c000"/><path d="M442.3 325.5 V311.5 H449.6 V325.5" fill="none" stroke="#d020d0" stroke-width="0.9"/><line x1="443" y1="311.5" x2="448.9" y2="311.5" stroke="#d020d0" stroke-width="0.9"/><path d="M444.3 309.4 L445.6 310.7 L444.3 312 L443.1 310.7 Z" fill="#cc00cc"/><path d="M447.3 310.7 L448.6 312 L447.3 313.3 L446.1 312 Z" fill="#cc00cc"/><path d="M445.6 310.4 L446.9 311.7 L445.6 312.9 L444.4 311.7 Z" fill="#cc00cc"/><path d="M447.8 310.1 L449.1 311.3 L447.8 312.6 L446.6 311.3 Z" fill="#cc00cc"/><path d="M450.6 325.5 V308.3 H457.9 V325.5" fill="none" stroke="#5050a8" stroke-width="0.9"/><path d="M454.2 306.7 V309.9 M452.2 306.7 H456.2 M452.2 309.9 H456.2" stroke="#5050a8" stroke-width="0.8" fill="none"/><line x1="451.3" y1="308.3" x2="457.2" y2="308.3" stroke="#5050a8" stroke-width="0.9"/><circle cx="452.6" cy="305.4" r="1.1" fill="#000080"/><circle cx="455.6" cy="307.8" r="1.1" fill="#000080"/><circle cx="453.9" cy="310.2" r="1.1" fill="#000080"/><circle cx="456.1" cy="306.2" r="1.1" fill="#000080"/><line x1="433.5" y1="325.5" x2="433.5" y2="328.1" stroke="#222" stroke-width="0.8"/><text x="434.3" y="335.1" font-size="6.8" fill="#111" stroke="#111" stroke-width="0.1" text-anchor="middle">Base</text><line x1="288.9" y1="325.5" x2="464" y2="325.5" stroke="#222" stroke-width="0.9"/><path d="M297.3 293.8 V291.8 H305.6 V293.8" fill="none" stroke="#333" stroke-width="0.8"/><text x="301.5" y="290.6" font-size="6.3" fill="#222" text-anchor="middle">**</text><path d="M297.3 270.5 V268.5 H330.5 V270.5" fill="none" stroke="#333" stroke-width="0.8"/><text x="313.9" y="267.3" font-size="6.3" fill="#222" text-anchor="middle">****</text><path d="M297.3 256.2 V254.2 H338.8 V256.2" fill="none" stroke="#333" stroke-width="0.8"/><text x="318.1" y="253" font-size="6.3" fill="#222" text-anchor="middle">****</text><path d="M355 301.4 V299.4 H363.3 V301.4" fill="none" stroke="#333" stroke-width="0.8"/><text x="359.2" y="298.2" font-size="6.3" fill="#222" text-anchor="middle">*</text><path d="M355 294 V292 H388.2 V294" fill="none" stroke="#333" stroke-width="0.8"/><text x="371.6" y="290.8" font-size="6.3" fill="#222" text-anchor="middle">****</text><path d="M355 286.1 V284.1 H396.5 V286.1" fill="none" stroke="#333" stroke-width="0.8"/><text x="375.8" y="282.9" font-size="6.3" fill="#222" text-anchor="middle">****</text><path d="M412.8 309.4 V307.4 H421.1 V309.4" fill="none" stroke="#333" stroke-width="0.8"/><text x="416.9" y="306.2" font-size="6.3" fill="#222" text-anchor="middle">*</text><path d="M412.8 300.7 V298.7 H445.9 V300.7" fill="none" stroke="#333" stroke-width="0.8"/><text x="429.4" y="297.5" font-size="6.3" fill="#222" text-anchor="middle">**</text><path d="M412.8 291.1 V289.1 H454.2 V291.1" fill="none" stroke="#333" stroke-width="0.8"/><text x="433.5" y="287.9" font-size="6.3" fill="#222" text-anchor="middle">****</text>
<line x1="510.4" y1="324.1" x2="685" y2="324.1" stroke="#222" stroke-width="0.9" stroke-dasharray="1.1 0.9"/><line x1="510.4" y1="243.9" x2="510.4" y2="324.1" stroke="#222" stroke-width="0.9"/><line x1="507.6" y1="324.1" x2="510.4" y2="324.1" stroke="#222" stroke-width="0.8"/><text x="504.4" y="326.5" font-size="6.8" fill="#111" stroke="#111" stroke-width="0.1" text-anchor="end">0</text><line x1="507.6" y1="297.5" x2="510.4" y2="297.5" stroke="#222" stroke-width="0.8"/><text x="504.4" y="299.9" font-size="6.8" fill="#111" stroke="#111" stroke-width="0.1" text-anchor="end">20</text><line x1="507.6" y1="270.9" x2="510.4" y2="270.9" stroke="#222" stroke-width="0.8"/><text x="504.4" y="273.3" font-size="6.8" fill="#111" stroke="#111" stroke-width="0.1" text-anchor="end">40</text><line x1="507.6" y1="244.3" x2="510.4" y2="244.3" stroke="#222" stroke-width="0.8"/><text x="504.4" y="246.7" font-size="6.8" fill="#111" stroke="#111" stroke-width="0.1" text-anchor="end">60</text><text x="0" y="0" font-size="8" fill="#111" stroke="#111" stroke-width="0.12" text-anchor="middle" transform="translate(488.4,277.2) rotate(-90)">EdU+ HCs</text><circle cx="514.7" cy="324" r="0.9" fill="#ff0000"/><circle cx="516.6" cy="324" r="0.9" fill="#ff0000"/><circle cx="518.6" cy="324" r="0.9" fill="#ff0000"/><circle cx="520.5" cy="324" r="0.9" fill="#ff0000"/><path d="M522.3 324.1 V321.4 H529.8 V324.1" fill="none" stroke="#2020ff" stroke-width="0.9"/><line x1="523" y1="321.4" x2="529.1" y2="321.4" stroke="#2020ff" stroke-width="0.9"/><path d="M524.4 318.2 L525.6 320.3 L523.3 320.3 Z" fill="#0000ff"/><path d="M527.4 320.2 L528.6 322.3 L526.3 322.3 Z" fill="#0000ff"/><path d="M525.7 320.8 L526.9 322.9 L524.6 322.9 Z" fill="#0000ff"/><path d="M527.9 321.5 L529.1 323.6 L526.8 323.6 Z" fill="#0000ff"/><path d="M531.6 325.1 L532.6 323.2 L530.5 323.2 Z" fill="#ff6a13"/><path d="M533.5 325.1 L534.5 323.2 L532.5 323.2 Z" fill="#ff6a13"/><path d="M535.4 325.1 L536.5 323.2 L534.4 323.2 Z" fill="#ff6a13"/><path d="M537.4 325.1 L538.4 323.2 L536.3 323.2 Z" fill="#ff6a13"/><path d="M539.2 324.1 V322.8 H546.6 V324.1" fill="none" stroke="#20c020" stroke-width="0.9"/><path d="M542.9 321.7 V323.8 M540.9 321.7 H544.9 M540.9 323.8 H544.9" stroke="#20c020" stroke-width="0.8" fill="none"/><line x1="539.9" y1="322.8" x2="545.9" y2="322.8" stroke="#20c020" stroke-width="0.9"/><rect x="540.3" y="318.4" width="2.1" height="2.1" fill="#00c000"/><rect x="543.3" y="321.5" width="2.1" height="2.1" fill="#00c000"/><rect x="541.6" y="323.1" width="2.1" height="2.1" fill="#00c000"/><rect x="543.8" y="322.4" width="2.1" height="2.1" fill="#00c000"/><path d="M547.6 324.1 V273.3 H555 V324.1" fill="none" stroke="#d020d0" stroke-width="0.9"/><path d="M551.3 268.6 V277.9 M549.3 268.6 H553.3 M549.3 277.9 H553.3" stroke="#d020d0" stroke-width="0.8" fill="none"/><line x1="548.3" y1="273.3" x2="554.3" y2="273.3" stroke="#d020d0" stroke-width="0.9"/><path d="M549.7 263 L551 264.2 L549.7 265.5 L548.5 264.2 Z" fill="#cc00cc"/><path d="M552.7 267 L554 268.2 L552.7 269.5 L551.5 268.2 Z" fill="#cc00cc"/><path d="M551 272.3 L552.3 273.6 L551 274.8 L549.8 273.6 Z" fill="#cc00cc"/><path d="M553.2 285.6 L554.5 286.9 L553.2 288.1 L552 286.9 Z" fill="#cc00cc"/><path d="M556 324.1 V271.8 H563.5 V324.1" fill="none" stroke="#5050a8" stroke-width="0.9"/><path d="M559.8 265.2 V278.5 M557.8 265.2 H561.8 M557.8 278.5 H561.8" stroke="#5050a8" stroke-width="0.8" fill="none"/><line x1="556.8" y1="271.8" x2="562.8" y2="271.8" stroke="#5050a8" stroke-width="0.9"/><circle cx="558.2" cy="254.9" r="1.1" fill="#000080"/><circle cx="561.2" cy="268.2" r="1.1" fill="#000080"/><circle cx="559.5" cy="274.9" r="1.1" fill="#000080"/><circle cx="561.7" cy="288.2" r="1.1" fill="#000080"/><line x1="538.7" y1="324.1" x2="538.7" y2="326.7" stroke="#222" stroke-width="0.8"/><text x="539.5" y="333.7" font-size="6.8" fill="#111" stroke="#111" stroke-width="0.1" text-anchor="middle">Apex</text><circle cx="572.3" cy="324" r="0.9" fill="#ff0000"/><circle cx="574.2" cy="324" r="0.9" fill="#ff0000"/><circle cx="576.2" cy="324" r="0.9" fill="#ff0000"/><circle cx="578.1" cy="324" r="0.9" fill="#ff0000"/><path d="M579.9 324.1 V321.4 H587.4 V324.1" fill="none" stroke="#2020ff" stroke-width="0.9"/><line x1="580.6" y1="321.4" x2="586.7" y2="321.4" stroke="#2020ff" stroke-width="0.9"/><path d="M582 318.9 L583.2 320.9 L580.9 320.9 Z" fill="#0000ff"/><path d="M585 320.2 L586.2 322.3 L583.9 322.3 Z" fill="#0000ff"/><path d="M583.3 320.8 L584.5 322.9 L582.2 322.9 Z" fill="#0000ff"/><path d="M585.5 321.2 L586.7 323.3 L584.4 323.3 Z" fill="#0000ff"/><path d="M589.2 325.1 L590.2 323.2 L588.1 323.2 Z" fill="#ff6a13"/><path d="M591.1 325.1 L592.1 323.2 L590.1 323.2 Z" fill="#ff6a13"/><path d="M593 325.1 L594.1 323.2 L592 323.2 Z" fill="#ff6a13"/><path d="M595 325.1 L596 323.2 L593.9 323.2 Z" fill="#ff6a13"/><path d="M596.8 324.1 V322.1 H604.2 V324.1" fill="none" stroke="#20c020" stroke-width="0.9"/><path d="M600.5 320.6 V323.6 M598.5 320.6 H602.5 M598.5 323.6 H602.5" stroke="#20c020" stroke-width="0.8" fill="none"/><line x1="597.5" y1="322.1" x2="603.5" y2="322.1" stroke="#20c020" stroke-width="0.9"/><rect x="597.9" y="316.4" width="2.1" height="2.1" fill="#00c000"/><rect x="600.9" y="320.4" width="2.1" height="2.1" fill="#00c000"/><rect x="599.2" y="322.4" width="2.1" height="2.1" fill="#00c000"/><rect x="601.4" y="322.7" width="2.1" height="2.1" fill="#00c000"/><path d="M605.2 324.1 V321.4 H612.6 V324.1" fill="none" stroke="#d020d0" stroke-width="0.9"/><path d="M608.9 320.1 V322.8 M606.9 320.1 H610.9 M606.9 322.8 H610.9" stroke="#d020d0" stroke-width="0.8" fill="none"/><line x1="605.9" y1="321.4" x2="611.9" y2="321.4" stroke="#d020d0" stroke-width="0.9"/><path d="M607.3 316.9 L608.6 318.1 L607.3 319.4 L606.1 318.1 Z" fill="#cc00cc"/><path d="M610.3 319.5 L611.6 320.8 L610.3 322 L609.1 320.8 Z" fill="#cc00cc"/><path d="M608.6 321.5 L609.9 322.8 L608.6 324 L607.4 322.8 Z" fill="#cc00cc"/><path d="M610.8 322.2 L612.1 323.4 L610.8 324.7 L609.6 323.4 Z" fill="#cc00cc"/><path d="M613.6 324.1 V319.6 H621.1 V324.1" fill="none" stroke="#5050a8" stroke-width="0.9"/><path d="M617.4 317.8 V321.3 M615.4 317.8 H619.4 M615.4 321.3 H619.4" stroke="#5050a8" stroke-width="0.8" fill="none"/><line x1="614.4" y1="319.6" x2="620.4" y2="319.6" stroke="#5050a8" stroke-width="0.9"/><circle cx="615.8" cy="315.5" r="1.1" fill="#000080"/><circle cx="618.8" cy="318.1" r="1.1" fill="#000080"/><circle cx="617.1" cy="321.4" r="1.1" fill="#000080"/><circle cx="619.3" cy="322.8" r="1.1" fill="#000080"/><line x1="596.3" y1="324.1" x2="596.3" y2="326.7" stroke="#222" stroke-width="0.8"/><text x="597.1" y="333.7" font-size="6.8" fill="#111" stroke="#111" stroke-width="0.1" text-anchor="middle">Mid</text><circle cx="629.9" cy="324" r="0.9" fill="#ff0000"/><circle cx="631.8" cy="324" r="0.9" fill="#ff0000"/><circle cx="633.8" cy="324" r="0.9" fill="#ff0000"/><circle cx="635.7" cy="324" r="0.9" fill="#ff0000"/><path d="M637.5 324.1 V321.4 H645 V324.1" fill="none" stroke="#2020ff" stroke-width="0.9"/><line x1="638.2" y1="321.4" x2="644.3" y2="321.4" stroke="#2020ff" stroke-width="0.9"/><path d="M639.6 318.6 L640.8 320.7 L638.5 320.7 Z" fill="#0000ff"/><path d="M642.6 320.2 L643.8 322.3 L641.5 322.3 Z" fill="#0000ff"/><path d="M640.9 320.8 L642.1 322.9 L639.8 322.9 Z" fill="#0000ff"/><path d="M643.1 321.5 L644.3 323.6 L642 323.6 Z" fill="#0000ff"/><path d="M646.8 325.1 L647.8 323.2 L645.7 323.2 Z" fill="#ff6a13"/><path d="M648.7 325.1 L649.7 323.2 L647.7 323.2 Z" fill="#ff6a13"/><path d="M650.6 325.1 L651.7 323.2 L649.6 323.2 Z" fill="#ff6a13"/><path d="M652.6 325.1 L653.6 323.2 L651.5 323.2 Z" fill="#ff6a13"/><path d="M654.4 324.1 V322.8 H661.8 V324.1" fill="none" stroke="#20c020" stroke-width="0.9"/><line x1="655.1" y1="322.8" x2="661.1" y2="322.8" stroke="#20c020" stroke-width="0.9"/><rect x="655.5" y="320.4" width="2.1" height="2.1" fill="#00c000"/><rect x="658.5" y="321.7" width="2.1" height="2.1" fill="#00c000"/><rect x="656.8" y="322.4" width="2.1" height="2.1" fill="#00c000"/><rect x="659" y="322.7" width="2.1" height="2.1" fill="#00c000"/><path d="M663.6 322.9 L664.8 324 L663.6 325.1 L662.5 324 Z" fill="#cc00cc"/><path d="M665.6 322.9 L666.7 324 L665.6 325.1 L664.4 324 Z" fill="#cc00cc"/><path d="M667.5 322.9 L668.6 324 L667.5 325.1 L666.4 324 Z" fill="#cc00cc"/><path d="M669.5 322.9 L670.6 324 L669.5 325.1 L668.3 324 Z" fill="#cc00cc"/><circle cx="672" cy="324" r="0.9" fill="#000080"/><circle cx="674" cy="324" r="0.9" fill="#000080"/><circle cx="675.9" cy="324" r="0.9" fill="#000080"/><circle cx="677.9" cy="324" r="0.9" fill="#000080"/><line x1="653.9" y1="324.1" x2="653.9" y2="326.7" stroke="#222" stroke-width="0.8"/><text x="654.7" y="333.7" font-size="6.8" fill="#111" stroke="#111" stroke-width="0.1" text-anchor="middle">Base</text><path d="M517.6 258.5 V256.5 H551.3 V258.5" fill="none" stroke="#333" stroke-width="0.8"/><text x="534.5" y="255.3" font-size="6.3" fill="#222" text-anchor="middle">****</text><path d="M517.6 248.1 V246.1 H559.8 V248.1" fill="none" stroke="#333" stroke-width="0.8"/><text x="538.7" y="244.9" font-size="6.3" fill="#222" text-anchor="middle">****</text>
<line x1="287.5" y1="439.5" x2="462" y2="439.5" stroke="#222" stroke-width="0.9" stroke-dasharray="1.1 0.9"/><line x1="287.5" y1="358.7" x2="287.5" y2="439.5" stroke="#222" stroke-width="0.9"/><line x1="284.7" y1="439.5" x2="287.5" y2="439.5" stroke="#222" stroke-width="0.8"/><text x="280.2" y="441.9" font-size="6.8" fill="#111" stroke="#111" stroke-width="0.1" text-anchor="end">0</text><line x1="284.7" y1="419.4" x2="287.5" y2="419.4" stroke="#222" stroke-width="0.8"/><text x="280.2" y="421.8" font-size="6.8" fill="#111" stroke="#111" stroke-width="0.1" text-anchor="end">100</text><line x1="284.7" y1="399.3" x2="287.5" y2="399.3" stroke="#222" stroke-width="0.8"/><text x="280.2" y="401.7" font-size="6.8" fill="#111" stroke="#111" stroke-width="0.1" text-anchor="end">200</text><line x1="284.7" y1="379.2" x2="287.5" y2="379.2" stroke="#222" stroke-width="0.8"/><text x="280.2" y="381.6" font-size="6.8" fill="#111" stroke="#111" stroke-width="0.1" text-anchor="end">300</text><line x1="284.7" y1="359.1" x2="287.5" y2="359.1" stroke="#222" stroke-width="0.8"/><text x="280.2" y="361.5" font-size="6.8" fill="#111" stroke="#111" stroke-width="0.1" text-anchor="end">400</text><text x="0" y="0" font-size="8" fill="#111" stroke="#111" stroke-width="0.12" text-anchor="middle" transform="translate(263.2,395.3) rotate(-90)">EdU+ SCs / GER</text><circle cx="292.9" cy="439.4" r="0.9" fill="#ff0000"/><circle cx="294.8" cy="439.4" r="0.9" fill="#ff0000"/><circle cx="296.7" cy="439.4" r="0.9" fill="#ff0000"/><circle cx="298.6" cy="439.4" r="0.9" fill="#ff0000"/><path d="M300.4 439.5 V438.5 H307.7 V439.5" fill="none" stroke="#2020ff" stroke-width="0.9"/><line x1="301.1" y1="438.5" x2="307" y2="438.5" stroke="#2020ff" stroke-width="0.9"/><path d="M302.4 437 L303.6 439.1 L301.3 439.1 Z" fill="#0000ff"/><path d="M305.4 437.2 L306.6 439.3 L304.3 439.3 Z" fill="#0000ff"/><path d="M303.8 437.4 L304.9 439.5 L302.6 439.5 Z" fill="#0000ff"/><path d="M305.9 437.2 L307.1 439.3 L304.8 439.3 Z" fill="#0000ff"/><path d="M308.7 439.5 V403.5 H316 V439.5" fill="none" stroke="#ff7a2a" stroke-width="0.9"/><path d="M312.4 398.5 V408.5 M310.4 398.5 H314.4 M310.4 408.5 H314.4" stroke="#ff7a2a" stroke-width="0.8" fill="none"/><line x1="309.4" y1="403.5" x2="315.3" y2="403.5" stroke="#ff7a2a" stroke-width="0.9"/><path d="M310.8 388.9 L311.9 386.8 L309.6 386.8 Z" fill="#ff6a13"/><path d="M313.8 404.6 L314.9 402.5 L312.6 402.5 Z" fill="#ff6a13"/><path d="M312.1 410.6 L313.2 408.5 L310.9 408.5 Z" fill="#ff6a13"/><path d="M314.2 412.6 L315.4 410.5 L313.1 410.5 Z" fill="#ff6a13"/><path d="M317 439.5 V407.3 H324.3 V439.5" fill="none" stroke="#20c020" stroke-width="0.9"/><path d="M320.6 404.5 V410.2 M318.6 404.5 H322.6 M318.6 410.2 H322.6" stroke="#20c020" stroke-width="0.8" fill="none"/><line x1="317.7" y1="407.3" x2="323.6" y2="407.3" stroke="#20c020" stroke-width="0.9"/><rect x="318" y="400.3" width="2.1" height="2.1" fill="#00c000"/><rect x="321" y="405.3" width="2.1" height="2.1" fill="#00c000"/><rect x="319.3" y="408.3" width="2.1" height="2.1" fill="#00c000"/><rect x="321.5" y="411.3" width="2.1" height="2.1" fill="#00c000"/><path d="M325.3 439.5 V435.5 H332.6 V439.5" fill="none" stroke="#d020d0" stroke-width="0.9"/><path d="M328.9 434.7 V436.3 M326.9 434.7 H330.9 M326.9 436.3 H330.9" stroke="#d020d0" stroke-width="0.8" fill="none"/><line x1="326" y1="435.5" x2="331.9" y2="435.5" stroke="#d020d0" stroke-width="0.9"/><path d="M327.3 432.2 L328.6 433.5 L327.3 434.7 L326.1 433.5 Z" fill="#cc00cc"/><path d="M330.3 433.8 L331.6 435.1 L330.3 436.3 L329.1 435.1 Z" fill="#cc00cc"/><path d="M328.6 435.2 L329.9 436.5 L328.6 437.7 L327.4 436.5 Z" fill="#cc00cc"/><path d="M330.8 435.8 L332.1 437.1 L330.8 438.3 L329.6 437.1 Z" fill="#cc00cc"/><path d="M333.6 439.5 V396.1 H340.9 V439.5" fill="none" stroke="#5050a8" stroke-width="0.9"/><path d="M337.2 390.1 V402.1 M335.2 390.1 H339.2 M335.2 402.1 H339.2" stroke="#5050a8" stroke-width="0.8" fill="none"/><line x1="334.3" y1="396.1" x2="340.2" y2="396.1" stroke="#5050a8" stroke-width="0.9"/><circle cx="335.6" cy="378.2" r="1.1" fill="#000080"/><circle cx="338.6" cy="397.3" r="1.1" fill="#000080"/><circle cx="336.9" cy="401.3" r="1.1" fill="#000080"/><circle cx="339.1" cy="407.3" r="1.1" fill="#000080"/><line x1="316.5" y1="439.5" x2="316.5" y2="442.1" stroke="#222" stroke-width="0.8"/><text x="317.3" y="449.1" font-size="6.8" fill="#111" stroke="#111" stroke-width="0.1" text-anchor="middle">Apex</text><circle cx="350.6" cy="439.4" r="0.9" fill="#ff0000"/><circle cx="352.5" cy="439.4" r="0.9" fill="#ff0000"/><circle cx="354.4" cy="439.4" r="0.9" fill="#ff0000"/><circle cx="356.3" cy="439.4" r="0.9" fill="#ff0000"/><path d="M358.9 438.3 L359.9 440.2 L357.9 440.2 Z" fill="#0000ff"/><path d="M360.8 438.3 L361.8 440.2 L359.8 440.2 Z" fill="#0000ff"/><path d="M362.7 438.3 L363.7 440.2 L361.7 440.2 Z" fill="#0000ff"/><path d="M364.6 438.3 L365.6 440.2 L363.6 440.2 Z" fill="#0000ff"/><path d="M366.4 439.5 V420.2 H373.7 V439.5" fill="none" stroke="#ff7a2a" stroke-width="0.9"/><path d="M370.1 416.2 V424.2 M368.1 416.2 H372.1 M368.1 424.2 H372.1" stroke="#ff7a2a" stroke-width="0.8" fill="none"/><line x1="367.1" y1="420.2" x2="373" y2="420.2" stroke="#ff7a2a" stroke-width="0.9"/><path d="M368.4 408.6 L369.6 406.5 L367.3 406.5 Z" fill="#ff6a13"/><path d="M371.4 422.7 L372.6 420.6 L370.3 420.6 Z" fill="#ff6a13"/><path d="M369.8 425.7 L370.9 423.6 L368.6 423.6 Z" fill="#ff6a13"/><path d="M371.9 427.7 L373.1 425.6 L370.8 425.6 Z" fill="#ff6a13"/><path d="M374.7 439.5 V419.4 H382 V439.5" fill="none" stroke="#20c020" stroke-width="0.9"/><path d="M378.3 417 V421.8 M376.3 417 H380.3 M376.3 421.8 H380.3" stroke="#20c020" stroke-width="0.8" fill="none"/><line x1="375.4" y1="419.4" x2="381.3" y2="419.4" stroke="#20c020" stroke-width="0.9"/><rect x="375.7" y="412.3" width="2.1" height="2.1" fill="#00c000"/><rect x="378.7" y="416.7" width="2.1" height="2.1" fill="#00c000"/><rect x="377" y="419.4" width="2.1" height="2.1" fill="#00c000"/><rect x="379.2" y="423.4" width="2.1" height="2.1" fill="#00c000"/><path d="M383 439.5 V438.9 H390.3 V439.5" fill="none" stroke="#d020d0" stroke-width="0.9"/><line x1="383.7" y1="438.9" x2="389.6" y2="438.9" stroke="#d020d0" stroke-width="0.9"/><path d="M385 437 L386.3 438.3 L385 439.6 L383.8 438.3 Z" fill="#cc00cc"/><path d="M388 437.6 L389.3 438.9 L388 440.2 L386.8 438.9 Z" fill="#cc00cc"/><path d="M386.3 437.8 L387.6 439.1 L386.3 440.4 L385.1 439.1 Z" fill="#cc00cc"/><path d="M388.5 438 L389.8 439.3 L388.5 440.6 L387.3 439.3 Z" fill="#cc00cc"/><path d="M391.3 439.5 V416.4 H398.6 V439.5" fill="none" stroke="#5050a8" stroke-width="0.9"/><path d="M394.9 408.3 V424.4 M392.9 408.3 H396.9 M392.9 424.4 H396.9" stroke="#5050a8" stroke-width="0.8" fill="none"/><line x1="392" y1="416.4" x2="397.9" y2="416.4" stroke="#5050a8" stroke-width="0.9"/><circle cx="393.3" cy="397.3" r="1.1" fill="#000080"/><circle cx="396.3" cy="415.4" r="1.1" fill="#000080"/><circle cx="394.6" cy="423.4" r="1.1" fill="#000080"/><circle cx="396.8" cy="429.4" r="1.1" fill="#000080"/><line x1="374.2" y1="439.5" x2="374.2" y2="442.1" stroke="#222" stroke-width="0.8"/><text x="375" y="449.1" font-size="6.8" fill="#111" stroke="#111" stroke-width="0.1" text-anchor="middle">Mid</text><circle cx="408.3" cy="439.4" r="0.9" fill="#ff0000"/><circle cx="410.2" cy="439.4" r="0.9" fill="#ff0000"/><circle cx="412.1" cy="439.4" r="0.9" fill="#ff0000"/><circle cx="414" cy="439.4" r="0.9" fill="#ff0000"/><path d="M416.6 438.3 L417.6 440.2 L415.6 440.2 Z" fill="#0000ff"/><path d="M418.5 438.3 L419.5 440.2 L417.5 440.2 Z" fill="#0000ff"/><path d="M420.4 438.3 L421.4 440.2 L419.4 440.2 Z" fill="#0000ff"/><path d="M422.3 438.3 L423.3 440.2 L421.3 440.2 Z" fill="#0000ff"/><path d="M424.9 440.5 L425.9 438.6 L423.9 438.6 Z" fill="#ff6a13"/><path d="M426.8 440.5 L427.8 438.6 L425.8 438.6 Z" fill="#ff6a13"/><path d="M428.7 440.5 L429.7 438.6 L427.7 438.6 Z" fill="#ff6a13"/><path d="M430.6 440.5 L431.6 438.6 L429.6 438.6 Z" fill="#ff6a13"/><rect x="432.2" y="438.4" width="1.9" height="1.9" fill="#00c000"/><rect x="434.1" y="438.4" width="1.9" height="1.9" fill="#00c000"/><rect x="436.1" y="438.4" width="1.9" height="1.9" fill="#00c000"/><rect x="437.9" y="438.4" width="1.9" height="1.9" fill="#00c000"/><path d="M441.5 438.3 L442.6 439.4 L441.5 440.5 L440.4 439.4 Z" fill="#cc00cc"/><path d="M443.4 438.3 L444.5 439.4 L443.4 440.5 L442.3 439.4 Z" fill="#cc00cc"/><path d="M445.3 438.3 L446.4 439.4 L445.3 440.5 L444.2 439.4 Z" fill="#cc00cc"/><path d="M447.2 438.3 L448.3 439.4 L447.2 440.5 L446.1 439.4 Z" fill="#cc00cc"/><path d="M449 439.5 V435.7 H456.3 V439.5" fill="none" stroke="#5050a8" stroke-width="0.9"/><path d="M452.6 434.5 V436.9 M450.6 434.5 H454.6 M450.6 436.9 H454.6" stroke="#5050a8" stroke-width="0.8" fill="none"/><line x1="449.7" y1="435.7" x2="455.6" y2="435.7" stroke="#5050a8" stroke-width="0.9"/><circle cx="451" cy="432.5" r="1.1" fill="#000080"/><circle cx="454" cy="435.5" r="1.1" fill="#000080"/><circle cx="452.3" cy="436.5" r="1.1" fill="#000080"/><circle cx="454.5" cy="437.9" r="1.1" fill="#000080"/><line x1="431.9" y1="439.5" x2="431.9" y2="442.1" stroke="#222" stroke-width="0.8"/><text x="432.7" y="449.1" font-size="6.8" fill="#111" stroke="#111" stroke-width="0.1" text-anchor="middle">Base</text><path d="M295.8 383.2 V381.2 H312.4 V383.2" fill="none" stroke="#333" stroke-width="0.8"/><text x="304.1" y="380" font-size="6.3" fill="#222" text-anchor="middle">****</text><path d="M295.8 373.5 V371.5 H320.6 V373.5" fill="none" stroke="#333" stroke-width="0.8"/><text x="308.2" y="370.3" font-size="6.3" fill="#222" text-anchor="middle">****</text><path d="M295.8 363.5 V361.5 H337.2 V363.5" fill="none" stroke="#333" stroke-width="0.8"/><text x="316.5" y="360.3" font-size="6.3" fill="#222" text-anchor="middle">****</text><path d="M353.4 405.3 V403.3 H370.1 V405.3" fill="none" stroke="#333" stroke-width="0.8"/><text x="361.8" y="402.1" font-size="6.3" fill="#222" text-anchor="middle">***</text><path d="M353.4 397.6 V395.6 H378.3 V397.6" fill="none" stroke="#333" stroke-width="0.8"/><text x="365.9" y="394.4" font-size="6.3" fill="#222" text-anchor="middle">***</text><path d="M353.4 387.6 V385.6 H394.9 V387.6" fill="none" stroke="#333" stroke-width="0.8"/><text x="374.2" y="384.4" font-size="6.3" fill="#222" text-anchor="middle">****</text>
<line x1="510.7" y1="438.4" x2="685" y2="438.4" stroke="#222" stroke-width="0.9" stroke-dasharray="1.1 0.9"/><line x1="510.7" y1="358.6" x2="510.7" y2="438.4" stroke="#222" stroke-width="0.9"/><line x1="507.9" y1="438.4" x2="510.7" y2="438.4" stroke="#222" stroke-width="0.8"/><text x="504.2" y="440.8" font-size="6.8" fill="#111" stroke="#111" stroke-width="0.1" text-anchor="end">0</text><line x1="507.9" y1="422.5" x2="510.7" y2="422.5" stroke="#222" stroke-width="0.8"/><text x="504.2" y="424.9" font-size="6.8" fill="#111" stroke="#111" stroke-width="0.1" text-anchor="end">50</text><line x1="507.9" y1="406.6" x2="510.7" y2="406.6" stroke="#222" stroke-width="0.8"/><text x="504.2" y="409" font-size="6.8" fill="#111" stroke="#111" stroke-width="0.1" text-anchor="end">100</text><line x1="507.9" y1="390.8" x2="510.7" y2="390.8" stroke="#222" stroke-width="0.8"/><text x="504.2" y="393.2" font-size="6.8" fill="#111" stroke="#111" stroke-width="0.1" text-anchor="end">150</text><line x1="507.9" y1="374.9" x2="510.7" y2="374.9" stroke="#222" stroke-width="0.8"/><text x="504.2" y="377.3" font-size="6.8" fill="#111" stroke="#111" stroke-width="0.1" text-anchor="end">200</text><line x1="507.9" y1="359" x2="510.7" y2="359" stroke="#222" stroke-width="0.8"/><text x="504.2" y="361.4" font-size="6.8" fill="#111" stroke="#111" stroke-width="0.1" text-anchor="end">250</text><text x="0" y="0" font-size="8" fill="#111" stroke="#111" stroke-width="0.12" text-anchor="middle" transform="translate(487.4,394.7) rotate(-90)">EdU+ SCs / SR</text><circle cx="515.7" cy="438.3" r="0.9" fill="#ff0000"/><circle cx="517.6" cy="438.3" r="0.9" fill="#ff0000"/><circle cx="519.5" cy="438.3" r="0.9" fill="#ff0000"/><circle cx="521.4" cy="438.3" r="0.9" fill="#ff0000"/><path d="M523.2 438.4 V437.8 H530.5 V438.4" fill="none" stroke="#2020ff" stroke-width="0.9"/><line x1="523.9" y1="437.8" x2="529.8" y2="437.8" stroke="#2020ff" stroke-width="0.9"/><path d="M525.2 436.2 L526.4 438.3 L524.1 438.3 Z" fill="#0000ff"/><path d="M528.2 436.5 L529.4 438.6 L527.1 438.6 Z" fill="#0000ff"/><path d="M526.5 436.5 L527.7 438.6 L525.4 438.6 Z" fill="#0000ff"/><path d="M528.7 436.8 L529.9 438.9 L527.6 438.9 Z" fill="#0000ff"/><path d="M531.5 438.4 V388.9 H538.8 V438.4" fill="none" stroke="#ff7a2a" stroke-width="0.9"/><path d="M535.1 383.1 V394.6 M533.1 383.1 H537.1 M533.1 394.6 H537.1" stroke="#ff7a2a" stroke-width="0.8" fill="none"/><line x1="532.2" y1="388.9" x2="538.1" y2="388.9" stroke="#ff7a2a" stroke-width="0.9"/><path d="M533.5 384.1 L534.7 382 L532.4 382 Z" fill="#ff6a13"/><path d="M536.5 384.1 L537.7 382 L535.4 382 Z" fill="#ff6a13"/><path d="M534.9 392 L536 389.9 L533.7 389.9 Z" fill="#ff6a13"/><path d="M537 408.9 L538.2 406.8 L535.9 406.8 Z" fill="#ff6a13"/><path d="M539.8 438.4 V436.8 H547.1 V438.4" fill="none" stroke="#20c020" stroke-width="0.9"/><path d="M543.4 435.9 V437.8 M541.4 435.9 H545.4 M541.4 437.8 H545.4" stroke="#20c020" stroke-width="0.8" fill="none"/><line x1="540.5" y1="436.8" x2="546.4" y2="436.8" stroke="#20c020" stroke-width="0.9"/><rect x="540.8" y="431.6" width="2.1" height="2.1" fill="#00c000"/><rect x="543.8" y="436.1" width="2.1" height="2.1" fill="#00c000"/><rect x="542.1" y="436.7" width="2.1" height="2.1" fill="#00c000"/><rect x="544.3" y="437" width="2.1" height="2.1" fill="#00c000"/><path d="M548.1 438.4 V431.7 H555.4 V438.4" fill="none" stroke="#d020d0" stroke-width="0.9"/><path d="M551.8 429.8 V433.6 M549.8 429.8 H553.8 M549.8 433.6 H553.8" stroke="#d020d0" stroke-width="0.8" fill="none"/><line x1="548.8" y1="431.7" x2="554.7" y2="431.7" stroke="#d020d0" stroke-width="0.9"/><path d="M550.1 425.1 L551.4 426.3 L550.1 427.6 L548.9 426.3 Z" fill="#cc00cc"/><path d="M553.1 429.2 L554.4 430.5 L553.1 431.7 L551.9 430.5 Z" fill="#cc00cc"/><path d="M551.5 432.4 L552.7 433.6 L551.5 434.9 L550.2 433.6 Z" fill="#cc00cc"/><path d="M553.6 434.6 L554.9 435.9 L553.6 437.1 L552.4 435.9 Z" fill="#cc00cc"/><path d="M556.4 438.4 V431.1 H563.7 V438.4" fill="none" stroke="#5050a8" stroke-width="0.9"/><path d="M560 428.6 V433.6 M558 428.6 H562 M558 433.6 H562" stroke="#5050a8" stroke-width="0.8" fill="none"/><line x1="557.1" y1="431.1" x2="563" y2="431.1" stroke="#5050a8" stroke-width="0.9"/><circle cx="558.4" cy="425.1" r="1.1" fill="#000080"/><circle cx="561.4" cy="428.9" r="1.1" fill="#000080"/><circle cx="559.8" cy="433.6" r="1.1" fill="#000080"/><circle cx="561.9" cy="436.5" r="1.1" fill="#000080"/><line x1="539.3" y1="438.4" x2="539.3" y2="441" stroke="#222" stroke-width="0.8"/><text x="540.1" y="449.4" font-size="6.8" fill="#111" stroke="#111" stroke-width="0.1" text-anchor="middle">Apex</text><circle cx="573.3" cy="438.3" r="0.9" fill="#ff0000"/><circle cx="575.2" cy="438.3" r="0.9" fill="#ff0000"/><circle cx="577.1" cy="438.3" r="0.9" fill="#ff0000"/><circle cx="579" cy="438.3" r="0.9" fill="#ff0000"/><path d="M580.8 438.4 V437.8 H588.1 V438.4" fill="none" stroke="#2020ff" stroke-width="0.9"/><line x1="581.5" y1="437.8" x2="587.4" y2="437.8" stroke="#2020ff" stroke-width="0.9"/><path d="M582.8 436.2 L584 438.3 L581.7 438.3 Z" fill="#0000ff"/><path d="M585.8 436.5 L587 438.6 L584.7 438.6 Z" fill="#0000ff"/><path d="M584.1 436.5 L585.3 438.6 L583 438.6 Z" fill="#0000ff"/><path d="M586.3 436.8 L587.5 438.9 L585.2 438.9 Z" fill="#0000ff"/><path d="M589.1 438.4 V423.2 H596.4 V438.4" fill="none" stroke="#ff7a2a" stroke-width="0.9"/><path d="M592.8 418.4 V427.9 M590.8 418.4 H594.8 M590.8 427.9 H594.8" stroke="#ff7a2a" stroke-width="0.8" fill="none"/><line x1="589.8" y1="423.2" x2="595.7" y2="423.2" stroke="#ff7a2a" stroke-width="0.9"/><path d="M591.1 411.7 L592.3 409.6 L590 409.6 Z" fill="#ff6a13"/><path d="M594.1 422.2 L595.3 420.1 L593 420.1 Z" fill="#ff6a13"/><path d="M592.5 430.1 L593.6 428 L591.3 428 Z" fill="#ff6a13"/><path d="M594.6 433.3 L595.8 431.2 L593.5 431.2 Z" fill="#ff6a13"/><rect x="597.2" y="437.3" width="1.9" height="1.9" fill="#00c000"/><rect x="599.1" y="437.3" width="1.9" height="1.9" fill="#00c000"/><rect x="601" y="437.3" width="1.9" height="1.9" fill="#00c000"/><rect x="602.9" y="437.3" width="1.9" height="1.9" fill="#00c000"/><path d="M605.7 438.4 V436.8 H613 V438.4" fill="none" stroke="#d020d0" stroke-width="0.9"/><line x1="606.4" y1="436.8" x2="612.3" y2="436.8" stroke="#d020d0" stroke-width="0.9"/><path d="M607.8 434.9 L609 436.2 L607.8 437.4 L606.5 436.2 Z" fill="#cc00cc"/><path d="M610.8 435.6 L612 436.8 L610.8 438.1 L609.5 436.8 Z" fill="#cc00cc"/><path d="M609.1 435.9 L610.3 437.1 L609.1 438.4 L607.8 437.1 Z" fill="#cc00cc"/><path d="M611.2 436.2 L612.5 437.4 L611.2 438.7 L610 437.4 Z" fill="#cc00cc"/><path d="M614 438.4 V436.2 H621.3 V438.4" fill="none" stroke="#5050a8" stroke-width="0.9"/><line x1="614.7" y1="436.2" x2="620.6" y2="436.2" stroke="#5050a8" stroke-width="0.9"/><circle cx="616" cy="435.2" r="1.1" fill="#000080"/><circle cx="619" cy="435.9" r="1.1" fill="#000080"/><circle cx="617.4" cy="436.5" r="1.1" fill="#000080"/><circle cx="619.5" cy="437.1" r="1.1" fill="#000080"/><line x1="596.9" y1="438.4" x2="596.9" y2="441" stroke="#222" stroke-width="0.8"/><text x="597.7" y="449.4" font-size="6.8" fill="#111" stroke="#111" stroke-width="0.1" text-anchor="middle">Mid</text><circle cx="630.9" cy="438.3" r="0.9" fill="#ff0000"/><circle cx="632.8" cy="438.3" r="0.9" fill="#ff0000"/><circle cx="634.7" cy="438.3" r="0.9" fill="#ff0000"/><circle cx="636.6" cy="438.3" r="0.9" fill="#ff0000"/><path d="M638.4 438.4 V437.8 H645.7 V438.4" fill="none" stroke="#2020ff" stroke-width="0.9"/><line x1="639.1" y1="437.8" x2="645" y2="437.8" stroke="#2020ff" stroke-width="0.9"/><path d="M640.4 435.9 L641.6 438 L639.3 438 Z" fill="#0000ff"/><path d="M643.4 436.2 L644.6 438.3 L642.3 438.3 Z" fill="#0000ff"/><path d="M641.8 436.5 L642.9 438.6 L640.6 438.6 Z" fill="#0000ff"/><path d="M643.9 436.8 L645.1 438.9 L642.8 438.9 Z" fill="#0000ff"/><path d="M646.7 438.4 V432 H654 V438.4" fill="none" stroke="#ff7a2a" stroke-width="0.9"/><path d="M650.4 430.1 V434 M648.4 430.1 H652.4 M648.4 434 H652.4" stroke="#ff7a2a" stroke-width="0.8" fill="none"/><line x1="647.4" y1="432" x2="653.3" y2="432" stroke="#ff7a2a" stroke-width="0.9"/><path d="M648.8 427.6 L649.9 425.5 L647.6 425.5 Z" fill="#ff6a13"/><path d="M651.8 431.7 L652.9 429.6 L650.6 429.6 Z" fill="#ff6a13"/><path d="M650.1 434.9 L651.2 432.8 L648.9 432.8 Z" fill="#ff6a13"/><path d="M652.2 437.1 L653.4 435 L651.1 435 Z" fill="#ff6a13"/><path d="M655 438.4 V437.8 H662.3 V438.4" fill="none" stroke="#20c020" stroke-width="0.9"/><line x1="655.7" y1="437.8" x2="661.6" y2="437.8" stroke="#20c020" stroke-width="0.9"/><rect x="656" y="435.8" width="2.1" height="2.1" fill="#00c000"/><rect x="659" y="436.4" width="2.1" height="2.1" fill="#00c000"/><rect x="657.3" y="437" width="2.1" height="2.1" fill="#00c000"/><rect x="659.5" y="437.2" width="2.1" height="2.1" fill="#00c000"/><path d="M664.1 437.2 L665.2 438.3 L664.1 439.4 L663 438.3 Z" fill="#cc00cc"/><path d="M666 437.2 L667.1 438.3 L666 439.4 L664.9 438.3 Z" fill="#cc00cc"/><path d="M667.9 437.2 L669 438.3 L667.9 439.4 L666.8 438.3 Z" fill="#cc00cc"/><path d="M669.8 437.2 L670.9 438.3 L669.8 439.4 L668.7 438.3 Z" fill="#cc00cc"/><circle cx="672.4" cy="438.3" r="0.9" fill="#000080"/><circle cx="674.3" cy="438.3" r="0.9" fill="#000080"/><circle cx="676.2" cy="438.3" r="0.9" fill="#000080"/><circle cx="678.1" cy="438.3" r="0.9" fill="#000080"/><line x1="654.5" y1="438.4" x2="654.5" y2="441" stroke="#222" stroke-width="0.8"/><text x="655.3" y="449.4" font-size="6.8" fill="#111" stroke="#111" stroke-width="0.1" text-anchor="middle">Base</text><path d="M518.5 377 V375 H535.1 V377" fill="none" stroke="#333" stroke-width="0.8"/><text x="526.8" y="373.8" font-size="6.3" fill="#222" text-anchor="middle">****</text><path d="M576.1 407.3 V405.3 H592.8 V407.3" fill="none" stroke="#333" stroke-width="0.8"/><text x="584.5" y="404.1" font-size="6.3" fill="#222" text-anchor="middle">****</text>
<circle cx="601.6" cy="245.2" r="1" fill="#ff0000"/>
<text x="611" y="247.6" font-size="6.7" fill="#222" text-anchor="start" stroke="#222" stroke-width="0.1">Neo (n = 4)</text>
<path d="M601.6 252.8 L602.7 254.8 L600.5 254.8 Z" fill="#0000ff"/>
<text x="611" y="256.4" font-size="6.7" fill="#222" text-anchor="start" stroke="#222" stroke-width="0.1">Neo+MP1 (n = 4)</text>
<path d="M601.6 263.5 L602.7 261.5 L600.5 261.5 Z" fill="#ff6a13"/>
<text x="611" y="264.7" font-size="6.7" fill="#222" text-anchor="start" stroke="#222" stroke-width="0.1">Neo+BIO (n = 4)</text>
<rect x="600.6" y="269.6" width="2" height="2" fill="#00c000"/>
<text x="611" y="273" font-size="6.7" fill="#222" text-anchor="start" stroke="#222" stroke-width="0.1">Neo+MP1+BIO (n = 4)</text>
<path d="M601.6 278.6 L602.8 279.8 L601.6 281 L600.4 279.8 Z" fill="#cc00cc"/>
<text x="611" y="282.2" font-size="6.7" fill="#222" text-anchor="start" stroke="#222" stroke-width="0.1">Neo+DAPT (n = 4)</text>
<circle cx="601.6" cy="288.3" r="1" fill="#000080"/>
<text x="611" y="290.7" font-size="6.7" fill="#222" text-anchor="start" stroke="#222" stroke-width="0.1">Neo+MP1+DAPT (n = 4)</text>
</svg>
</body></html>
